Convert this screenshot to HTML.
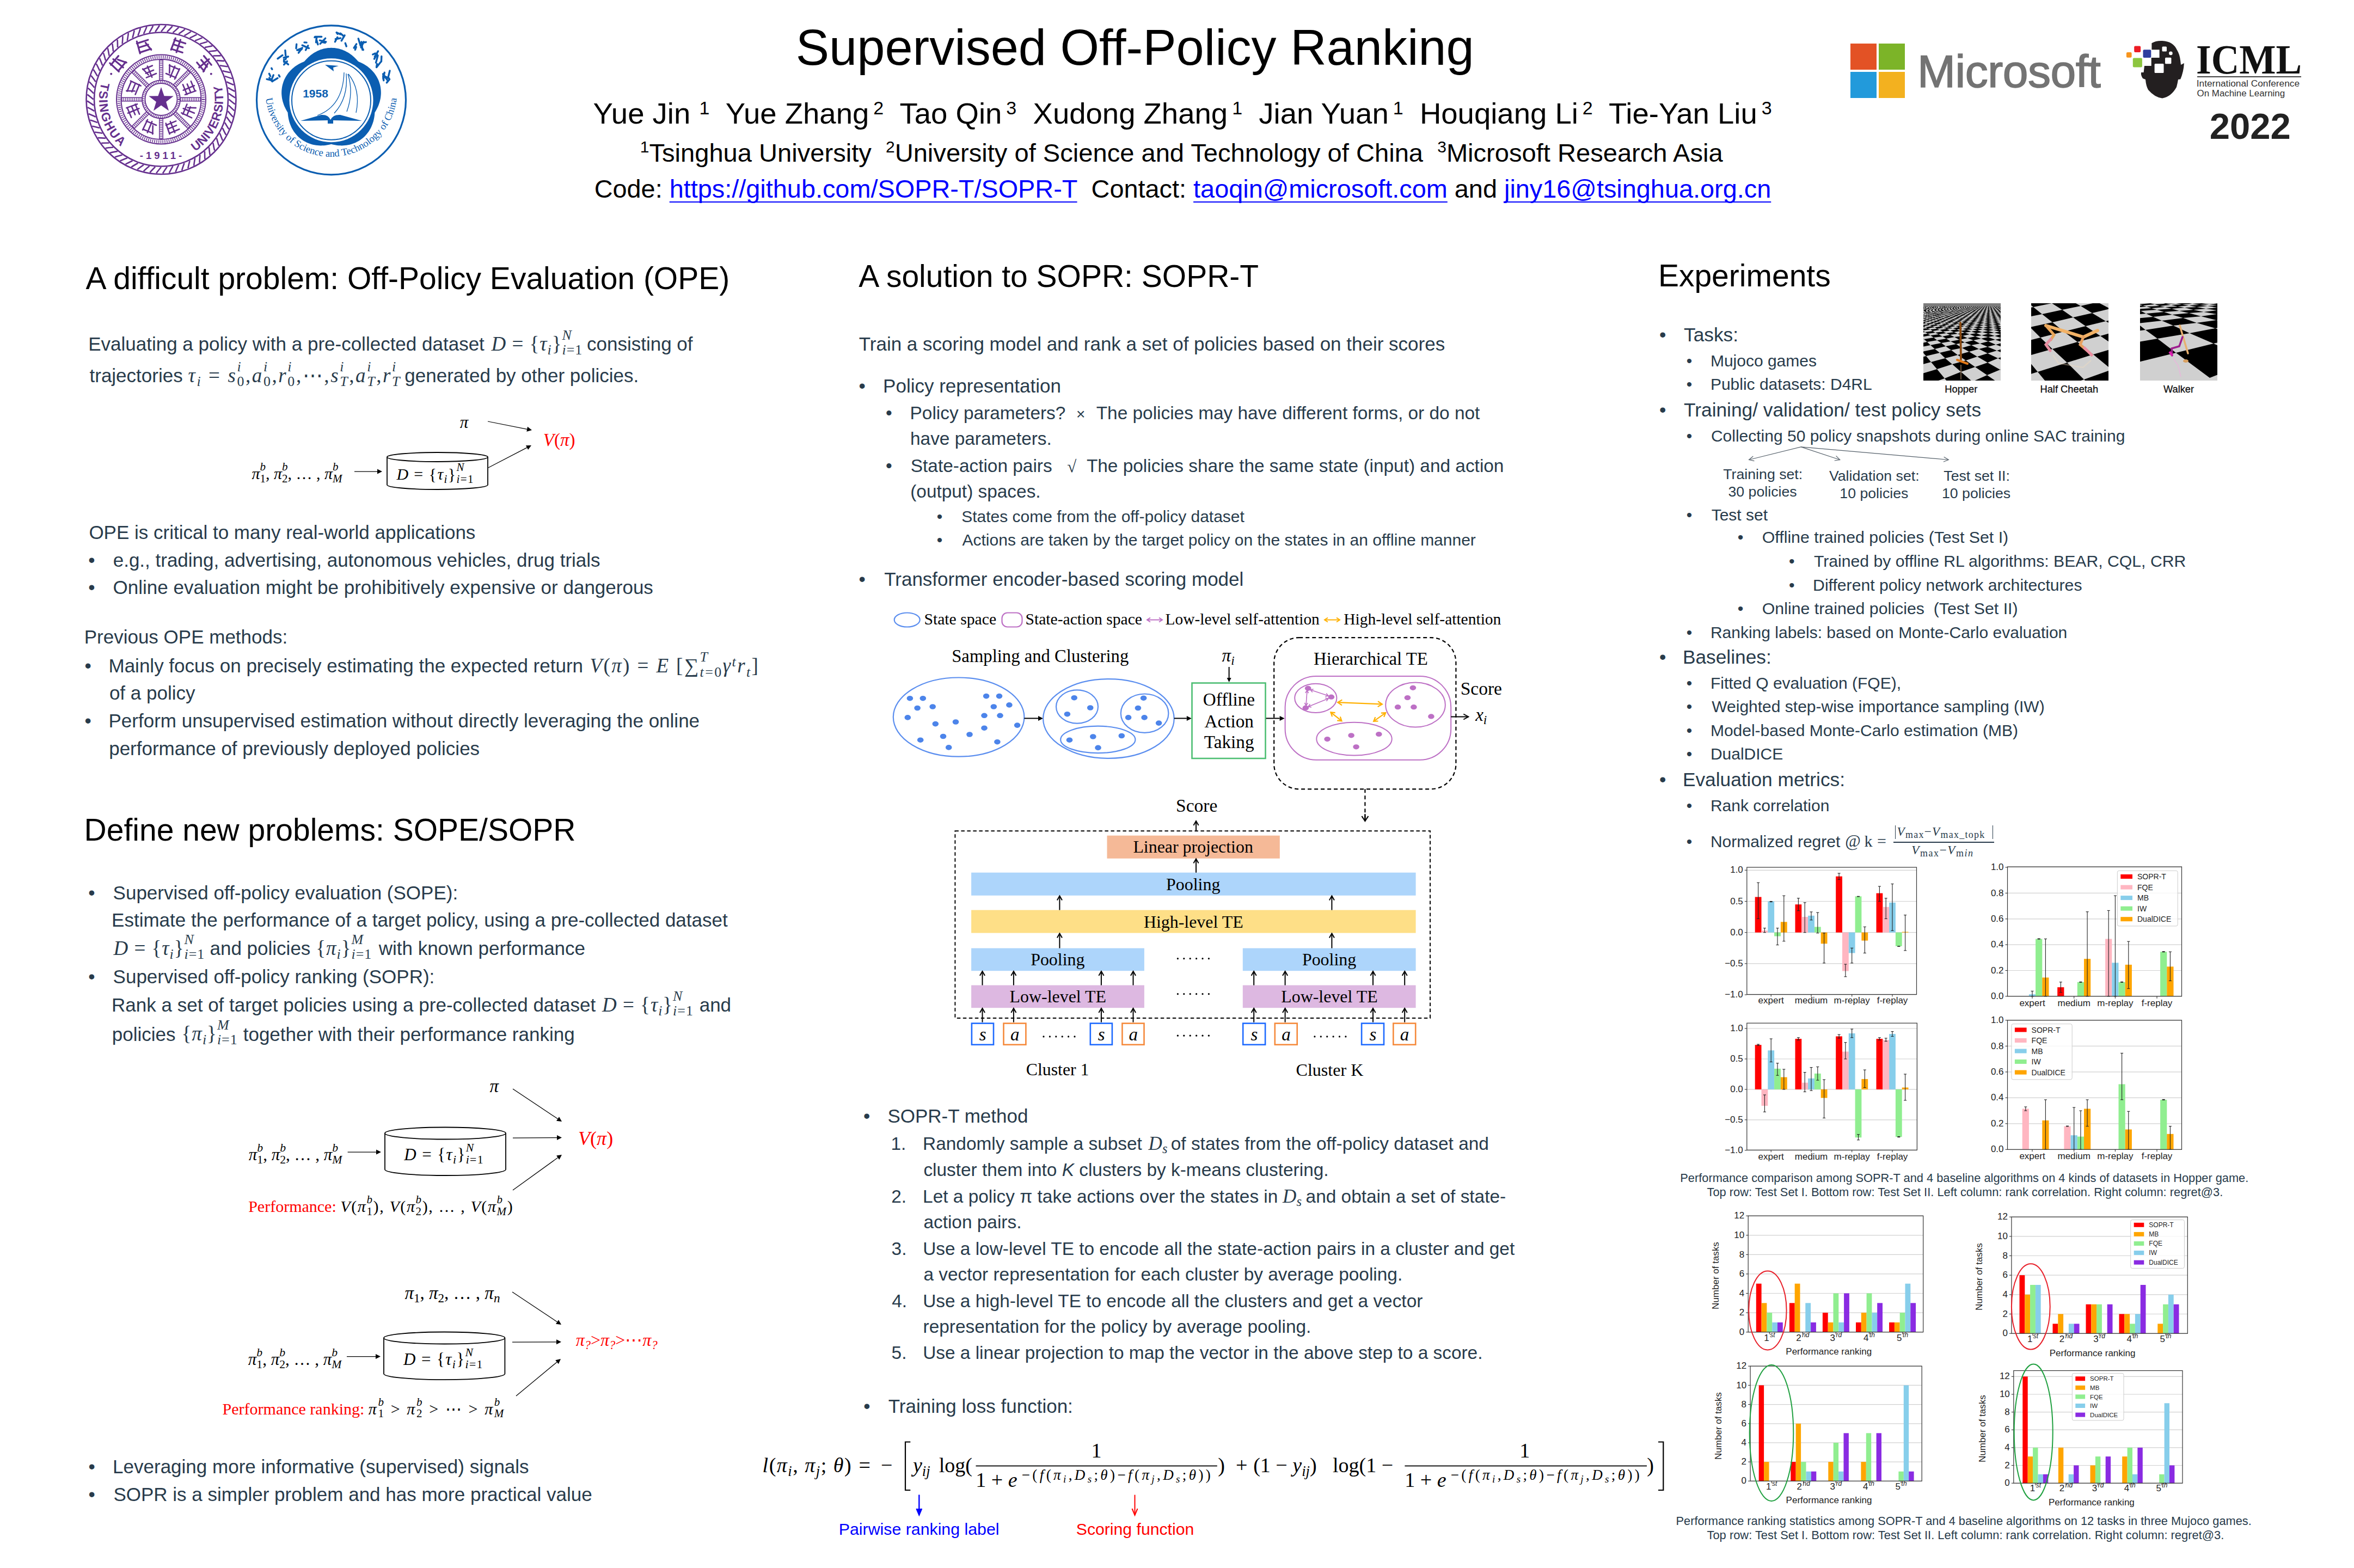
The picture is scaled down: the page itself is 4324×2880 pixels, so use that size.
<!DOCTYPE html>
<html><head><meta charset="utf-8"><title>Supervised Off-Policy Ranking</title><style>
html,body{margin:0;padding:0;background:#fff}
body{width:4324px;height:2880px;position:relative;overflow:hidden}
.t{position:absolute;white-space:pre;line-height:0}
.m{font-family:'Liberation Serif',serif;font-style:italic}
.mr{font-family:'Liberation Serif',serif;font-style:normal}
.sb{font-size:0.7em;position:relative;top:0.28em;line-height:0}
.sp{font-size:0.7em;position:relative;top:-0.42em;line-height:0}
.ssw{position:relative;line-height:0}
.ssu{position:absolute;left:0;font-size:0.7em;transform:translateY(-0.62em);line-height:0}
svg{position:absolute;overflow:visible}
</style></head><body>
<svg style="left:0;top:0" width="620" height="380" viewBox="0 0 620 380">
<circle cx="296" cy="182.5" r="137.5" fill="none" stroke="#652F8E" stroke-width="2.6"/>
<circle cx="296" cy="182.5" r="123" fill="none" stroke="#652F8E" stroke-width="2.6"/>
<path d="M420.5,182.5 Q427.8,188.7 431.7,191.4" stroke="#652F8E" stroke-width="2.6" fill="none"/>
<path d="M420.0,193.4 Q426.8,200.2 430.4,203.2" stroke="#652F8E" stroke-width="2.6" fill="none"/>
<path d="M418.6,204.1 Q424.8,211.5 428.1,214.8" stroke="#652F8E" stroke-width="2.6" fill="none"/>
<path d="M416.3,214.7 Q421.7,222.7 424.8,226.2" stroke="#652F8E" stroke-width="2.6" fill="none"/>
<path d="M413.0,225.1 Q417.8,233.5 420.5,237.3" stroke="#652F8E" stroke-width="2.6" fill="none"/>
<path d="M408.8,235.1 Q412.9,243.9 415.2,247.9" stroke="#652F8E" stroke-width="2.6" fill="none"/>
<path d="M403.8,244.8 Q407.1,253.8 409.1,258.1" stroke="#652F8E" stroke-width="2.6" fill="none"/>
<path d="M398.0,253.9 Q400.4,263.2 402.1,267.6" stroke="#652F8E" stroke-width="2.6" fill="none"/>
<path d="M391.4,262.5 Q393.0,272.0 394.2,276.5" stroke="#652F8E" stroke-width="2.6" fill="none"/>
<path d="M384.0,270.5 Q384.8,280.1 385.7,284.8" stroke="#652F8E" stroke-width="2.6" fill="none"/>
<path d="M376.0,277.9 Q376.0,287.5 376.4,292.2" stroke="#652F8E" stroke-width="2.6" fill="none"/>
<path d="M367.4,284.5 Q366.5,294.1 366.6,298.8" stroke="#652F8E" stroke-width="2.6" fill="none"/>
<path d="M358.2,290.3 Q356.5,299.8 356.2,304.5" stroke="#652F8E" stroke-width="2.6" fill="none"/>
<path d="M348.6,295.3 Q346.1,304.6 345.3,309.3" stroke="#652F8E" stroke-width="2.6" fill="none"/>
<path d="M338.6,299.5 Q335.2,308.5 334.1,313.1" stroke="#652F8E" stroke-width="2.6" fill="none"/>
<path d="M328.2,302.8 Q324.1,311.5 322.5,315.9" stroke="#652F8E" stroke-width="2.6" fill="none"/>
<path d="M317.6,305.1 Q312.7,313.4 310.8,317.7" stroke="#652F8E" stroke-width="2.6" fill="none"/>
<path d="M306.9,306.5 Q301.3,314.4 299.0,318.5" stroke="#652F8E" stroke-width="2.6" fill="none"/>
<path d="M296.0,307.0 Q289.8,314.3 287.1,318.2" stroke="#652F8E" stroke-width="2.6" fill="none"/>
<path d="M285.1,306.5 Q278.3,313.3 275.3,316.9" stroke="#652F8E" stroke-width="2.6" fill="none"/>
<path d="M274.4,305.1 Q267.0,311.3 263.7,314.6" stroke="#652F8E" stroke-width="2.6" fill="none"/>
<path d="M263.8,302.8 Q255.8,308.2 252.3,311.3" stroke="#652F8E" stroke-width="2.6" fill="none"/>
<path d="M253.4,299.5 Q245.0,304.3 241.2,307.0" stroke="#652F8E" stroke-width="2.6" fill="none"/>
<path d="M243.4,295.3 Q234.6,299.4 230.6,301.7" stroke="#652F8E" stroke-width="2.6" fill="none"/>
<path d="M233.8,290.3 Q224.7,293.6 220.4,295.6" stroke="#652F8E" stroke-width="2.6" fill="none"/>
<path d="M224.6,284.5 Q215.3,286.9 210.9,288.6" stroke="#652F8E" stroke-width="2.6" fill="none"/>
<path d="M216.0,277.9 Q206.5,279.5 202.0,280.7" stroke="#652F8E" stroke-width="2.6" fill="none"/>
<path d="M208.0,270.5 Q198.4,271.3 193.7,272.2" stroke="#652F8E" stroke-width="2.6" fill="none"/>
<path d="M200.6,262.5 Q191.0,262.5 186.3,262.9" stroke="#652F8E" stroke-width="2.6" fill="none"/>
<path d="M194.0,253.9 Q184.4,253.0 179.7,253.1" stroke="#652F8E" stroke-width="2.6" fill="none"/>
<path d="M188.2,244.8 Q178.7,243.0 174.0,242.7" stroke="#652F8E" stroke-width="2.6" fill="none"/>
<path d="M183.2,235.1 Q173.9,232.6 169.2,231.8" stroke="#652F8E" stroke-width="2.6" fill="none"/>
<path d="M179.0,225.1 Q170.0,221.7 165.4,220.6" stroke="#652F8E" stroke-width="2.6" fill="none"/>
<path d="M175.7,214.7 Q167.0,210.6 162.6,209.0" stroke="#652F8E" stroke-width="2.6" fill="none"/>
<path d="M173.4,204.1 Q165.1,199.2 160.8,197.3" stroke="#652F8E" stroke-width="2.6" fill="none"/>
<path d="M172.0,193.4 Q164.1,187.8 160.0,185.5" stroke="#652F8E" stroke-width="2.6" fill="none"/>
<path d="M171.5,182.5 Q164.2,176.3 160.3,173.6" stroke="#652F8E" stroke-width="2.6" fill="none"/>
<path d="M172.0,171.6 Q165.2,164.8 161.6,161.8" stroke="#652F8E" stroke-width="2.6" fill="none"/>
<path d="M173.4,160.9 Q167.2,153.5 163.9,150.2" stroke="#652F8E" stroke-width="2.6" fill="none"/>
<path d="M175.7,150.3 Q170.3,142.3 167.2,138.8" stroke="#652F8E" stroke-width="2.6" fill="none"/>
<path d="M179.0,139.9 Q174.2,131.5 171.5,127.7" stroke="#652F8E" stroke-width="2.6" fill="none"/>
<path d="M183.2,129.9 Q179.1,121.1 176.8,117.1" stroke="#652F8E" stroke-width="2.6" fill="none"/>
<path d="M188.2,120.2 Q184.9,111.2 182.9,106.9" stroke="#652F8E" stroke-width="2.6" fill="none"/>
<path d="M194.0,111.1 Q191.6,101.8 189.9,97.4" stroke="#652F8E" stroke-width="2.6" fill="none"/>
<path d="M200.6,102.5 Q199.0,93.0 197.8,88.5" stroke="#652F8E" stroke-width="2.6" fill="none"/>
<path d="M208.0,94.5 Q207.2,84.9 206.3,80.2" stroke="#652F8E" stroke-width="2.6" fill="none"/>
<path d="M216.0,87.1 Q216.0,77.5 215.6,72.8" stroke="#652F8E" stroke-width="2.6" fill="none"/>
<path d="M224.6,80.5 Q225.5,70.9 225.4,66.2" stroke="#652F8E" stroke-width="2.6" fill="none"/>
<path d="M233.7,74.7 Q235.5,65.2 235.8,60.5" stroke="#652F8E" stroke-width="2.6" fill="none"/>
<path d="M243.4,69.7 Q245.9,60.4 246.7,55.7" stroke="#652F8E" stroke-width="2.6" fill="none"/>
<path d="M253.4,65.5 Q256.8,56.5 257.9,51.9" stroke="#652F8E" stroke-width="2.6" fill="none"/>
<path d="M263.8,62.2 Q267.9,53.5 269.5,49.1" stroke="#652F8E" stroke-width="2.6" fill="none"/>
<path d="M274.4,59.9 Q279.3,51.6 281.2,47.3" stroke="#652F8E" stroke-width="2.6" fill="none"/>
<path d="M285.1,58.5 Q290.7,50.6 293.0,46.5" stroke="#652F8E" stroke-width="2.6" fill="none"/>
<path d="M296.0,58.0 Q302.2,50.7 304.9,46.8" stroke="#652F8E" stroke-width="2.6" fill="none"/>
<path d="M306.9,58.5 Q313.7,51.7 316.7,48.1" stroke="#652F8E" stroke-width="2.6" fill="none"/>
<path d="M317.6,59.9 Q325.0,53.7 328.3,50.4" stroke="#652F8E" stroke-width="2.6" fill="none"/>
<path d="M328.2,62.2 Q336.2,56.8 339.7,53.7" stroke="#652F8E" stroke-width="2.6" fill="none"/>
<path d="M338.6,65.5 Q347.0,60.7 350.8,58.0" stroke="#652F8E" stroke-width="2.6" fill="none"/>
<path d="M348.6,69.7 Q357.4,65.6 361.4,63.3" stroke="#652F8E" stroke-width="2.6" fill="none"/>
<path d="M358.2,74.7 Q367.3,71.4 371.6,69.4" stroke="#652F8E" stroke-width="2.6" fill="none"/>
<path d="M367.4,80.5 Q376.7,78.1 381.1,76.4" stroke="#652F8E" stroke-width="2.6" fill="none"/>
<path d="M376.0,87.1 Q385.5,85.5 390.0,84.3" stroke="#652F8E" stroke-width="2.6" fill="none"/>
<path d="M384.0,94.5 Q393.6,93.7 398.3,92.8" stroke="#652F8E" stroke-width="2.6" fill="none"/>
<path d="M391.4,102.5 Q401.0,102.5 405.7,102.1" stroke="#652F8E" stroke-width="2.6" fill="none"/>
<path d="M398.0,111.1 Q407.6,112.0 412.3,111.9" stroke="#652F8E" stroke-width="2.6" fill="none"/>
<path d="M403.8,120.3 Q413.3,122.0 418.0,122.3" stroke="#652F8E" stroke-width="2.6" fill="none"/>
<path d="M408.8,129.9 Q418.1,132.4 422.8,133.2" stroke="#652F8E" stroke-width="2.6" fill="none"/>
<path d="M413.0,139.9 Q422.0,143.3 426.6,144.4" stroke="#652F8E" stroke-width="2.6" fill="none"/>
<path d="M416.3,150.3 Q425.0,154.4 429.4,156.0" stroke="#652F8E" stroke-width="2.6" fill="none"/>
<path d="M418.6,160.9 Q426.9,165.8 431.2,167.7" stroke="#652F8E" stroke-width="2.6" fill="none"/>
<path d="M420.0,171.6 Q427.9,177.2 432.0,179.5" stroke="#652F8E" stroke-width="2.6" fill="none"/>
<circle cx="296" cy="182.5" r="82" fill="none" stroke="#652F8E" stroke-width="2"/>
<circle cx="296" cy="182.5" r="73.5" fill="none" stroke="#652F8E" stroke-width="2"/>
<circle cx="296" cy="182.5" r="77.7" fill="none" stroke="#652F8E" stroke-width="5.5" stroke-dasharray="1.6 2.2" opacity="0.9"/>
<circle cx="296" cy="182.5" r="35" fill="none" stroke="#652F8E" stroke-width="1.8"/>
<circle cx="296" cy="182.5" r="29.5" fill="none" stroke="#652F8E" stroke-width="1.8"/>
<circle cx="296" cy="182.5" r="32.2" fill="none" stroke="#652F8E" stroke-width="3.5" stroke-dasharray="1.4 2" opacity="0.9"/>
<line x1="299.2" y1="217.5" x2="299.2" y2="256.0" stroke="#652F8E" stroke-width="1.5"/>
<line x1="292.8" y1="217.5" x2="292.8" y2="256.0" stroke="#652F8E" stroke-width="1.5"/>
<line x1="296.0" y1="217.5" x2="296.0" y2="256.0" stroke="#652F8E" stroke-width="5" stroke-dasharray="1.3 2"/>
<line x1="273.5" y1="209.5" x2="246.3" y2="236.7" stroke="#652F8E" stroke-width="1.5"/>
<line x1="269.0" y1="205.0" x2="241.8" y2="232.2" stroke="#652F8E" stroke-width="1.5"/>
<line x1="271.3" y1="207.2" x2="244.0" y2="234.5" stroke="#652F8E" stroke-width="5" stroke-dasharray="1.3 2"/>
<line x1="261.0" y1="185.7" x2="222.5" y2="185.7" stroke="#652F8E" stroke-width="1.5"/>
<line x1="261.0" y1="179.3" x2="222.5" y2="179.3" stroke="#652F8E" stroke-width="1.5"/>
<line x1="261.0" y1="182.5" x2="222.5" y2="182.5" stroke="#652F8E" stroke-width="5" stroke-dasharray="1.3 2"/>
<line x1="269.0" y1="160.0" x2="241.8" y2="132.8" stroke="#652F8E" stroke-width="1.5"/>
<line x1="273.5" y1="155.5" x2="246.3" y2="128.3" stroke="#652F8E" stroke-width="1.5"/>
<line x1="271.3" y1="157.8" x2="244.0" y2="130.5" stroke="#652F8E" stroke-width="5" stroke-dasharray="1.3 2"/>
<line x1="292.8" y1="147.5" x2="292.8" y2="109.0" stroke="#652F8E" stroke-width="1.5"/>
<line x1="299.2" y1="147.5" x2="299.2" y2="109.0" stroke="#652F8E" stroke-width="1.5"/>
<line x1="296.0" y1="147.5" x2="296.0" y2="109.0" stroke="#652F8E" stroke-width="5" stroke-dasharray="1.3 2"/>
<line x1="318.5" y1="155.5" x2="345.7" y2="128.3" stroke="#652F8E" stroke-width="1.5"/>
<line x1="323.0" y1="160.0" x2="350.2" y2="132.8" stroke="#652F8E" stroke-width="1.5"/>
<line x1="320.7" y1="157.8" x2="348.0" y2="130.5" stroke="#652F8E" stroke-width="5" stroke-dasharray="1.3 2"/>
<line x1="331.0" y1="179.3" x2="369.5" y2="179.3" stroke="#652F8E" stroke-width="1.5"/>
<line x1="331.0" y1="185.7" x2="369.5" y2="185.7" stroke="#652F8E" stroke-width="1.5"/>
<line x1="331.0" y1="182.5" x2="369.5" y2="182.5" stroke="#652F8E" stroke-width="5" stroke-dasharray="1.3 2"/>
<line x1="323.0" y1="205.0" x2="350.2" y2="232.2" stroke="#652F8E" stroke-width="1.5"/>
<line x1="318.5" y1="209.5" x2="345.7" y2="236.7" stroke="#652F8E" stroke-width="1.5"/>
<line x1="320.7" y1="207.2" x2="348.0" y2="234.5" stroke="#652F8E" stroke-width="5" stroke-dasharray="1.3 2"/>
<polygon points="296.0,160.0 301.6,176.2 318.8,176.6 305.1,187.0 310.1,203.4 296.0,193.6 281.9,203.4 286.9,187.0 273.2,176.6 290.4,176.2" fill="#652F8E"/>
<g transform="translate(275.0,233.3) rotate(22.5)"><line x1="-9.9" y1="-7.7" x2="9.9" y2="-7.7" stroke="#652F8E" stroke-width="2.6" stroke-linecap="round"/><line x1="-8.8" y1="8.4" x2="9.9" y2="8.4" stroke="#652F8E" stroke-width="2.6" stroke-linecap="round"/><line x1="0.0" y1="-11.0" x2="0.0" y2="11.0" stroke="#652F8E" stroke-width="2.6" stroke-linecap="round"/><line x1="4.4" y1="-4.4" x2="9.9" y2="9.9" stroke="#652F8E" stroke-width="2.6" stroke-linecap="round"/><line x1="-8.8" y1="-11.0" x2="-9.9" y2="9.9" stroke="#652F8E" stroke-width="2.6" stroke-linecap="round"/></g>
<g transform="translate(245.2,203.5) rotate(67.5)"><line x1="-7.7" y1="0.0" x2="7.7" y2="0.0" stroke="#652F8E" stroke-width="2.6" stroke-linecap="round"/><line x1="0.0" y1="-11.0" x2="0.0" y2="11.0" stroke="#652F8E" stroke-width="2.6" stroke-linecap="round"/><line x1="-8.8" y1="8.4" x2="9.9" y2="8.4" stroke="#652F8E" stroke-width="2.6" stroke-linecap="round"/><line x1="-9.9" y1="-7.7" x2="9.9" y2="-7.7" stroke="#652F8E" stroke-width="2.6" stroke-linecap="round"/><line x1="-8.8" y1="-11.0" x2="-9.9" y2="9.9" stroke="#652F8E" stroke-width="2.6" stroke-linecap="round"/></g>
<g transform="translate(245.2,161.5) rotate(112.5)"><line x1="-8.8" y1="-11.0" x2="-9.9" y2="9.9" stroke="#652F8E" stroke-width="2.6" stroke-linecap="round"/><line x1="4.4" y1="-4.4" x2="9.9" y2="9.9" stroke="#652F8E" stroke-width="2.6" stroke-linecap="round"/><line x1="-9.9" y1="-7.7" x2="9.9" y2="-7.7" stroke="#652F8E" stroke-width="2.6" stroke-linecap="round"/><line x1="-7.7" y1="0.0" x2="7.7" y2="0.0" stroke="#652F8E" stroke-width="2.6" stroke-linecap="round"/><line x1="-8.8" y1="8.4" x2="9.9" y2="8.4" stroke="#652F8E" stroke-width="2.6" stroke-linecap="round"/></g>
<g transform="translate(275.0,131.7) rotate(157.5)"><line x1="-8.8" y1="8.4" x2="9.9" y2="8.4" stroke="#652F8E" stroke-width="2.6" stroke-linecap="round"/><line x1="-9.9" y1="-7.7" x2="9.9" y2="-7.7" stroke="#652F8E" stroke-width="2.6" stroke-linecap="round"/><line x1="-7.7" y1="0.0" x2="7.7" y2="0.0" stroke="#652F8E" stroke-width="2.6" stroke-linecap="round"/><line x1="0.0" y1="-11.0" x2="0.0" y2="11.0" stroke="#652F8E" stroke-width="2.6" stroke-linecap="round"/><line x1="4.4" y1="-4.4" x2="9.9" y2="9.9" stroke="#652F8E" stroke-width="2.6" stroke-linecap="round"/></g>
<g transform="translate(317.0,131.7) rotate(202.5)"><line x1="-8.8" y1="-11.0" x2="-9.9" y2="9.9" stroke="#652F8E" stroke-width="2.6" stroke-linecap="round"/><line x1="-9.9" y1="-7.7" x2="9.9" y2="-7.7" stroke="#652F8E" stroke-width="2.6" stroke-linecap="round"/><line x1="-8.8" y1="8.4" x2="9.9" y2="8.4" stroke="#652F8E" stroke-width="2.6" stroke-linecap="round"/><line x1="0.0" y1="-11.0" x2="0.0" y2="11.0" stroke="#652F8E" stroke-width="2.6" stroke-linecap="round"/><line x1="4.4" y1="-4.4" x2="9.9" y2="9.9" stroke="#652F8E" stroke-width="2.6" stroke-linecap="round"/></g>
<g transform="translate(346.8,161.5) rotate(247.5)"><line x1="0.0" y1="-11.0" x2="0.0" y2="11.0" stroke="#652F8E" stroke-width="2.6" stroke-linecap="round"/><line x1="-8.8" y1="-11.0" x2="-9.9" y2="9.9" stroke="#652F8E" stroke-width="2.6" stroke-linecap="round"/><line x1="-8.8" y1="8.4" x2="9.9" y2="8.4" stroke="#652F8E" stroke-width="2.6" stroke-linecap="round"/><line x1="-7.7" y1="0.0" x2="7.7" y2="0.0" stroke="#652F8E" stroke-width="2.6" stroke-linecap="round"/><line x1="-9.9" y1="-7.7" x2="9.9" y2="-7.7" stroke="#652F8E" stroke-width="2.6" stroke-linecap="round"/></g>
<g transform="translate(346.8,203.5) rotate(292.5)"><line x1="-8.8" y1="-11.0" x2="-9.9" y2="9.9" stroke="#652F8E" stroke-width="2.6" stroke-linecap="round"/><line x1="0.0" y1="-11.0" x2="0.0" y2="11.0" stroke="#652F8E" stroke-width="2.6" stroke-linecap="round"/><line x1="-7.7" y1="0.0" x2="7.7" y2="0.0" stroke="#652F8E" stroke-width="2.6" stroke-linecap="round"/><line x1="4.4" y1="-4.4" x2="9.9" y2="9.9" stroke="#652F8E" stroke-width="2.6" stroke-linecap="round"/><line x1="-9.9" y1="-7.7" x2="9.9" y2="-7.7" stroke="#652F8E" stroke-width="2.6" stroke-linecap="round"/></g>
<g transform="translate(317.0,233.3) rotate(337.5)"><line x1="-9.9" y1="-7.7" x2="9.9" y2="-7.7" stroke="#652F8E" stroke-width="2.6" stroke-linecap="round"/><line x1="-7.7" y1="0.0" x2="7.7" y2="0.0" stroke="#652F8E" stroke-width="2.6" stroke-linecap="round"/><line x1="-8.8" y1="8.4" x2="9.9" y2="8.4" stroke="#652F8E" stroke-width="2.6" stroke-linecap="round"/><line x1="-8.8" y1="-11.0" x2="-9.9" y2="9.9" stroke="#652F8E" stroke-width="2.6" stroke-linecap="round"/><line x1="0.0" y1="-11.0" x2="0.0" y2="11.0" stroke="#652F8E" stroke-width="2.6" stroke-linecap="round"/></g>
<g transform="translate(217.1,116.3) rotate(-50.0)"><line x1="4.8" y1="-4.8" x2="10.8" y2="10.8" stroke="#652F8E" stroke-width="3.2" stroke-linecap="round"/><line x1="-9.6" y1="-12.0" x2="-10.8" y2="10.8" stroke="#652F8E" stroke-width="3.2" stroke-linecap="round"/><line x1="0.0" y1="-12.0" x2="0.0" y2="12.0" stroke="#652F8E" stroke-width="3.2" stroke-linecap="round"/><line x1="-10.8" y1="-8.4" x2="10.8" y2="-8.4" stroke="#652F8E" stroke-width="3.2" stroke-linecap="round"/><line x1="-9.6" y1="9.1" x2="10.8" y2="9.1" stroke="#652F8E" stroke-width="3.2" stroke-linecap="round"/></g>
<g transform="translate(264.2,84.5) rotate(-18.0)"><line x1="-10.8" y1="-8.4" x2="10.8" y2="-8.4" stroke="#652F8E" stroke-width="3.2" stroke-linecap="round"/><line x1="-9.6" y1="-12.0" x2="-10.8" y2="10.8" stroke="#652F8E" stroke-width="3.2" stroke-linecap="round"/><line x1="4.8" y1="-4.8" x2="10.8" y2="10.8" stroke="#652F8E" stroke-width="3.2" stroke-linecap="round"/><line x1="-9.6" y1="9.1" x2="10.8" y2="9.1" stroke="#652F8E" stroke-width="3.2" stroke-linecap="round"/><line x1="-8.4" y1="0.0" x2="8.4" y2="0.0" stroke="#652F8E" stroke-width="3.2" stroke-linecap="round"/></g>
<g transform="translate(327.8,84.5) rotate(18.0)"><line x1="-10.8" y1="-8.4" x2="10.8" y2="-8.4" stroke="#652F8E" stroke-width="3.2" stroke-linecap="round"/><line x1="-8.4" y1="0.0" x2="8.4" y2="0.0" stroke="#652F8E" stroke-width="3.2" stroke-linecap="round"/><line x1="-9.6" y1="-12.0" x2="-10.8" y2="10.8" stroke="#652F8E" stroke-width="3.2" stroke-linecap="round"/><line x1="0.0" y1="-12.0" x2="0.0" y2="12.0" stroke="#652F8E" stroke-width="3.2" stroke-linecap="round"/><line x1="-9.6" y1="9.1" x2="10.8" y2="9.1" stroke="#652F8E" stroke-width="3.2" stroke-linecap="round"/></g>
<g transform="translate(374.9,116.3) rotate(50.0)"><line x1="-8.4" y1="0.0" x2="8.4" y2="0.0" stroke="#652F8E" stroke-width="3.2" stroke-linecap="round"/><line x1="-10.8" y1="-8.4" x2="10.8" y2="-8.4" stroke="#652F8E" stroke-width="3.2" stroke-linecap="round"/><line x1="4.8" y1="-4.8" x2="10.8" y2="10.8" stroke="#652F8E" stroke-width="3.2" stroke-linecap="round"/><line x1="0.0" y1="-12.0" x2="0.0" y2="12.0" stroke="#652F8E" stroke-width="3.2" stroke-linecap="round"/><line x1="-9.6" y1="9.1" x2="10.8" y2="9.1" stroke="#652F8E" stroke-width="3.2" stroke-linecap="round"/></g>
<circle cx="204.2" cy="135.7" r="2" fill="#652F8E"/>
<circle cx="387.8" cy="135.7" r="2" fill="#652F8E"/>
<defs><path id="tsl" d="M194.6,164.6 A103,103 0 0,0 241.4,269.8"/></defs>
<path id="arcL" d="M186.4,151.1 A114,114 0 0,0 253.3,288.2" fill="none"/>
<text font-family="Liberation Sans" font-weight="bold" font-size="22.5" fill="#652F8E" letter-spacing="1.8"><textPath href="#arcL">TSINGHUA</textPath></text>
<path id="arcR" d="M358.1,278.1 A114,114 0 0,0 394.7,125.5" fill="none"/>
<text font-family="Liberation Sans" font-weight="bold" font-size="22.5" fill="#652F8E" letter-spacing="0.5"><textPath href="#arcR">UNIVERSITY</textPath></text>
<text x="298" y="291.5" text-anchor="middle" font-family="Liberation Sans" font-weight="bold" font-size="18.5" fill="#652F8E" letter-spacing="5">-1911-</text>
</svg>
<svg style="left:0;top:0" width="800" height="380" viewBox="0 0 800 380">
<circle cx="608.5" cy="183.8" r="137" fill="none" stroke="#0B5EB1" stroke-width="3.2"/>
<polygon points="608.5,87.8 611.4,87.9 614.3,88.1 617.2,88.5 620.1,89.0 622.9,89.6 625.7,90.4 628.5,91.3 631.2,92.4 633.8,93.6 636.4,94.9 638.9,96.3 641.4,97.8 643.7,99.4 646.0,101.1 648.2,102.9 650.3,104.8 652.3,106.7 654.3,108.7 656.1,110.7 657.9,112.8 660.4,113.9 662.9,115.0 665.4,116.2 667.9,117.5 670.3,119.0 672.7,120.5 675.0,122.1 677.3,123.9 679.5,125.7 681.6,127.7 683.6,129.7 685.6,131.9 687.4,134.1 689.1,136.5 690.8,138.9 692.3,141.4 693.6,144.0 694.9,146.6 696.0,149.3 696.9,152.1 697.8,154.9 698.5,157.7 699.0,160.6 699.4,163.5 699.7,166.4 699.8,169.3 699.8,172.2 699.6,175.1 699.3,177.9 698.9,180.8 698.3,183.6 697.6,186.4 696.8,189.1 695.9,191.8 694.9,194.5 693.7,197.1 692.5,199.6 691.2,202.0 689.8,204.4 688.4,206.8 688.2,209.5 687.9,212.2 687.5,215.0 687.0,217.7 686.4,220.5 685.7,223.2 684.8,226.0 683.9,228.6 682.8,231.3 681.6,233.9 680.3,236.5 678.8,239.0 677.3,241.4 675.6,243.8 673.8,246.1 671.9,248.3 669.8,250.4 667.7,252.4 665.5,254.3 663.2,256.0 660.8,257.7 658.3,259.2 655.7,260.6 653.1,261.9 650.4,263.1 647.7,264.1 644.9,264.9 642.1,265.7 639.3,266.3 636.4,266.7 633.6,267.1 630.7,267.3 627.8,267.4 625.0,267.3 622.2,267.2 619.4,266.9 616.6,266.5 613.9,266.0 611.2,265.5 608.5,264.8 605.8,265.5 603.1,266.0 600.4,266.5 597.6,266.9 594.8,267.2 592.0,267.3 589.2,267.4 586.3,267.3 583.4,267.1 580.6,266.7 577.7,266.3 574.9,265.7 572.1,264.9 569.3,264.1 566.6,263.1 563.9,261.9 561.3,260.6 558.7,259.2 556.2,257.7 553.8,256.0 551.5,254.3 549.3,252.4 547.2,250.4 545.1,248.3 543.2,246.1 541.4,243.8 539.7,241.4 538.2,239.0 536.7,236.5 535.4,233.9 534.2,231.3 533.1,228.6 532.2,226.0 531.3,223.2 530.6,220.5 530.0,217.7 529.5,215.0 529.1,212.2 528.8,209.5 528.6,206.8 527.2,204.4 525.8,202.0 524.5,199.6 523.3,197.1 522.1,194.5 521.1,191.8 520.2,189.1 519.4,186.4 518.7,183.6 518.1,180.8 517.7,177.9 517.4,175.1 517.2,172.2 517.2,169.3 517.3,166.4 517.6,163.5 518.0,160.6 518.5,157.7 519.2,154.9 520.1,152.1 521.0,149.3 522.1,146.6 523.4,144.0 524.7,141.4 526.2,138.9 527.9,136.5 529.6,134.1 531.4,131.9 533.4,129.7 535.4,127.7 537.5,125.7 539.7,123.9 542.0,122.1 544.3,120.5 546.7,119.0 549.1,117.5 551.6,116.2 554.1,115.0 556.6,113.9 559.1,112.8 560.9,110.7 562.7,108.7 564.7,106.7 566.7,104.8 568.8,102.9 571.0,101.1 573.3,99.4 575.6,97.8 578.1,96.3 580.6,94.9 583.2,93.6 585.8,92.4 588.5,91.3 591.3,90.4 594.1,89.6 596.9,89.0 599.8,88.5 602.7,88.1 605.6,87.9" fill="#0B5EB1"/>
<circle cx="608.5" cy="184.3" r="77" fill="#fff"/>
<circle cx="608.5" cy="184.3" r="72.5" fill="none" stroke="#0B5EB1" stroke-width="2"/>
<text x="579.5" y="178.5" text-anchor="middle" font-family="Liberation Sans" font-weight="bold" font-size="21" fill="#0B5EB1">1958</text>
<path d="M552,222 L590,211 Q603,210 607,220 Q612,210 625,211 L665,222 L612,221 L612,227 L602,227 L602,221 Z" fill="#0B5EB1"/>
<path d="M583,212 Q630,195 632,133" fill="none" stroke="#0B5EB1" stroke-width="1.3"/>
<path d="M614,208 Q640,180 636,135" fill="none" stroke="#0B5EB1" stroke-width="1.3"/>
<path d="M637,205 Q650,170 639,136" fill="none" stroke="#0B5EB1" stroke-width="1.3"/>
<path d="M654,207 Q663,165 640,136" fill="none" stroke="#0B5EB1" stroke-width="1.3"/>
<path d="M597,119 L622,121 L612,124 L613,131 Z" fill="#0B5EB1"/>
<path id="uarc" d="M487.8,175.4 A121,121 0 0,0 729.2,175.4" fill="none"/>
<text font-family="Liberation Serif" font-size="18.5" fill="#0B5EB1" letter-spacing="0"><textPath href="#uarc" startOffset="50%" text-anchor="middle">University of Science and Technology of China</textPath></text>
<g transform="translate(504.5,139.6) rotate(-67.0)"><line x1="-3.5" y1="-7.0" x2="0.1" y2="-11.0" stroke="#0B5EB1" stroke-width="3.4" stroke-linecap="round"/><line x1="0.7" y1="-2.7" x2="-9.9" y2="-2.5" stroke="#0B5EB1" stroke-width="3.4" stroke-linecap="round"/><line x1="-9.3" y1="-1.3" x2="-11.0" y2="-11.0" stroke="#0B5EB1" stroke-width="3.4" stroke-linecap="round"/><line x1="-1.5" y1="6.5" x2="-10.5" y2="-0.1" stroke="#0B5EB1" stroke-width="3.4" stroke-linecap="round"/><line x1="2.5" y1="9.0" x2="4.4" y2="6.5" stroke="#0B5EB1" stroke-width="3.4" stroke-linecap="round"/><line x1="9.5" y1="-9.1" x2="11.0" y2="-11.0" stroke="#0B5EB1" stroke-width="3.4" stroke-linecap="round"/><line x1="-7.1" y1="-7.6" x2="-11.0" y2="-0.1" stroke="#0B5EB1" stroke-width="3.4" stroke-linecap="round"/></g>
<g transform="translate(524.7,108.0) rotate(-47.9)"><line x1="-6.4" y1="1.6" x2="-3.1" y2="-1.4" stroke="#0B5EB1" stroke-width="3.4" stroke-linecap="round"/><line x1="1.0" y1="-8.7" x2="-9.6" y2="-11.0" stroke="#0B5EB1" stroke-width="3.4" stroke-linecap="round"/><line x1="3.6" y1="-1.4" x2="-0.9" y2="0.6" stroke="#0B5EB1" stroke-width="3.4" stroke-linecap="round"/><line x1="-0.9" y1="-4.0" x2="6.1" y2="0.8" stroke="#0B5EB1" stroke-width="3.4" stroke-linecap="round"/><line x1="-5.1" y1="1.5" x2="-4.5" y2="10.5" stroke="#0B5EB1" stroke-width="3.4" stroke-linecap="round"/><line x1="4.6" y1="-4.2" x2="11.0" y2="-11.0" stroke="#0B5EB1" stroke-width="3.4" stroke-linecap="round"/><line x1="-1.6" y1="5.1" x2="-10.0" y2="4.9" stroke="#0B5EB1" stroke-width="3.4" stroke-linecap="round"/></g>
<g transform="translate(554.2,84.7) rotate(-28.7)"><line x1="-9.2" y1="3.4" x2="-2.9" y2="5.1" stroke="#0B5EB1" stroke-width="3.4" stroke-linecap="round"/><line x1="7.5" y1="-3.7" x2="11.0" y2="-1.5" stroke="#0B5EB1" stroke-width="3.4" stroke-linecap="round"/><line x1="1.6" y1="-0.9" x2="9.8" y2="9.8" stroke="#0B5EB1" stroke-width="3.4" stroke-linecap="round"/><line x1="-0.5" y1="3.3" x2="-11.0" y2="8.1" stroke="#0B5EB1" stroke-width="3.4" stroke-linecap="round"/><line x1="2.9" y1="9.9" x2="10.7" y2="4.7" stroke="#0B5EB1" stroke-width="3.4" stroke-linecap="round"/><line x1="-2.3" y1="3.4" x2="-11.0" y2="2.5" stroke="#0B5EB1" stroke-width="3.4" stroke-linecap="round"/><line x1="-6.6" y1="-7.7" x2="-11.0" y2="-1.2" stroke="#0B5EB1" stroke-width="3.4" stroke-linecap="round"/></g>
<g transform="translate(589.7,72.4) rotate(-9.6)"><line x1="-7.4" y1="-5.0" x2="-10.0" y2="3.9" stroke="#0B5EB1" stroke-width="3.4" stroke-linecap="round"/><line x1="-8.4" y1="-1.0" x2="-7.2" y2="8.2" stroke="#0B5EB1" stroke-width="3.4" stroke-linecap="round"/><line x1="6.4" y1="7.3" x2="1.1" y2="5.2" stroke="#0B5EB1" stroke-width="3.4" stroke-linecap="round"/><line x1="-2.8" y1="7.7" x2="8.2" y2="-0.7" stroke="#0B5EB1" stroke-width="3.4" stroke-linecap="round"/><line x1="-6.5" y1="-5.4" x2="-11.0" y2="-5.7" stroke="#0B5EB1" stroke-width="3.4" stroke-linecap="round"/><line x1="1.8" y1="-4.7" x2="-10.1" y2="-6.7" stroke="#0B5EB1" stroke-width="3.4" stroke-linecap="round"/><line x1="-2.6" y1="1.3" x2="8.3" y2="5.9" stroke="#0B5EB1" stroke-width="3.4" stroke-linecap="round"/></g>
<g transform="translate(627.3,72.4) rotate(9.6)"><line x1="0.3" y1="2.4" x2="4.5" y2="-8.4" stroke="#0B5EB1" stroke-width="3.4" stroke-linecap="round"/><line x1="8.0" y1="5.6" x2="11.0" y2="11.0" stroke="#0B5EB1" stroke-width="3.4" stroke-linecap="round"/><line x1="-2.2" y1="-2.0" x2="-11.0" y2="1.2" stroke="#0B5EB1" stroke-width="3.4" stroke-linecap="round"/><line x1="-8.8" y1="-8.7" x2="-11.0" y2="-11.0" stroke="#0B5EB1" stroke-width="3.4" stroke-linecap="round"/><line x1="-3.2" y1="-8.9" x2="-11.0" y2="-11.0" stroke="#0B5EB1" stroke-width="3.4" stroke-linecap="round"/><line x1="-8.0" y1="-2.7" x2="-11.0" y2="6.3" stroke="#0B5EB1" stroke-width="3.4" stroke-linecap="round"/><line x1="2.3" y1="-7.0" x2="-3.7" y2="-10.7" stroke="#0B5EB1" stroke-width="3.4" stroke-linecap="round"/></g>
<g transform="translate(662.8,84.7) rotate(28.7)"><line x1="-2.7" y1="-7.5" x2="5.7" y2="4.3" stroke="#0B5EB1" stroke-width="3.4" stroke-linecap="round"/><line x1="-0.7" y1="-0.3" x2="-10.6" y2="-9.9" stroke="#0B5EB1" stroke-width="3.4" stroke-linecap="round"/><line x1="-3.1" y1="-4.7" x2="4.7" y2="-11.0" stroke="#0B5EB1" stroke-width="3.4" stroke-linecap="round"/><line x1="-9.5" y1="9.0" x2="-8.9" y2="0.5" stroke="#0B5EB1" stroke-width="3.4" stroke-linecap="round"/><line x1="0.9" y1="-9.5" x2="1.5" y2="2.0" stroke="#0B5EB1" stroke-width="3.4" stroke-linecap="round"/><line x1="7.3" y1="3.9" x2="1.5" y2="0.7" stroke="#0B5EB1" stroke-width="3.4" stroke-linecap="round"/><line x1="-6.7" y1="5.4" x2="-5.9" y2="11.0" stroke="#0B5EB1" stroke-width="3.4" stroke-linecap="round"/></g>
<g transform="translate(692.3,108.0) rotate(47.8)"><line x1="-3.4" y1="-5.5" x2="4.1" y2="6.1" stroke="#0B5EB1" stroke-width="3.4" stroke-linecap="round"/><line x1="7.1" y1="6.1" x2="11.0" y2="11.0" stroke="#0B5EB1" stroke-width="3.4" stroke-linecap="round"/><line x1="-5.5" y1="0.4" x2="-8.9" y2="-11.0" stroke="#0B5EB1" stroke-width="3.4" stroke-linecap="round"/><line x1="-9.4" y1="-4.4" x2="-11.0" y2="0.2" stroke="#0B5EB1" stroke-width="3.4" stroke-linecap="round"/><line x1="9.1" y1="-1.1" x2="11.0" y2="10.7" stroke="#0B5EB1" stroke-width="3.4" stroke-linecap="round"/><line x1="9.1" y1="-2.7" x2="2.4" y2="-9.3" stroke="#0B5EB1" stroke-width="3.4" stroke-linecap="round"/><line x1="-6.1" y1="-5.9" x2="-3.1" y2="3.7" stroke="#0B5EB1" stroke-width="3.4" stroke-linecap="round"/></g>
<g transform="translate(712.5,139.6) rotate(67.0)"><line x1="6.8" y1="-0.4" x2="10.5" y2="6.8" stroke="#0B5EB1" stroke-width="3.4" stroke-linecap="round"/><line x1="-8.3" y1="3.2" x2="1.5" y2="10.0" stroke="#0B5EB1" stroke-width="3.4" stroke-linecap="round"/><line x1="5.0" y1="-0.4" x2="-2.7" y2="6.5" stroke="#0B5EB1" stroke-width="3.4" stroke-linecap="round"/><line x1="-3.3" y1="6.0" x2="8.0" y2="3.5" stroke="#0B5EB1" stroke-width="3.4" stroke-linecap="round"/><line x1="-2.0" y1="8.9" x2="3.4" y2="1.0" stroke="#0B5EB1" stroke-width="3.4" stroke-linecap="round"/><line x1="-7.5" y1="-7.0" x2="2.3" y2="0.4" stroke="#0B5EB1" stroke-width="3.4" stroke-linecap="round"/><line x1="-7.1" y1="6.5" x2="4.5" y2="10.3" stroke="#0B5EB1" stroke-width="3.4" stroke-linecap="round"/></g>
</svg>
<div class="t" style="left:1461.7px;top:87.0px;font-size:92px;font-family:'Liberation Sans',sans-serif;color:#000;">Supervised Off-Policy Ranking</div>
<div class="t" style="left:1089.5px;top:208.6px;font-size:54.5px;font-family:'Liberation Sans',sans-serif;color:#000;">Yue Jin <span style="font-size:34px;position:relative;top:-17px;margin-left:1px">1</span>  Yue Zhang<span style="font-size:34px;position:relative;top:-17px;margin-left:8px">2</span>  Tao Qin<span style="font-size:34px;position:relative;top:-17px;margin-left:8px">3</span>  Xudong Zhang<span style="font-size:34px;position:relative;top:-17px;margin-left:8px">1</span>  Jian Yuan<span style="font-size:34px;position:relative;top:-17px;margin-left:8px">1</span>  Houqiang Li<span style="font-size:34px;position:relative;top:-17px;margin-left:8px">2</span>  Tie-Yan Liu<span style="font-size:34px;position:relative;top:-17px;margin-left:8px">3</span></div>
<div class="t" style="left:1175.8px;top:280.9px;font-size:47.1px;font-family:'Liberation Sans',sans-serif;color:#000;"><span style="font-size:30px;position:relative;top:-17px">1</span>Tsinghua University  <span style="font-size:30px;position:relative;top:-17px">2</span>University of Science and Technology of China  <span style="font-size:30px;position:relative;top:-17px">3</span>Microsoft Research Asia</div>
<div class="t" style="left:1091.7px;top:347.2px;font-size:46.85px;font-family:'Liberation Sans',sans-serif;color:#000;">Code: <span style="color:#0000ff;text-decoration:underline;text-decoration-thickness:2px;text-underline-offset:7px;text-decoration-skip-ink:none">https://github.com/SOPR-T/SOPR-T</span>  Contact: <span style="color:#0000ff;text-decoration:underline;text-decoration-thickness:2px;text-underline-offset:7px;text-decoration-skip-ink:none">taoqin@microsoft.com</span> and <span style="color:#0000ff;text-decoration:underline;text-decoration-thickness:2px;text-underline-offset:7px;text-decoration-skip-ink:none">jiny16@tsinghua.org.cn</span></div>
<div style="position:absolute;left:3399.0px;top:80.0px;width:48.0px;height:48.0px;background:#E35225"></div>
<div style="position:absolute;left:3451.0px;top:80.0px;width:48.0px;height:48.0px;background:#7CB428"></div>
<div style="position:absolute;left:3399.0px;top:132.0px;width:48.0px;height:48.0px;background:#229ADB"></div>
<div style="position:absolute;left:3451.0px;top:132.0px;width:48.0px;height:48.0px;background:#F3B11F"></div>
<div class="t" style="left:3522.1px;top:130.9px;font-size:84px;font-family:'Liberation Sans',sans-serif;color:#737373;-webkit-text-stroke:1.6px #737373;letter-spacing:-0.5px">Microsoft</div>
<svg style="left:0;top:0" width="4324" height="300">
<path d="M3952.4,91.2 L3952.4,79.3 Q3960,74.5 3971.8,75 Q3992,76 3999,92 Q4004,100 4005.2,112 L4006,119 L4011.9,116 Q4011,132 4005.2,145.5 L4001,146 Q4000,152 3998,160 Q3988,178 3971.8,180.4 Q3958,179 3946,165 Q3942,158 3941,146 L3936,144 Q3932,138 3933.1,133 L3937.6,132.9 L3939,121 L3951.7,121 L3951.7,106 L3966.6,106 L3966.6,91.2 Z" fill="#231F20"/>
<rect x="3971.5" y="85.6" width="8.5" height="8.9" rx="1.5" fill="#fff"/><circle cx="3987.4" cy="97.9" r="3.3" fill="#fff"/>
<rect x="3977" y="105.8" width="11.4" height="11.4" rx="1.5" fill="#fff"/><rect x="3957.6" y="117" width="16.9" height="17" rx="1.5" fill="#fff"/>
<rect x="3920.2" y="84.5" width="11.9" height="11.6" rx="2" fill="#ED1C24"/><rect x="3936.5" y="91.2" width="14.8" height="14.9" rx="2" fill="#2E3E9E"/>
<rect x="3905.9" y="96.1" width="9.7" height="9.7" rx="2" fill="#F7941D"/><rect x="3917.8" y="106.5" width="17.1" height="17.1" rx="2" fill="#8DC63F"/>
</svg>
<div class="t" style="left:4033.9px;top:109.0px;font-size:77px;font-family:'Liberation Serif',serif;font-weight:bold;color:#111;transform:scaleX(0.925);transform-origin:0 0">ICML</div>
<div style="position:absolute;left:4035.7px;top:140.3px;width:191.0px;height:2.2px;background:#444"></div>
<div class="t" style="left:4034.8px;top:152.9px;font-size:17.3px;font-family:'Liberation Sans',sans-serif;color:#333;">International Conference</div>
<div class="t" style="left:4035.6px;top:171.6px;font-size:16.9px;font-family:'Liberation Sans',sans-serif;color:#333;">On Machine Learning</div>
<div class="t" style="left:4058.7px;top:231.8px;font-size:67px;font-family:'Liberation Sans',sans-serif;font-weight:bold;color:#222;">2022</div>
<div class="t" style="left:157.5px;top:510.6px;font-size:57px;font-family:'Liberation Sans',sans-serif;color:#000;">A difficult problem: Off-Policy Evaluation (OPE)</div>
<div class="t" style="left:162.2px;top:632.3px;font-size:35px;font-family:'Liberation Sans',sans-serif;color:#283B4B;">Evaluating a policy with a pre-collected dataset</div>
<div class="t" style="left:902.4px;top:631.9px;font-size:37px;font-family:'Liberation Serif',serif;font-style:italic;color:#283B4B;letter-spacing:1px">D <span class="mr">=</span> <span class="mr">{</span>τ<span class="ssw"><span class="sb">i</span></span><span class="mr">}</span><span class="ssw"><span class="sb">i<span class="mr">=</span><span class="mr">1</span></span><span class="ssu">N</span></span></div>
<div class="t" style="left:1078.0px;top:632.3px;font-size:35px;font-family:'Liberation Sans',sans-serif;color:#283B4B;">consisting of</div>
<div class="t" style="left:164.5px;top:690.3px;font-size:35px;font-family:'Liberation Sans',sans-serif;color:#283B4B;">trajectories</div>
<div class="t" style="left:345.6px;top:689.9px;font-size:37px;font-family:'Liberation Serif',serif;font-style:italic;color:#283B4B;letter-spacing:2.6px">τ<span class="sb">i</span> <span class="mr">=</span> s<span class="ssw"><span class="sb"><span class="mr">0</span></span><span class="ssu">i</span></span><span class="mr">,</span>a<span class="ssw"><span class="sb"><span class="mr">0</span></span><span class="ssu">i</span></span><span class="mr">,</span>r<span class="ssw"><span class="sb"><span class="mr">0</span></span><span class="ssu">i</span></span><span class="mr">,</span><span class="mr">⋯</span><span class="mr">,</span>s<span class="ssw"><span class="sb">T</span><span class="ssu">i</span></span><span class="mr">,</span>a<span class="ssw"><span class="sb">T</span><span class="ssu">i</span></span><span class="mr">,</span>r<span class="ssw"><span class="sb">T</span><span class="ssu">i</span></span></div>
<div class="t" style="left:743.3px;top:690.3px;font-size:35px;font-family:'Liberation Sans',sans-serif;color:#283B4B;">generated by other policies.</div>
<svg style="left:0;top:0" width="1400" height="2880"><line x1="896.0" y1="774.0" x2="968.2" y2="788.3" stroke="#000" stroke-width="1.25"/><polygon points="977.0,790.0 967.3,792.7 969.0,783.8" fill="#000"/><line x1="651.0" y1="866.0" x2="693.0" y2="866.0" stroke="#000" stroke-width="1.25"/><polygon points="702.0,866.0 693.0,870.5 693.0,861.5" fill="#000"/><line x1="897.0" y1="859.0" x2="968.0" y2="822.1" stroke="#000" stroke-width="1.25"/><polygon points="976.0,818.0 970.1,826.1 965.9,818.2" fill="#000"/><ellipse cx="803.5" cy="839.5" rx="92.5" ry="8.5" fill="#fff" stroke="#000" stroke-width="1.8"/><path d="M711.0,839.5 L711.0,890.5 A92.5,8.5 0 0,0 896.0,890.5 L896.0,839.5" fill="none" stroke="#000" stroke-width="1.8"/></svg>
<div class="t" style="left:844.8px;top:775.5px;font-size:31px;font-family:'Liberation Serif',serif;font-style:italic;color:#000;">π</div>
<div class="t" style="left:997.8px;top:807.9px;font-size:33px;font-family:'Liberation Serif',serif;font-style:italic;color:#ff0000;">V<span class="mr">(</span>π<span class="mr">)</span></div>
<div class="t" style="left:462.4px;top:869.9px;font-size:30px;font-family:'Liberation Serif',serif;font-style:italic;color:#000;">π<span class="ssw"><span class="sb"><span class="mr">1</span></span><span class="ssu">b</span></span><span class="mr">,</span> π<span class="ssw"><span class="sb"><span class="mr">2</span></span><span class="ssu">b</span></span><span class="mr">,</span> <span class="mr">…</span> <span class="mr">,</span> π<span class="ssw"><span class="sb">M</span><span class="ssu">b</span></span></div>
<div class="t" style="left:728.4px;top:870.9px;font-size:30px;font-family:'Liberation Serif',serif;font-style:italic;color:#000;letter-spacing:1.4px">D <span class="mr">=</span> <span class="mr">{</span>τ<span class="ssw"><span class="sb">i</span></span><span class="mr">}</span><span class="ssw"><span class="sb">i<span class="mr">=</span><span class="mr">1</span></span><span class="ssu">N</span></span></div>
<div class="t" style="left:163.4px;top:978.0px;font-size:35px;font-family:'Liberation Sans',sans-serif;color:#283B4B;">OPE is critical to many real-world applications</div>
<div class="t" style="left:162.3px;top:1028.5px;font-size:35px;font-family:'Liberation Sans',sans-serif;color:#283B4B;">•</div>
<div class="t" style="left:207.7px;top:1028.5px;font-size:35px;font-family:'Liberation Sans',sans-serif;color:#283B4B;">e.g., trading, advertising, autonomous vehicles, drug trials</div>
<div class="t" style="left:162.3px;top:1079.1px;font-size:35px;font-family:'Liberation Sans',sans-serif;color:#283B4B;">•</div>
<div class="t" style="left:207.6px;top:1079.1px;font-size:35px;font-family:'Liberation Sans',sans-serif;color:#283B4B;">Online evaluation might be prohibitively expensive or dangerous</div>
<div class="t" style="left:154.7px;top:1170.2px;font-size:35px;font-family:'Liberation Sans',sans-serif;color:#283B4B;">Previous OPE methods:</div>
<div class="t" style="left:155.6px;top:1223.4px;font-size:35px;font-family:'Liberation Sans',sans-serif;color:#283B4B;">•</div>
<div class="t" style="left:199.5px;top:1223.4px;font-size:35px;font-family:'Liberation Sans',sans-serif;color:#283B4B;">Mainly focus on precisely estimating the expected return</div>
<div class="t" style="left:1083.4px;top:1223.3px;font-size:37px;font-family:'Liberation Serif',serif;font-style:italic;color:#283B4B;letter-spacing:2.4px">V<span class="mr">(</span>π<span class="mr">)</span> <span class="mr">=</span> E <span class="mr">[</span><span class="mr">∑</span><span class="ssw"><span class="sb">t<span class="mr">=</span><span class="mr">0</span></span><span class="ssu">T</span></span>γ<span class="sp">t</span>r<span class="sb">t</span><span class="mr">]</span></div>
<div class="t" style="left:200.9px;top:1273.4px;font-size:35px;font-family:'Liberation Sans',sans-serif;color:#283B4B;">of a policy</div>
<div class="t" style="left:155.6px;top:1323.9px;font-size:35px;font-family:'Liberation Sans',sans-serif;color:#283B4B;">•</div>
<div class="t" style="left:199.5px;top:1323.9px;font-size:35px;font-family:'Liberation Sans',sans-serif;color:#283B4B;">Perform unsupervised estimation without directly leveraging the online</div>
<div class="t" style="left:200.2px;top:1374.9px;font-size:35px;font-family:'Liberation Sans',sans-serif;color:#283B4B;">performance of previously deployed policies</div>
<div class="t" style="left:154.6px;top:1523.7px;font-size:57px;font-family:'Liberation Sans',sans-serif;color:#000;">Define new problems: SOPE/SOPR</div>
<div class="t" style="left:162.3px;top:1639.8px;font-size:35px;font-family:'Liberation Sans',sans-serif;color:#283B4B;">•</div>
<div class="t" style="left:207.6px;top:1639.8px;font-size:35px;font-family:'Liberation Sans',sans-serif;color:#283B4B;">Supervised off-policy evaluation (SOPE):</div>
<div class="t" style="left:205.1px;top:1690.2px;font-size:35px;font-family:'Liberation Sans',sans-serif;color:#283B4B;">Estimate the performance of a target policy, using a pre-collected dataset</div>
<div class="t" style="left:208.4px;top:1741.5px;font-size:37px;font-family:'Liberation Serif',serif;font-style:italic;color:#283B4B;letter-spacing:1px">D <span class="mr">=</span> <span class="mr">{</span>τ<span class="ssw"><span class="sb">i</span></span><span class="mr">}</span><span class="ssw"><span class="sb">i<span class="mr">=</span><span class="mr">1</span></span><span class="ssu">N</span></span></div>
<div class="t" style="left:385.5px;top:1741.9px;font-size:35px;font-family:'Liberation Sans',sans-serif;color:#283B4B;">and policies</div>
<div class="t" style="left:580.2px;top:1741.5px;font-size:37px;font-family:'Liberation Serif',serif;font-style:italic;color:#283B4B;letter-spacing:1px"><span class="mr">{</span>π<span class="ssw"><span class="sb">i</span></span><span class="mr">}</span><span class="ssw"><span class="sb">i<span class="mr">=</span><span class="mr">1</span></span><span class="ssu">M</span></span></div>
<div class="t" style="left:695.7px;top:1741.9px;font-size:35px;font-family:'Liberation Sans',sans-serif;color:#283B4B;">with known performance</div>
<div class="t" style="left:162.3px;top:1793.5px;font-size:35px;font-family:'Liberation Sans',sans-serif;color:#283B4B;">•</div>
<div class="t" style="left:207.6px;top:1793.5px;font-size:35px;font-family:'Liberation Sans',sans-serif;color:#283B4B;">Supervised off-policy ranking (SOPR):</div>
<div class="t" style="left:205.1px;top:1846.2px;font-size:35px;font-family:'Liberation Sans',sans-serif;color:#283B4B;">Rank a set of target policies using a pre-collected dataset</div>
<div class="t" style="left:1106.0px;top:1845.8px;font-size:37px;font-family:'Liberation Serif',serif;font-style:italic;color:#283B4B;letter-spacing:1px">D <span class="mr">=</span> <span class="mr">{</span>τ<span class="ssw"><span class="sb">i</span></span><span class="mr">}</span><span class="ssw"><span class="sb">i<span class="mr">=</span><span class="mr">1</span></span><span class="ssu">N</span></span></div>
<div class="t" style="left:1284.7px;top:1846.2px;font-size:35px;font-family:'Liberation Sans',sans-serif;color:#283B4B;">and</div>
<div class="t" style="left:205.8px;top:1899.6px;font-size:35px;font-family:'Liberation Sans',sans-serif;color:#283B4B;">policies</div>
<div class="t" style="left:333.6px;top:1899.2px;font-size:37px;font-family:'Liberation Serif',serif;font-style:italic;color:#283B4B;letter-spacing:1px"><span class="mr">{</span>π<span class="ssw"><span class="sb">i</span></span><span class="mr">}</span><span class="ssw"><span class="sb">i<span class="mr">=</span><span class="mr">1</span></span><span class="ssu">M</span></span></div>
<div class="t" style="left:446.7px;top:1899.6px;font-size:35px;font-family:'Liberation Sans',sans-serif;color:#283B4B;">together with their performance ranking</div>
<svg style="left:0;top:0" width="1400" height="2880"><line x1="942.0" y1="2000.0" x2="1024.5" y2="2055.0" stroke="#000" stroke-width="1.25"/><polygon points="1032.0,2060.0 1022.0,2058.8 1027.0,2051.3" fill="#000"/><line x1="942.0" y1="2090.0" x2="1023.0" y2="2089.5" stroke="#000" stroke-width="1.25"/><polygon points="1032.0,2089.5 1023.0,2094.0 1023.0,2085.1" fill="#000"/><line x1="638.6" y1="2116.0" x2="691.0" y2="2116.0" stroke="#000" stroke-width="1.25"/><polygon points="700.0,2116.0 691.0,2120.5 691.0,2111.5" fill="#000"/><line x1="942.0" y1="2186.0" x2="1024.7" y2="2126.3" stroke="#000" stroke-width="1.25"/><polygon points="1032.0,2121.0 1027.3,2129.9 1022.1,2122.6" fill="#000"/><ellipse cx="818.0" cy="2081.5" rx="111.0" ry="11" fill="#fff" stroke="#000" stroke-width="1.8"/><path d="M707.0,2081.5 L707.0,2148.0 A111.0,11 0 0,0 929.0,2148.0 L929.0,2081.5" fill="none" stroke="#000" stroke-width="1.8"/><line x1="941.0" y1="2373.0" x2="1023.5" y2="2428.0" stroke="#000" stroke-width="1.25"/><polygon points="1031.0,2433.0 1021.0,2431.8 1026.0,2424.3" fill="#000"/><line x1="941.0" y1="2465.0" x2="1022.0" y2="2464.8" stroke="#000" stroke-width="1.25"/><polygon points="1031.0,2464.8 1022.0,2469.3 1022.0,2460.3" fill="#000"/><line x1="637.0" y1="2491.5" x2="690.0" y2="2491.5" stroke="#000" stroke-width="1.25"/><polygon points="699.0,2491.5 690.0,2496.0 690.0,2487.0" fill="#000"/><line x1="948.0" y1="2564.0" x2="1023.1" y2="2501.7" stroke="#000" stroke-width="1.25"/><polygon points="1030.0,2496.0 1025.9,2505.2 1020.2,2498.3" fill="#000"/><ellipse cx="816.2" cy="2457.5" rx="111.2" ry="11" fill="#fff" stroke="#000" stroke-width="1.8"/><path d="M705.0,2457.5 L705.0,2523.2 A111.2,11 0 0,0 927.4,2523.2 L927.4,2457.5" fill="none" stroke="#000" stroke-width="1.8"/></svg>
<div class="t" style="left:899.4px;top:1995.3px;font-size:33px;font-family:'Liberation Serif',serif;font-style:italic;color:#000;">π</div>
<div class="t" style="left:1062.1px;top:2090.9px;font-size:36px;font-family:'Liberation Serif',serif;font-style:italic;color:#ff0000;">V<span class="mr">(</span>π<span class="mr">)</span></div>
<div class="t" style="left:456.8px;top:2120.5px;font-size:31px;font-family:'Liberation Serif',serif;font-style:italic;color:#000;">π<span class="ssw"><span class="sb"><span class="mr">1</span></span><span class="ssu">b</span></span><span class="mr">,</span> π<span class="ssw"><span class="sb"><span class="mr">2</span></span><span class="ssu">b</span></span><span class="mr">,</span> <span class="mr">…</span> <span class="mr">,</span> π<span class="ssw"><span class="sb">M</span><span class="ssu">b</span></span></div>
<div class="t" style="left:742.2px;top:2120.5px;font-size:31px;font-family:'Liberation Serif',serif;font-style:italic;color:#000;letter-spacing:1.4px">D <span class="mr">=</span> <span class="mr">{</span>τ<span class="ssw"><span class="sb">i</span></span><span class="mr">}</span><span class="ssw"><span class="sb">i<span class="mr">=</span><span class="mr">1</span></span><span class="ssu">N</span></span></div>
<div class="t" style="left:456.2px;top:2215.7px;font-size:30px;font-family:'Liberation Serif',serif;font-style:italic;color:#000;letter-spacing:1.6px"><span style="font-style:normal;color:#ff0000;letter-spacing:0">Performance<span class="mr">:</span> </span>V<span class="mr">(</span>π<span class="ssw"><span class="sb"><span class="mr">1</span></span><span class="ssu">b</span></span><span class="mr">)</span><span class="mr">,</span> V<span class="mr">(</span>π<span class="ssw"><span class="sb"><span class="mr">2</span></span><span class="ssu">b</span></span><span class="mr">)</span><span class="mr">,</span> <span class="mr">…</span> <span class="mr">,</span> V<span class="mr">(</span>π<span class="ssw"><span class="sb">M</span><span class="ssu">b</span></span><span class="mr">)</span></div>
<div class="t" style="left:743.4px;top:2374.9px;font-size:33px;font-family:'Liberation Serif',serif;font-style:italic;color:#000;">π<span class="ssw"><span class="sb"><span class="mr">1</span></span><span class="ssu"></span></span><span class="mr">,</span> π<span class="ssw"><span class="sb"><span class="mr">2</span></span><span class="ssu"></span></span><span class="mr">,</span> <span class="mr">…</span> <span class="mr">,</span> π<span class="ssw"><span class="sb">n</span><span class="ssu"></span></span></div>
<div class="t" style="left:1057.8px;top:2461.2px;font-size:32px;font-family:'Liberation Serif',serif;font-style:italic;color:#ff0000;">π<span class="sb">?</span><span class="mr">&gt;</span>π<span class="sb">?</span><span class="mr">&gt;</span><span class="mr">⋯</span>π<span class="sb">?</span></div>
<div class="t" style="left:455.8px;top:2497.1px;font-size:31px;font-family:'Liberation Serif',serif;font-style:italic;color:#000;">π<span class="ssw"><span class="sb"><span class="mr">1</span></span><span class="ssu">b</span></span><span class="mr">,</span> π<span class="ssw"><span class="sb"><span class="mr">2</span></span><span class="ssu">b</span></span><span class="mr">,</span> <span class="mr">…</span> <span class="mr">,</span> π<span class="ssw"><span class="sb">M</span><span class="ssu">b</span></span></div>
<div class="t" style="left:741.0px;top:2497.1px;font-size:31px;font-family:'Liberation Serif',serif;font-style:italic;color:#000;letter-spacing:1.4px">D <span class="mr">=</span> <span class="mr">{</span>τ<span class="ssw"><span class="sb">i</span></span><span class="mr">}</span><span class="ssw"><span class="sb">i<span class="mr">=</span><span class="mr">1</span></span><span class="ssu">N</span></span></div>
<div class="t" style="left:408.6px;top:2587.6px;font-size:30px;font-family:'Liberation Serif',serif;font-style:italic;color:#000;letter-spacing:2.6px"><span style="font-style:normal;color:#ff0000;letter-spacing:0">Performance ranking<span class="mr">:</span> </span>π<span class="ssw"><span class="sb"><span class="mr">1</span></span><span class="ssu">b</span></span> <span class="mr">&gt;</span> π<span class="ssw"><span class="sb"><span class="mr">2</span></span><span class="ssu">b</span></span> <span class="mr">&gt;</span> <span class="mr">⋯</span> <span class="mr">&gt;</span> π<span class="ssw"><span class="sb">M</span><span class="ssu">b</span></span></div>
<div class="t" style="left:162.6px;top:2694.2px;font-size:35px;font-family:'Liberation Sans',sans-serif;color:#283B4B;">•</div>
<div class="t" style="left:207.1px;top:2694.2px;font-size:35px;font-family:'Liberation Sans',sans-serif;color:#283B4B;">Leveraging more informative (supervised) signals</div>
<div class="t" style="left:162.6px;top:2744.6px;font-size:35px;font-family:'Liberation Sans',sans-serif;color:#283B4B;">•</div>
<div class="t" style="left:208.4px;top:2744.6px;font-size:35px;font-family:'Liberation Sans',sans-serif;color:#283B4B;">SOPR is a simpler problem and has more practical value</div>
<div class="t" style="left:1577.2px;top:506.5px;font-size:57px;font-family:'Liberation Sans',sans-serif;color:#000;">A solution to SOPR: SOPR-T</div>
<div class="t" style="left:1577.7px;top:632.0px;font-size:35px;font-family:'Liberation Sans',sans-serif;color:#283B4B;">Train a scoring model and rank a set of policies based on their scores</div>
<div class="t" style="left:1577.6px;top:709.3px;font-size:35px;font-family:'Liberation Sans',sans-serif;color:#283B4B;">•</div>
<div class="t" style="left:1622.1px;top:709.3px;font-size:35px;font-family:'Liberation Sans',sans-serif;color:#283B4B;">Policy representation</div>
<div class="t" style="left:1626.9px;top:758.6px;font-size:33.4px;font-family:'Liberation Sans',sans-serif;color:#283B4B;">•</div>
<div class="t" style="left:1671.6px;top:758.6px;font-size:33.4px;font-family:'Liberation Sans',sans-serif;color:#283B4B;">Policy parameters?</div>
<div class="t" style="left:1976.9px;top:760.5px;font-size:28px;font-family:'Liberation Sans',sans-serif;color:#283B4B;">×</div>
<div class="t" style="left:2013.7px;top:758.6px;font-size:33.4px;font-family:'Liberation Sans',sans-serif;color:#283B4B;">The policies may have different forms, or do not</div>
<div class="t" style="left:1672.0px;top:806.2px;font-size:33.4px;font-family:'Liberation Sans',sans-serif;color:#283B4B;">have parameters.</div>
<div class="t" style="left:1626.9px;top:855.5px;font-size:33.4px;font-family:'Liberation Sans',sans-serif;color:#283B4B;">•</div>
<div class="t" style="left:1672.8px;top:855.5px;font-size:33.4px;font-family:'Liberation Sans',sans-serif;color:#283B4B;">State-action pairs</div>
<div class="t" style="left:1960.3px;top:856.6px;font-size:31px;font-family:'Liberation Serif',serif;color:#283B4B;">√</div>
<div class="t" style="left:1995.9px;top:855.5px;font-size:33.4px;font-family:'Liberation Sans',sans-serif;color:#283B4B;">The policies share the same state (input) and action</div>
<div class="t" style="left:1672.2px;top:903.1px;font-size:33.4px;font-family:'Liberation Sans',sans-serif;color:#283B4B;">(output) spaces.</div>
<div class="t" style="left:1720.8px;top:948.9px;font-size:30px;font-family:'Liberation Sans',sans-serif;color:#283B4B;">•</div>
<div class="t" style="left:1766.2px;top:948.9px;font-size:30px;font-family:'Liberation Sans',sans-serif;color:#283B4B;">States come from the off-policy dataset</div>
<div class="t" style="left:1720.8px;top:991.7px;font-size:30px;font-family:'Liberation Sans',sans-serif;color:#283B4B;">•</div>
<div class="t" style="left:1767.5px;top:991.7px;font-size:30px;font-family:'Liberation Sans',sans-serif;color:#283B4B;">Actions are taken by the target policy on the states in an offline manner</div>
<div class="t" style="left:1577.6px;top:1064.4px;font-size:35px;font-family:'Liberation Sans',sans-serif;color:#283B4B;">•</div>
<div class="t" style="left:1624.2px;top:1064.4px;font-size:35px;font-family:'Liberation Sans',sans-serif;color:#283B4B;">Transformer encoder-based scoring model</div>
<svg style="left:0;top:0" width="4324" height="2880"><ellipse cx="1666.2" cy="1138.5" rx="23.5" ry="13" fill="none" stroke="#5B8EEF" stroke-width="2.2"/><rect x="1840.5" y="1125.5" width="37" height="26" rx="10" fill="none" stroke="#BD70C5" stroke-width="2.2"/><line x1="2107.0" y1="1138.5" x2="2135.0" y2="1138.5" stroke="#BD70C5" stroke-width="2"/><polyline points="2129.0,1142.5 2135.0,1138.5 2129.0,1134.5" fill="none" stroke="#BD70C5" stroke-width="2"/><polyline points="2113.0,1142.5 2107.0,1138.5 2113.0,1134.5" fill="none" stroke="#BD70C5" stroke-width="2"/><line x1="2433.0" y1="1138.5" x2="2461.0" y2="1138.5" stroke="#FFB000" stroke-width="2"/><polyline points="2455.0,1142.5 2461.0,1138.5 2455.0,1134.5" fill="none" stroke="#FFB000" stroke-width="2"/><polyline points="2439.0,1142.5 2433.0,1138.5 2439.0,1134.5" fill="none" stroke="#FFB000" stroke-width="2"/><ellipse cx="1761.1" cy="1317.1" rx="120.3" ry="72.6" fill="none" stroke="#5B8EEF" stroke-width="2.2"/><ellipse cx="1671.4" cy="1282.7" rx="5.8" ry="4.8" fill="#4C84EA"/><ellipse cx="1695.3" cy="1282.7" rx="5.8" ry="4.8" fill="#4C84EA"/><ellipse cx="1685.1" cy="1300.5" rx="5.8" ry="4.8" fill="#4C84EA"/><ellipse cx="1713.2" cy="1298.0" rx="5.8" ry="4.8" fill="#4C84EA"/><ellipse cx="1667.3" cy="1317.9" rx="5.8" ry="4.8" fill="#4C84EA"/><ellipse cx="1718.3" cy="1329.6" rx="5.8" ry="4.8" fill="#4C84EA"/><ellipse cx="1755.5" cy="1326.0" rx="5.8" ry="4.8" fill="#4C84EA"/><ellipse cx="1690.7" cy="1359.2" rx="5.8" ry="4.8" fill="#4C84EA"/><ellipse cx="1732.5" cy="1352.5" rx="5.8" ry="4.8" fill="#4C84EA"/><ellipse cx="1742.7" cy="1372.9" rx="5.8" ry="4.8" fill="#4C84EA"/><ellipse cx="1781.0" cy="1349.0" rx="5.8" ry="4.8" fill="#4C84EA"/><ellipse cx="1811.6" cy="1278.6" rx="5.8" ry="4.8" fill="#4C84EA"/><ellipse cx="1835.5" cy="1278.6" rx="5.8" ry="4.8" fill="#4C84EA"/><ellipse cx="1825.3" cy="1298.0" rx="5.8" ry="4.8" fill="#4C84EA"/><ellipse cx="1853.9" cy="1294.9" rx="5.8" ry="4.8" fill="#4C84EA"/><ellipse cx="1808.0" cy="1314.3" rx="5.8" ry="4.8" fill="#4C84EA"/><ellipse cx="1837.0" cy="1314.3" rx="5.8" ry="4.8" fill="#4C84EA"/><ellipse cx="1808.0" cy="1337.2" rx="5.8" ry="4.8" fill="#4C84EA"/><ellipse cx="1831.9" cy="1362.7" rx="5.8" ry="4.8" fill="#4C84EA"/><ellipse cx="1868.6" cy="1332.1" rx="5.8" ry="4.8" fill="#4C84EA"/><line x1="1881.4" y1="1319.4" x2="1907.0" y2="1319.4" stroke="#000" stroke-width="2"/><polygon points="1916.0,1319.4 1907.0,1323.9 1907.0,1314.9" fill="#000"/><ellipse cx="2036.4" cy="1320" rx="120.3" ry="72.9" fill="none" stroke="#5B8EEF" stroke-width="2.2"/><ellipse cx="1978.5" cy="1298" rx="38.5" ry="30.6" fill="none" stroke="#5B8EEF" stroke-width="2.2"/><ellipse cx="2102.6" cy="1310.2" rx="43.8" ry="35.7" fill="none" stroke="#5B8EEF" stroke-width="2.2"/><ellipse cx="2016.8" cy="1358.4" rx="68.6" ry="24.7" fill="none" stroke="#5B8EEF" stroke-width="2.2"/><ellipse cx="1973.2" cy="1281.7" rx="5.8" ry="4.8" fill="#4C84EA"/><ellipse cx="2002.7" cy="1300.0" rx="5.8" ry="4.8" fill="#4C84EA"/><ellipse cx="1960.4" cy="1311.7" rx="5.8" ry="4.8" fill="#4C84EA"/><ellipse cx="2100.6" cy="1282.2" rx="5.8" ry="4.8" fill="#4C84EA"/><ellipse cx="2090.4" cy="1300.5" rx="5.8" ry="4.8" fill="#4C84EA"/><ellipse cx="2072.6" cy="1317.9" rx="5.8" ry="4.8" fill="#4C84EA"/><ellipse cx="2102.1" cy="1317.9" rx="5.8" ry="4.8" fill="#4C84EA"/><ellipse cx="2128.6" cy="1328.1" rx="5.8" ry="4.8" fill="#4C84EA"/><ellipse cx="1964.5" cy="1359.2" rx="5.8" ry="4.8" fill="#4C84EA"/><ellipse cx="2007.8" cy="1353.0" rx="5.8" ry="4.8" fill="#4C84EA"/><ellipse cx="2060.3" cy="1351.5" rx="5.8" ry="4.8" fill="#4C84EA"/><ellipse cx="2017.0" cy="1373.4" rx="5.8" ry="4.8" fill="#4C84EA"/><line x1="2156.7" y1="1319.4" x2="2179.8" y2="1319.4" stroke="#000" stroke-width="2"/><polygon points="2188.8,1319.4 2179.8,1323.9 2179.8,1314.9" fill="#000"/><rect x="2189.5" y="1254.5" width="135" height="138.5" fill="#fff" stroke="#4DBE73" stroke-width="2.6"/><line x1="2257.6" y1="1225.0" x2="2257.6" y2="1245.0" stroke="#000" stroke-width="2"/><polygon points="2257.6,1253.0 2253.6,1245.0 2261.6,1245.0" fill="#000"/><line x1="2325.5" y1="1319.4" x2="2350.6" y2="1319.4" stroke="#000" stroke-width="2"/><polygon points="2359.6,1319.4 2350.6,1323.9 2350.6,1314.9" fill="#000"/><rect x="2340.2" y="1171.1" width="334.2" height="278.2" rx="46" fill="none" stroke="#000" stroke-width="2.2" stroke-dasharray="7 5"/><rect x="2360.6" y="1241.9" width="304.6" height="153.8" rx="57" fill="none" stroke="#BD70C5" stroke-width="2"/><ellipse cx="2416.8" cy="1282.3" rx="38.6" ry="26.6" fill="none" stroke="#BD70C5" stroke-width="2"/><ellipse cx="2600" cy="1294.5" rx="54.8" ry="41.1" fill="none" stroke="#BD70C5" stroke-width="2"/><ellipse cx="2487.5" cy="1357.2" rx="69.2" ry="30.4" fill="none" stroke="#BD70C5" stroke-width="2"/><ellipse cx="2402.7" cy="1264.3" rx="5.8" ry="4.6" fill="#BD70C5"/><ellipse cx="2445.4" cy="1280.2" rx="5.8" ry="4.6" fill="#BD70C5"/><ellipse cx="2398.3" cy="1300.2" rx="5.8" ry="4.6" fill="#BD70C5"/><ellipse cx="2595.4" cy="1263.3" rx="5.8" ry="4.6" fill="#BD70C5"/><ellipse cx="2585.4" cy="1281.5" rx="5.8" ry="4.6" fill="#BD70C5"/><ellipse cx="2567.6" cy="1298.7" rx="5.8" ry="4.6" fill="#BD70C5"/><ellipse cx="2596.9" cy="1298.7" rx="5.8" ry="4.6" fill="#BD70C5"/><ellipse cx="2628.9" cy="1315.9" rx="5.8" ry="4.6" fill="#BD70C5"/><ellipse cx="2438.1" cy="1357.6" rx="5.8" ry="4.6" fill="#BD70C5"/><ellipse cx="2482.1" cy="1350.8" rx="5.8" ry="4.6" fill="#BD70C5"/><ellipse cx="2532.8" cy="1348.5" rx="5.8" ry="4.6" fill="#BD70C5"/><ellipse cx="2491.1" cy="1371.8" rx="5.8" ry="4.6" fill="#BD70C5"/><line x1="2407.0" y1="1267.0" x2="2440.0" y2="1278.0" stroke="#BD70C5" stroke-width="1.6"/><polyline points="2434.3,1279.3 2440.0,1278.0 2436.2,1273.6" fill="none" stroke="#BD70C5" stroke-width="1.6"/><polyline points="2410.8,1271.4 2407.0,1267.0 2412.7,1265.7" fill="none" stroke="#BD70C5" stroke-width="1.6"/><line x1="2401.0" y1="1268.0" x2="2399.0" y2="1296.0" stroke="#BD70C5" stroke-width="1.6"/><polyline points="2396.4,1290.8 2399.0,1296.0 2402.3,1291.2" fill="none" stroke="#BD70C5" stroke-width="1.6"/><polyline points="2397.7,1272.8 2401.0,1268.0 2403.6,1273.2" fill="none" stroke="#BD70C5" stroke-width="1.6"/><line x1="2403.0" y1="1298.0" x2="2440.0" y2="1283.0" stroke="#BD70C5" stroke-width="1.6"/><polyline points="2436.5,1287.7 2440.0,1283.0 2434.2,1282.1" fill="none" stroke="#BD70C5" stroke-width="1.6"/><polyline points="2408.8,1298.9 2403.0,1298.0 2406.5,1293.3" fill="none" stroke="#BD70C5" stroke-width="1.6"/><line x1="2457.2" y1="1290.1" x2="2538.9" y2="1293.4" stroke="#FFB000" stroke-width="2.2"/><polyline points="2530.7,1298.1 2538.9,1293.4 2531.1,1288.1" fill="none" stroke="#FFB000" stroke-width="2.2"/><polyline points="2465.0,1295.4 2457.2,1290.1 2465.4,1285.4" fill="none" stroke="#FFB000" stroke-width="2.2"/><line x1="2444.4" y1="1308.3" x2="2464.5" y2="1324.2" stroke="#FFB000" stroke-width="2.2"/><polyline points="2456.2,1323.4 2464.5,1324.2 2461.8,1316.3" fill="none" stroke="#FFB000" stroke-width="2.2"/><polyline points="2447.1,1316.2 2444.4,1308.3 2452.7,1309.1" fill="none" stroke="#FFB000" stroke-width="2.2"/><line x1="2523.2" y1="1324.9" x2="2545.2" y2="1309.2" stroke="#FFB000" stroke-width="2.2"/><polyline points="2542.1,1316.9 2545.2,1309.2 2536.9,1309.6" fill="none" stroke="#FFB000" stroke-width="2.2"/><polyline points="2531.5,1324.5 2523.2,1324.9 2526.3,1317.2" fill="none" stroke="#FFB000" stroke-width="2.2"/><line x1="2665.2" y1="1316.5" x2="2697.3" y2="1316.5" stroke="#000" stroke-width="2"/><polyline points="2688.3,1321.5 2697.3,1316.5 2688.3,1311.5" fill="none" stroke="#000" stroke-width="2"/><path d="M2507.4,1449.3 L2507.4,1506" fill="none" stroke="#000" stroke-width="2.2" stroke-dasharray="7 5"/><line x1="2507.4" y1="1495.0" x2="2507.4" y2="1508.0" stroke="#000" stroke-width="2.2"/><polyline points="2501.4,1499.0 2507.4,1508.0 2513.4,1499.0" fill="none" stroke="#000" stroke-width="2.2"/></svg>
<div class="t" style="left:1697.4px;top:1137.1px;font-size:29.7px;font-family:'Liberation Serif',serif;color:#000;">State space</div>
<div class="t" style="left:1883.5px;top:1137.1px;font-size:29.6px;font-family:'Liberation Serif',serif;color:#000;">State-action space</div>
<div class="t" style="left:2140.6px;top:1137.2px;font-size:29.4px;font-family:'Liberation Serif',serif;color:#000;">Low-level self-attention</div>
<div class="t" style="left:2468.2px;top:1137.1px;font-size:29.5px;font-family:'Liberation Serif',serif;color:#000;">High-level self-attention</div>
<div class="t" style="left:1748.2px;top:1205.4px;font-size:32.7px;font-family:'Liberation Serif',serif;color:#000;">Sampling and Clustering</div>
<div class="t" style="left:2244.6px;top:1203.8px;font-size:33px;font-family:'Liberation Serif',serif;font-style:italic;color:#000;">π<span class="sb">i</span></div>
<div class="t" style="left:2209.8px;top:1285.3px;font-size:33.2px;font-family:'Liberation Serif',serif;color:#000;">Offline</div>
<div class="t" style="left:2212.5px;top:1325.0px;font-size:33.2px;font-family:'Liberation Serif',serif;color:#000;">Action</div>
<div class="t" style="left:2211.8px;top:1362.8px;font-size:33.2px;font-family:'Liberation Serif',serif;color:#000;">Taking</div>
<div class="t" style="left:2413.1px;top:1210.4px;font-size:32.8px;font-family:'Liberation Serif',serif;color:#000;">Hierarchical TE</div>
<div class="t" style="left:2682.7px;top:1265.0px;font-size:33.5px;font-family:'Liberation Serif',serif;color:#000;">Score</div>
<div class="t" style="left:2710.2px;top:1312.5px;font-size:33px;font-family:'Liberation Serif',serif;font-style:italic;color:#000;">x<span class="sb">i</span></div>
<svg style="left:0;top:0" width="4324" height="2880"><rect x="1754.4" y="1526.2" width="872.6" height="343.7" fill="none" stroke="#000" stroke-width="2" stroke-dasharray="6.5 4.5"/><rect x="2033.5" y="1534.7" width="317.3" height="42.1" fill="#F5B997"/><rect x="1784.1" y="1602.7" width="816.5" height="42.1" fill="#ADD5FB"/><rect x="1784.1" y="1671.5" width="816.5" height="42.1" fill="#FEDF87"/><rect x="1784.1" y="1741.6" width="317.8" height="41.6" fill="#ADD5FB"/><rect x="2282.8" y="1741.6" width="317.8" height="41.6" fill="#ADD5FB"/><rect x="1784.1" y="1809.6" width="317.8" height="41.6" fill="#DDB8E1"/><rect x="2282.8" y="1809.6" width="317.8" height="41.6" fill="#DDB8E1"/><line x1="2197.0" y1="1526.2" x2="2197.0" y2="1507.9" stroke="#000" stroke-width="2"/><polyline points="2201.6,1515.9 2197.0,1507.9 2192.4,1515.9" fill="none" stroke="#000" stroke-width="2"/><line x1="2197.0" y1="1602.7" x2="2197.0" y2="1577.6" stroke="#000" stroke-width="2"/><polyline points="2201.6,1585.6 2197.0,1577.6 2192.4,1585.6" fill="none" stroke="#000" stroke-width="2"/><line x1="1946.4" y1="1671.5" x2="1946.4" y2="1645.6" stroke="#000" stroke-width="2"/><polyline points="1951.0,1653.6 1946.4,1645.6 1941.8,1653.6" fill="none" stroke="#000" stroke-width="2"/><line x1="1946.4" y1="1741.6" x2="1946.4" y2="1714.4" stroke="#000" stroke-width="2"/><polyline points="1951.0,1722.4 1946.4,1714.4 1941.8,1722.4" fill="none" stroke="#000" stroke-width="2"/><line x1="2446.4" y1="1671.5" x2="2446.4" y2="1645.6" stroke="#000" stroke-width="2"/><polyline points="2451.0,1653.6 2446.4,1645.6 2441.8,1653.6" fill="none" stroke="#000" stroke-width="2"/><line x1="2446.4" y1="1741.6" x2="2446.4" y2="1714.4" stroke="#000" stroke-width="2"/><polyline points="2451.0,1722.4 2446.4,1714.4 2441.8,1722.4" fill="none" stroke="#000" stroke-width="2"/><line x1="1804.5" y1="1809.6" x2="1804.5" y2="1784.0" stroke="#000" stroke-width="2"/><polyline points="1809.1,1792.0 1804.5,1784.0 1799.9,1792.0" fill="none" stroke="#000" stroke-width="2"/><line x1="1804.5" y1="1877.6" x2="1804.5" y2="1852.0" stroke="#000" stroke-width="2"/><polyline points="1809.1,1860.0 1804.5,1852.0 1799.9,1860.0" fill="none" stroke="#000" stroke-width="2"/><line x1="1861.9" y1="1809.6" x2="1861.9" y2="1784.0" stroke="#000" stroke-width="2"/><polyline points="1866.5,1792.0 1861.9,1784.0 1857.3,1792.0" fill="none" stroke="#000" stroke-width="2"/><line x1="1861.9" y1="1877.6" x2="1861.9" y2="1852.0" stroke="#000" stroke-width="2"/><polyline points="1866.5,1860.0 1861.9,1852.0 1857.3,1860.0" fill="none" stroke="#000" stroke-width="2"/><line x1="2022.9" y1="1809.6" x2="2022.9" y2="1784.0" stroke="#000" stroke-width="2"/><polyline points="2027.5,1792.0 2022.9,1784.0 2018.3,1792.0" fill="none" stroke="#000" stroke-width="2"/><line x1="2022.9" y1="1877.6" x2="2022.9" y2="1852.0" stroke="#000" stroke-width="2"/><polyline points="2027.5,1860.0 2022.9,1852.0 2018.3,1860.0" fill="none" stroke="#000" stroke-width="2"/><line x1="2081.5" y1="1809.6" x2="2081.5" y2="1784.0" stroke="#000" stroke-width="2"/><polyline points="2086.1,1792.0 2081.5,1784.0 2076.9,1792.0" fill="none" stroke="#000" stroke-width="2"/><line x1="2081.5" y1="1877.6" x2="2081.5" y2="1852.0" stroke="#000" stroke-width="2"/><polyline points="2086.1,1860.0 2081.5,1852.0 2076.9,1860.0" fill="none" stroke="#000" stroke-width="2"/><line x1="2303.2" y1="1809.6" x2="2303.2" y2="1784.0" stroke="#000" stroke-width="2"/><polyline points="2307.8,1792.0 2303.2,1784.0 2298.6,1792.0" fill="none" stroke="#000" stroke-width="2"/><line x1="2303.2" y1="1877.6" x2="2303.2" y2="1852.0" stroke="#000" stroke-width="2"/><polyline points="2307.8,1860.0 2303.2,1852.0 2298.6,1860.0" fill="none" stroke="#000" stroke-width="2"/><line x1="2360.6" y1="1809.6" x2="2360.6" y2="1784.0" stroke="#000" stroke-width="2"/><polyline points="2365.2,1792.0 2360.6,1784.0 2356.0,1792.0" fill="none" stroke="#000" stroke-width="2"/><line x1="2360.6" y1="1877.6" x2="2360.6" y2="1852.0" stroke="#000" stroke-width="2"/><polyline points="2365.2,1860.0 2360.6,1852.0 2356.0,1860.0" fill="none" stroke="#000" stroke-width="2"/><line x1="2522.0" y1="1809.6" x2="2522.0" y2="1784.0" stroke="#000" stroke-width="2"/><polyline points="2526.6,1792.0 2522.0,1784.0 2517.4,1792.0" fill="none" stroke="#000" stroke-width="2"/><line x1="2522.0" y1="1877.6" x2="2522.0" y2="1852.0" stroke="#000" stroke-width="2"/><polyline points="2526.6,1860.0 2522.0,1852.0 2517.4,1860.0" fill="none" stroke="#000" stroke-width="2"/><line x1="2580.2" y1="1809.6" x2="2580.2" y2="1784.0" stroke="#000" stroke-width="2"/><polyline points="2584.8,1792.0 2580.2,1784.0 2575.6,1792.0" fill="none" stroke="#000" stroke-width="2"/><line x1="2580.2" y1="1877.6" x2="2580.2" y2="1852.0" stroke="#000" stroke-width="2"/><polyline points="2584.8,1860.0 2580.2,1852.0 2575.6,1860.0" fill="none" stroke="#000" stroke-width="2"/><rect x="1784.9" y="1879.6" width="40.1" height="39.2" fill="#fff" stroke="#1F6BFF" stroke-width="2.6"/><rect x="1843.5" y="1879.6" width="40.9" height="39.2" fill="#fff" stroke="#F58A3C" stroke-width="2.6"/><rect x="2002.8" y="1879.6" width="40.1" height="39.2" fill="#fff" stroke="#1F6BFF" stroke-width="2.6"/><rect x="2061.4" y="1879.6" width="40.1" height="39.2" fill="#fff" stroke="#F58A3C" stroke-width="2.6"/><rect x="2283.2" y="1879.6" width="40.9" height="39.2" fill="#fff" stroke="#1F6BFF" stroke-width="2.6"/><rect x="2341.8" y="1879.6" width="40.9" height="39.2" fill="#fff" stroke="#F58A3C" stroke-width="2.6"/><rect x="2501.1" y="1879.6" width="40.9" height="39.2" fill="#fff" stroke="#1F6BFF" stroke-width="2.6"/><rect x="2559.3" y="1879.6" width="40.9" height="39.2" fill="#fff" stroke="#F58A3C" stroke-width="2.6"/><circle cx="2163.4" cy="1760.7" r="1.6" fill="#000"/><circle cx="2174.8" cy="1760.7" r="1.6" fill="#000"/><circle cx="2186.2" cy="1760.7" r="1.6" fill="#000"/><circle cx="2197.6" cy="1760.7" r="1.6" fill="#000"/><circle cx="2209.0" cy="1760.7" r="1.6" fill="#000"/><circle cx="2220.4" cy="1760.7" r="1.6" fill="#000"/><circle cx="2163.4" cy="1825.7" r="1.6" fill="#000"/><circle cx="2174.8" cy="1825.7" r="1.6" fill="#000"/><circle cx="2186.2" cy="1825.7" r="1.6" fill="#000"/><circle cx="2197.6" cy="1825.7" r="1.6" fill="#000"/><circle cx="2209.0" cy="1825.7" r="1.6" fill="#000"/><circle cx="2220.4" cy="1825.7" r="1.6" fill="#000"/><circle cx="2163.4" cy="1902.2" r="1.6" fill="#000"/><circle cx="2174.8" cy="1902.2" r="1.6" fill="#000"/><circle cx="2186.2" cy="1902.2" r="1.6" fill="#000"/><circle cx="2197.6" cy="1902.2" r="1.6" fill="#000"/><circle cx="2209.0" cy="1902.2" r="1.6" fill="#000"/><circle cx="2220.4" cy="1902.2" r="1.6" fill="#000"/><circle cx="1917.0" cy="1903.9" r="1.6" fill="#000"/><circle cx="1928.4" cy="1903.9" r="1.6" fill="#000"/><circle cx="1939.8" cy="1903.9" r="1.6" fill="#000"/><circle cx="1951.2" cy="1903.9" r="1.6" fill="#000"/><circle cx="1962.6" cy="1903.9" r="1.6" fill="#000"/><circle cx="1974.0" cy="1903.9" r="1.6" fill="#000"/><circle cx="2414.9" cy="1903.9" r="1.6" fill="#000"/><circle cx="2426.3" cy="1903.9" r="1.6" fill="#000"/><circle cx="2437.7" cy="1903.9" r="1.6" fill="#000"/><circle cx="2449.1" cy="1903.9" r="1.6" fill="#000"/><circle cx="2460.5" cy="1903.9" r="1.6" fill="#000"/><circle cx="2471.9" cy="1903.9" r="1.6" fill="#000"/></svg>
<div class="t" style="left:2160.0px;top:1479.7px;font-size:33.5px;font-family:'Liberation Serif',serif;color:#000;">Score</div>
<div class="t" style="left:2081.4px;top:1555.8px;font-size:31.9px;font-family:'Liberation Serif',serif;color:#000;">Linear projection</div>
<div class="t" style="left:2142.1px;top:1624.6px;font-size:31.9px;font-family:'Liberation Serif',serif;color:#000;">Pooling</div>
<div class="t" style="left:2100.9px;top:1693.5px;font-size:31.9px;font-family:'Liberation Serif',serif;color:#000;">High-level TE</div>
<div class="t" style="left:1893.2px;top:1762.7px;font-size:31.9px;font-family:'Liberation Serif',serif;color:#000;">Pooling</div>
<div class="t" style="left:2391.9px;top:1762.7px;font-size:31.9px;font-family:'Liberation Serif',serif;color:#000;">Pooling</div>
<div class="t" style="left:1854.6px;top:1830.7px;font-size:31.9px;font-family:'Liberation Serif',serif;color:#000;">Low-level TE</div>
<div class="t" style="left:2353.3px;top:1830.7px;font-size:31.9px;font-family:'Liberation Serif',serif;color:#000;">Low-level TE</div>
<div class="t" style="left:1798.8px;top:1900.4px;font-size:33px;font-family:'Liberation Serif',serif;font-style:italic;color:#000;">s</div>
<div class="t" style="left:1855.9px;top:1900.4px;font-size:33px;font-family:'Liberation Serif',serif;font-style:italic;color:#000;">a</div>
<div class="t" style="left:2016.7px;top:1900.4px;font-size:33px;font-family:'Liberation Serif',serif;font-style:italic;color:#000;">s</div>
<div class="t" style="left:2073.4px;top:1900.4px;font-size:33px;font-family:'Liberation Serif',serif;font-style:italic;color:#000;">a</div>
<div class="t" style="left:2297.5px;top:1900.4px;font-size:33px;font-family:'Liberation Serif',serif;font-style:italic;color:#000;">s</div>
<div class="t" style="left:2354.2px;top:1900.4px;font-size:33px;font-family:'Liberation Serif',serif;font-style:italic;color:#000;">a</div>
<div class="t" style="left:2515.5px;top:1900.4px;font-size:33px;font-family:'Liberation Serif',serif;font-style:italic;color:#000;">s</div>
<div class="t" style="left:2571.7px;top:1900.4px;font-size:33px;font-family:'Liberation Serif',serif;font-style:italic;color:#000;">a</div>
<div class="t" style="left:1884.8px;top:1965.4px;font-size:31.8px;font-family:'Liberation Serif',serif;color:#000;">Cluster 1</div>
<div class="t" style="left:2380.5px;top:1965.3px;font-size:32.1px;font-family:'Liberation Serif',serif;color:#000;">Cluster K</div>
<div class="t" style="left:1585.9px;top:2049.9px;font-size:35px;font-family:'Liberation Sans',sans-serif;color:#283B4B;">•</div>
<div class="t" style="left:1630.4px;top:2049.9px;font-size:35px;font-family:'Liberation Sans',sans-serif;color:#283B4B;">SOPR-T method</div>
<div class="t" style="left:1636.4px;top:2100.8px;font-size:33.4px;font-family:'Liberation Sans',sans-serif;color:#283B4B;">1.</div>
<div class="t" style="left:1695.1px;top:2100.8px;font-size:33.4px;font-family:'Liberation Sans',sans-serif;color:#283B4B;">Randomly sample a subset</div>
<div class="t" style="left:2109.6px;top:2100.6px;font-size:35px;font-family:'Liberation Serif',serif;font-style:italic;color:#283B4B;">D<span class="sb">s</span></div>
<div class="t" style="left:2150.8px;top:2100.8px;font-size:33.4px;font-family:'Liberation Sans',sans-serif;color:#283B4B;">of states from the off-policy dataset and</div>
<div class="t" style="left:1696.4px;top:2149.0px;font-size:33.4px;font-family:'Liberation Sans',sans-serif;color:#283B4B;">cluster them into <i>K</i> clusters by k-means clustering.</div>
<div class="t" style="left:1637.2px;top:2197.7px;font-size:33.4px;font-family:'Liberation Sans',sans-serif;color:#283B4B;">2.</div>
<div class="t" style="left:1695.1px;top:2197.7px;font-size:33.4px;font-family:'Liberation Sans',sans-serif;color:#283B4B;">Let a policy π take actions over the states in</div>
<div class="t" style="left:2356.1px;top:2197.5px;font-size:35px;font-family:'Liberation Serif',serif;font-style:italic;color:#283B4B;">D<span class="sb">s</span></div>
<div class="t" style="left:2398.6px;top:2197.7px;font-size:33.4px;font-family:'Liberation Sans',sans-serif;color:#283B4B;">and obtain a set of state-</div>
<div class="t" style="left:1696.4px;top:2244.7px;font-size:33.4px;font-family:'Liberation Sans',sans-serif;color:#283B4B;">action pairs.</div>
<div class="t" style="left:1637.6px;top:2293.5px;font-size:33.4px;font-family:'Liberation Sans',sans-serif;color:#283B4B;">3.</div>
<div class="t" style="left:1695.2px;top:2293.5px;font-size:33.4px;font-family:'Liberation Sans',sans-serif;color:#283B4B;">Use a low-level TE to encode all the state-action pairs in a cluster and get</div>
<div class="t" style="left:1696.4px;top:2341.1px;font-size:33.4px;font-family:'Liberation Sans',sans-serif;color:#283B4B;">a vector representation for each cluster by average pooling.</div>
<div class="t" style="left:1638.2px;top:2389.8px;font-size:33.4px;font-family:'Liberation Sans',sans-serif;color:#283B4B;">4.</div>
<div class="t" style="left:1695.2px;top:2389.8px;font-size:33.4px;font-family:'Liberation Sans',sans-serif;color:#283B4B;">Use a high-level TE to encode all the clusters and get a vector</div>
<div class="t" style="left:1695.6px;top:2437.4px;font-size:33.4px;font-family:'Liberation Sans',sans-serif;color:#283B4B;">representation for the policy by average pooling.</div>
<div class="t" style="left:1637.6px;top:2485.0px;font-size:33.4px;font-family:'Liberation Sans',sans-serif;color:#283B4B;">5.</div>
<div class="t" style="left:1695.2px;top:2485.0px;font-size:33.4px;font-family:'Liberation Sans',sans-serif;color:#283B4B;">Use a linear projection to map the vector in the above step to a score.</div>
<div class="t" style="left:1586.2px;top:2583.3px;font-size:35px;font-family:'Liberation Sans',sans-serif;color:#283B4B;">•</div>
<div class="t" style="left:1631.7px;top:2583.3px;font-size:35px;font-family:'Liberation Sans',sans-serif;color:#283B4B;">Training loss function:</div>
<div class="t" style="left:1400.6px;top:2690.9px;font-size:38px;font-family:'Liberation Serif',serif;font-style:italic;color:#000;letter-spacing:1.5px">l<span class="mr">(</span>π<span class="sb">i</span><span class="mr">, </span>π<span class="sb">j</span><span class="mr">; </span>θ<span class="mr">)</span></div>
<div class="t" style="left:1577.5px;top:2690.9px;font-size:38px;font-family:'Liberation Serif',serif;color:#000;">=</div>
<div class="t" style="left:1618.1px;top:2690.9px;font-size:38px;font-family:'Liberation Serif',serif;color:#000;">−</div>
<div class="t" style="left:1676.9px;top:2690.9px;font-size:38px;font-family:'Liberation Serif',serif;font-style:italic;color:#000;">y<span class="sb">ij</span></div>
<div class="t" style="left:1724.7px;top:2690.9px;font-size:38px;font-family:'Liberation Serif',serif;color:#000;">log(</div>
<div class="t" style="left:2004.5px;top:2664.1px;font-size:38px;font-family:'Liberation Serif',serif;color:#000;">1</div>
<div class="t" style="left:1792.2px;top:2717.6px;font-size:38px;font-family:'Liberation Serif',serif;color:#000;">1 + <i>e</i></div>
<div class="t" style="left:1876.7px;top:2708.6px;font-size:27px;font-family:'Liberation Serif',serif;color:#000;letter-spacing:4.4px">−(<i>f</i>(<i>π</i><span class="sb"><i>i</i></span>,<i>D</i><span class="sb"><i>s</i></span>;<i>θ</i>)−<i>f</i>(<i>π</i><span class="sb"><i>j</i></span>,<i>D</i><span class="sb"><i>s</i></span>;<i>θ</i>))</div>
<div class="t" style="left:2237.2px;top:2690.9px;font-size:38px;font-family:'Liberation Serif',serif;color:#000;">)</div>
<div class="t" style="left:2269.9px;top:2690.9px;font-size:38px;font-family:'Liberation Serif',serif;color:#000;">+</div>
<div class="t" style="left:2302.2px;top:2690.9px;font-size:38px;font-family:'Liberation Serif',serif;color:#000;">(1 − <i>y</i><span class="sb"><i>ij</i></span>)</div>
<div class="t" style="left:2448.0px;top:2690.9px;font-size:38px;font-family:'Liberation Serif',serif;color:#000;">log(1 −</div>
<div class="t" style="left:2791.2px;top:2664.1px;font-size:38px;font-family:'Liberation Serif',serif;color:#000;">1</div>
<div class="t" style="left:2580.2px;top:2717.6px;font-size:38px;font-family:'Liberation Serif',serif;color:#000;">1 + <i>e</i></div>
<div class="t" style="left:2664.7px;top:2708.6px;font-size:27px;font-family:'Liberation Serif',serif;color:#000;letter-spacing:4.4px">−(<i>f</i>(<i>π</i><span class="sb"><i>i</i></span>,<i>D</i><span class="sb"><i>s</i></span>;<i>θ</i>)−<i>f</i>(<i>π</i><span class="sb"><i>j</i></span>,<i>D</i><span class="sb"><i>s</i></span>;<i>θ</i>))</div>
<div class="t" style="left:3025.2px;top:2690.9px;font-size:38px;font-family:'Liberation Serif',serif;color:#000;">)</div>
<svg style="left:0;top:0" width="4324" height="2880"><rect x="1792.5" y="2691.6" width="443.3" height="1.8" fill="#000"/><rect x="2580.4" y="2691.6" width="444.6" height="1.8" fill="#000"/><path d="M1672.3,2648.5 L1663,2648.5 L1663,2737 L1672.3,2737" fill="none" stroke="#000" stroke-width="2.2"/><path d="M3046,2648.5 L3055.3,2648.5 L3055.3,2737 L3046,2737" fill="none" stroke="#000" stroke-width="2.2"/><line x1="1688.3" y1="2745.6" x2="1688.3" y2="2771.0" stroke="#0000FF" stroke-width="2"/><polygon points="1688.3,2783.0 1683.3,2771.0 1693.3,2771.0" fill="#0000FF"/><line x1="1688.3" y1="2745.6" x2="1688.3" y2="2783.0" stroke="#0000FF" stroke-width="2"/><polyline points="1683.3,2771.0 1688.3,2783.0 1693.3,2771.0" fill="none" stroke="#0000FF" stroke-width="2"/><line x1="2084.5" y1="2745.6" x2="2084.5" y2="2783.0" stroke="#FF0000" stroke-width="2"/><polyline points="2079.5,2771.0 2084.5,2783.0 2089.5,2771.0" fill="none" stroke="#FF0000" stroke-width="2"/></svg>
<div class="t" style="left:1540.8px;top:2809.4px;font-size:30.3px;font-family:'Liberation Sans',sans-serif;color:#0000FF;">Pairwise ranking label</div>
<div class="t" style="left:1976.8px;top:2809.4px;font-size:30.2px;font-family:'Liberation Sans',sans-serif;color:#FF0000;">Scoring function</div>
<div class="t" style="left:3045.9px;top:505.8px;font-size:57px;font-family:'Liberation Sans',sans-serif;color:#000;">Experiments</div>
<div class="t" style="left:3048.0px;top:614.7px;font-size:35.3px;font-family:'Liberation Sans',sans-serif;color:#283B4B;">•</div>
<div class="t" style="left:3093.0px;top:614.7px;font-size:35.3px;font-family:'Liberation Sans',sans-serif;color:#283B4B;">Tasks:</div>
<div class="t" style="left:3097.7px;top:662.6px;font-size:30px;font-family:'Liberation Sans',sans-serif;color:#283B4B;">•</div>
<div class="t" style="left:3141.9px;top:662.6px;font-size:30px;font-family:'Liberation Sans',sans-serif;color:#283B4B;">Mujoco games</div>
<div class="t" style="left:3097.7px;top:706.4px;font-size:30px;font-family:'Liberation Sans',sans-serif;color:#283B4B;">•</div>
<div class="t" style="left:3141.9px;top:706.4px;font-size:30px;font-family:'Liberation Sans',sans-serif;color:#283B4B;">Public datasets: D4RL</div>
<div class="t" style="left:3048.0px;top:752.5px;font-size:35.3px;font-family:'Liberation Sans',sans-serif;color:#283B4B;">•</div>
<div class="t" style="left:3093.0px;top:752.5px;font-size:35.3px;font-family:'Liberation Sans',sans-serif;color:#283B4B;">Training/ validation/ test policy sets</div>
<div class="t" style="left:3097.7px;top:800.9px;font-size:30px;font-family:'Liberation Sans',sans-serif;color:#283B4B;">•</div>
<div class="t" style="left:3142.9px;top:800.9px;font-size:30px;font-family:'Liberation Sans',sans-serif;color:#283B4B;">Collecting 50 policy snapshots during online SAC training</div>
<div class="t" style="left:3097.7px;top:945.5px;font-size:30px;font-family:'Liberation Sans',sans-serif;color:#283B4B;">•</div>
<div class="t" style="left:3143.7px;top:945.5px;font-size:30px;font-family:'Liberation Sans',sans-serif;color:#283B4B;">Test set</div>
<div class="t" style="left:3191.8px;top:987.3px;font-size:30.3px;font-family:'Liberation Sans',sans-serif;color:#283B4B;">•</div>
<div class="t" style="left:3236.8px;top:987.3px;font-size:30.3px;font-family:'Liberation Sans',sans-serif;color:#283B4B;">Offline trained policies (Test Set I)</div>
<div class="t" style="left:3286.1px;top:1030.6px;font-size:30.2px;font-family:'Liberation Sans',sans-serif;color:#283B4B;">•</div>
<div class="t" style="left:3331.9px;top:1030.6px;font-size:30.2px;font-family:'Liberation Sans',sans-serif;color:#283B4B;">Trained by offline RL algorithms: BEAR, CQL, CRR</div>
<div class="t" style="left:3286.1px;top:1074.5px;font-size:30.2px;font-family:'Liberation Sans',sans-serif;color:#283B4B;">•</div>
<div class="t" style="left:3330.1px;top:1074.5px;font-size:30.2px;font-family:'Liberation Sans',sans-serif;color:#283B4B;">Different policy network architectures</div>
<div class="t" style="left:3191.8px;top:1118.4px;font-size:30.3px;font-family:'Liberation Sans',sans-serif;color:#283B4B;">•</div>
<div class="t" style="left:3236.8px;top:1118.4px;font-size:30.3px;font-family:'Liberation Sans',sans-serif;color:#283B4B;">Online trained policies  (Test Set II)</div>
<div class="t" style="left:3097.7px;top:1161.8px;font-size:30px;font-family:'Liberation Sans',sans-serif;color:#283B4B;">•</div>
<div class="t" style="left:3141.9px;top:1161.8px;font-size:30px;font-family:'Liberation Sans',sans-serif;color:#283B4B;">Ranking labels: based on Monte-Carlo evaluation</div>
<div class="t" style="left:3048.0px;top:1206.7px;font-size:35.3px;font-family:'Liberation Sans',sans-serif;color:#283B4B;">•</div>
<div class="t" style="left:3090.9px;top:1206.7px;font-size:35.3px;font-family:'Liberation Sans',sans-serif;color:#283B4B;">Baselines:</div>
<div class="t" style="left:3097.7px;top:1254.6px;font-size:30px;font-family:'Liberation Sans',sans-serif;color:#283B4B;">•</div>
<div class="t" style="left:3141.9px;top:1254.6px;font-size:30px;font-family:'Liberation Sans',sans-serif;color:#283B4B;">Fitted Q evaluation (FQE),</div>
<div class="t" style="left:3097.7px;top:1297.9px;font-size:30px;font-family:'Liberation Sans',sans-serif;color:#283B4B;">•</div>
<div class="t" style="left:3144.3px;top:1297.9px;font-size:30px;font-family:'Liberation Sans',sans-serif;color:#283B4B;">Weighted step-wise importance sampling (IW)</div>
<div class="t" style="left:3097.7px;top:1341.8px;font-size:30px;font-family:'Liberation Sans',sans-serif;color:#283B4B;">•</div>
<div class="t" style="left:3141.9px;top:1341.8px;font-size:30px;font-family:'Liberation Sans',sans-serif;color:#283B4B;">Model-based Monte-Carlo estimation (MB)</div>
<div class="t" style="left:3097.7px;top:1385.1px;font-size:30px;font-family:'Liberation Sans',sans-serif;color:#283B4B;">•</div>
<div class="t" style="left:3141.9px;top:1385.1px;font-size:30px;font-family:'Liberation Sans',sans-serif;color:#283B4B;">DualDICE</div>
<div class="t" style="left:3048.0px;top:1431.6px;font-size:35.3px;font-family:'Liberation Sans',sans-serif;color:#283B4B;">•</div>
<div class="t" style="left:3090.9px;top:1431.6px;font-size:35.3px;font-family:'Liberation Sans',sans-serif;color:#283B4B;">Evaluation metrics:</div>
<div class="t" style="left:3097.7px;top:1479.6px;font-size:30px;font-family:'Liberation Sans',sans-serif;color:#283B4B;">•</div>
<div class="t" style="left:3141.9px;top:1479.6px;font-size:30px;font-family:'Liberation Sans',sans-serif;color:#283B4B;">Rank correlation</div>
<div class="t" style="left:3097.7px;top:1545.9px;font-size:30px;font-family:'Liberation Sans',sans-serif;color:#283B4B;">•</div>
<div class="t" style="left:3141.9px;top:1545.9px;font-size:30px;font-family:'Liberation Sans',sans-serif;color:#283B4B;">Normalized regret</div>
<div class="t" style="left:3389.2px;top:1544.9px;font-size:31px;font-family:'Liberation Serif',serif;color:#283B4B;">@</div>
<div class="t" style="left:3424.6px;top:1545.3px;font-size:30px;font-family:'Liberation Serif',serif;color:#283B4B;">k</div>
<div class="t" style="left:3448.0px;top:1545.3px;font-size:30px;font-family:'Liberation Serif',serif;color:#283B4B;">=</div>
<div style="position:absolute;left:3478.1px;top:1546.2px;width:185.1px;height:1.6px;background:#283B4B"></div>
<div style="position:absolute;left:3480.5px;top:1515.9px;width:1.6px;height:25.5px;background:#283B4B"></div>
<div style="position:absolute;left:3659.8px;top:1515.9px;width:1.6px;height:25.5px;background:#283B4B"></div>
<div class="t" style="left:3484.6px;top:1527.9px;font-size:23px;font-family:'Liberation Serif',serif;font-style:italic;color:#283B4B;letter-spacing:1.3px">V<span class="mr" style="font-size:0.78em;position:relative;top:4px">max</span><span class="mr">−</span>V<span class="mr" style="font-size:0.78em;position:relative;top:4px">max_topk</span></div>
<div class="t" style="left:3511.3px;top:1562.3px;font-size:23px;font-family:'Liberation Serif',serif;font-style:italic;color:#283B4B;letter-spacing:1.6px">V<span class="mr" style="font-size:0.78em;position:relative;top:4px">max</span><span class="mr">−</span>V<span style="font-size:0.78em;position:relative;top:4px"><span class="mr">m</span>in</span></div>
<svg style="left:0;top:0" width="4324" height="2880"><line x1="3308.2" y1="820.9" x2="3212.6" y2="844.5" stroke="#55606a" stroke-width="1.2"/><polyline points="3220.3,838.0 3212.6,844.5 3222.4,846.7" fill="none" stroke="#55606a" stroke-width="1.2"/><line x1="3308.2" y1="820.9" x2="3379.7" y2="844.5" stroke="#55606a" stroke-width="1.2"/><polyline points="3369.7,846.0 3379.7,844.5 3372.6,837.4" fill="none" stroke="#55606a" stroke-width="1.2"/><line x1="3308.2" y1="820.9" x2="3579.3" y2="844.5" stroke="#55606a" stroke-width="1.2"/><polyline points="3569.9,848.2 3579.3,844.5 3570.7,839.2" fill="none" stroke="#55606a" stroke-width="1.2"/></svg>
<div class="t" style="left:3165.3px;top:870.7px;font-size:26.7px;font-family:'Liberation Sans',sans-serif;color:#283B4B;">Training set:</div>
<div class="t" style="left:3174.5px;top:903.3px;font-size:26.7px;font-family:'Liberation Sans',sans-serif;color:#283B4B;">30 policies</div>
<div class="t" style="left:3359.9px;top:873.5px;font-size:26.7px;font-family:'Liberation Sans',sans-serif;color:#283B4B;">Validation set:</div>
<div class="t" style="left:3379.3px;top:905.5px;font-size:26.7px;font-family:'Liberation Sans',sans-serif;color:#283B4B;">10 policies</div>
<div class="t" style="left:3570.3px;top:873.5px;font-size:26.7px;font-family:'Liberation Sans',sans-serif;color:#283B4B;">Test set II:</div>
<div class="t" style="left:3567.0px;top:905.5px;font-size:26.7px;font-family:'Liberation Sans',sans-serif;color:#283B4B;">10 policies</div>
<svg style="left:3532.6px;top:557.1px" width="142" height="142" viewBox="0 0 142 142"><defs><clipPath id="cp3532"><rect width="142" height="142"/></clipPath></defs><g clip-path="url(#cp3532)"><rect width="142" height="142" fill="#d0d0d0"/><path d="M2,151 L39,138 L25,121 L-8,131ZM-16,116 L14,108 L5,97 L-22,104ZM-27,94 L-2,89 L-8,81 L-32,86ZM56,159 L90,144 L69,126 L39,138ZM25,121 L53,112 L40,101 L14,108ZM5,97 L30,91 L21,84 L-2,89ZM-8,81 L13,77 L7,71 L-13,75ZM-18,69 L1,66 L-4,62 L-22,65ZM117,168 L146,152 L117,132 L90,144ZM69,126 L95,117 L78,105 L53,112ZM40,101 L63,95 L51,86 L30,91ZM21,84 L41,79 L33,73 L13,77ZM7,71 L25,68 L19,63 L1,66ZM-4,62 L13,59 L8,56 L-8,58ZM-12,55 L3,53 L-1,50 L-15,52ZM117,132 L141,122 L118,109 L95,117ZM78,105 L99,98 L84,89 L63,95ZM51,86 L71,82 L60,75 L41,79ZM33,73 L50,70 L42,65 L25,68ZM19,63 L35,61 L28,57 L13,59ZM8,56 L22,54 L17,51 L3,53ZM-1,50 L13,48 L8,46 L-5,47ZM-8,45 L4,44 L1,42 L-11,43ZM170,139 L190,127 L161,113 L141,122ZM118,109 L137,101 L118,92 L99,98ZM84,89 L102,84 L88,77 L71,82ZM60,75 L76,72 L66,67 L50,70ZM42,65 L57,62 L49,58 L35,61ZM28,57 L42,55 L36,52 L22,54ZM17,51 L30,49 L25,47 L13,48ZM8,46 L21,44 L16,42 L4,44ZM1,42 L12,40 L9,39 L-2,40ZM-5,38 L5,37 L2,35 L-8,36ZM-11,35 L-1,34 L-3,33 L-13,34ZM161,113 L179,105 L155,95 L137,101ZM118,92 L135,87 L118,80 L102,84ZM88,77 L104,74 L92,68 L76,72ZM66,67 L81,64 L72,60 L57,62ZM49,58 L63,56 L56,53 L42,55ZM36,52 L49,50 L43,47 L30,49ZM25,47 L37,45 L32,43 L21,44ZM16,42 L27,41 L23,39 L12,40ZM9,39 L19,37 L16,36 L5,37ZM2,35 L12,34 L9,33 L-1,34ZM-3,33 L6,32 L3,31 L-6,31ZM-8,30 L1,30 L-2,29 L-10,29ZM155,95 L170,89 L150,82 L135,87ZM118,80 L133,76 L119,70 L104,74ZM92,68 L106,65 L95,61 L81,64ZM72,60 L85,57 L76,54 L63,56ZM56,53 L68,51 L61,48 L49,50ZM43,47 L54,46 L48,44 L37,45ZM32,43 L43,42 L38,40 L27,41ZM23,39 L33,38 L29,36 L19,37ZM16,36 L25,35 L22,34 L12,34ZM9,33 L18,32 L15,31 L6,32ZM3,31 L12,30 L9,29 L1,30ZM-2,29 L7,28 L4,27 L-4,28ZM-6,27 L2,26 L-0,25 L-8,26ZM150,82 L164,78 L147,72 L133,76ZM119,70 L132,67 L119,62 L106,65ZM95,61 L107,59 L97,55 L85,57ZM76,54 L88,52 L79,49 L68,51ZM61,48 L72,47 L65,44 L54,46ZM48,44 L59,42 L53,40 L43,42ZM38,40 L48,39 L43,37 L33,38ZM29,36 L39,35 L35,34 L25,35ZM22,34 L31,33 L27,32 L18,32ZM15,31 L24,30 L20,29 L12,30ZM9,29 L17,28 L15,27 L7,28ZM4,27 L12,26 L10,26 L2,26ZM-0,25 L7,25 L5,24 L-2,25ZM-4,24 L3,23 L1,23 L-6,23ZM-8,22 L-1,22 L-3,21 L-10,22ZM147,72 L159,69 L144,64 L132,67ZM119,62 L131,60 L119,56 L107,59ZM97,55 L108,53 L99,50 L88,52ZM79,49 L90,48 L83,45 L72,47ZM65,44 L75,43 L69,41 L59,42ZM53,40 L63,39 L58,38 L48,39ZM43,37 L52,36 L48,35 L39,35ZM35,34 L43,33 L39,32 L31,33ZM27,32 L35,31 L32,30 L24,30ZM20,29 L28,29 L25,28 L17,28ZM15,27 L22,27 L20,26 L12,26ZM10,26 L17,25 L14,24 L7,25ZM5,24 L12,24 L10,23 L3,23ZM1,23 L8,22 L5,22 L-1,22ZM-3,21 L3,21 L2,20 L-5,21ZM-6,20 L-0,20 L-2,19 L-8,20ZM144,64 L155,61 L142,57 L131,60ZM119,56 L130,54 L119,51 L108,53ZM99,50 L109,48 L100,46 L90,48ZM83,45 L92,44 L85,42 L75,43ZM69,41 L78,40 L72,38 L63,39ZM58,38 L67,37 L61,35 L52,36ZM48,35 L56,34 L52,32 L43,33ZM39,32 L47,31 L43,30 L35,31ZM32,30 L40,29 L36,28 L28,29ZM25,28 L33,27 L30,26 L22,27ZM20,26 L27,25 L24,25 L17,25ZM14,24 L21,24 L19,23 L12,24ZM10,23 L16,22 L14,22 L8,22ZM5,22 L12,21 L10,21 L3,21ZM2,20 L8,20 L6,20 L-0,20ZM-2,19 L4,19 L2,19 L-4,19ZM-5,18 L1,18 L-1,18 L-7,18ZM142,57 L152,55 L140,52 L130,54ZM119,51 L129,49 L119,47 L109,48ZM100,46 L110,45 L102,42 L92,44ZM85,42 L94,40 L87,39 L78,40ZM72,38 L81,37 L75,36 L67,37ZM61,35 L70,34 L65,33 L56,34ZM52,32 L60,32 L55,30 L47,31ZM43,30 L51,29 L47,28 L40,29ZM36,28 L44,27 L40,27 L33,27ZM30,26 L37,26 L34,25 L27,25ZM24,25 L31,24 L28,23 L21,24ZM19,23 L25,23 L23,22 L16,22ZM14,22 L20,21 L18,21 L12,21ZM10,21 L16,20 L14,20 L8,20ZM6,20 L12,19 L10,19 L4,19ZM2,19 L8,18 L6,18 L1,18ZM-1,18 L5,17 L3,17 L-2,17ZM-4,17 L1,17 L-0,16 L-5,16ZM-7,16 L-2,16 L-3,15 L-8,16ZM140,52 L149,50 L138,48 L129,49ZM119,47 L128,45 L119,43 L110,45ZM102,42 L111,41 L103,39 L94,40ZM87,39 L96,38 L89,36 L81,37ZM75,36 L83,35 L78,33 L70,34ZM65,33 L72,32 L68,31 L60,32ZM55,30 L63,30 L59,29 L51,29ZM47,28 L55,28 L51,27 L44,27ZM40,27 L47,26 L44,25 L37,26ZM34,25 L40,24 L37,24 L31,24ZM28,23 L34,23 L32,22 L25,23ZM23,22 L29,22 L27,21 L20,21ZM18,21 L24,20 L22,20 L16,20ZM14,20 L20,19 L18,19 L12,19ZM10,19 L16,18 L14,18 L8,18ZM6,18 L12,18 L10,17 L5,17ZM3,17 L8,17 L7,16 L1,17ZM-0,16 L5,16 L4,16 L-2,16ZM-3,15 L2,15 L1,15 L-4,15ZM-6,15 L-1,15 L-2,14 L-7,14ZM138,48 L147,46 L137,44 L128,45ZM119,43 L128,42 L119,40 L111,41ZM103,39 L111,38 L104,37 L96,38ZM89,36 L97,35 L91,34 L83,35ZM78,33 L85,32 L80,31 L72,32ZM68,31 L75,30 L70,29 L63,30ZM59,29 L66,28 L62,27 L55,28ZM51,27 L58,26 L54,25 L47,26ZM44,25 L50,25 L47,24 L40,24ZM37,24 L44,23 L41,23 L34,23ZM32,22 L38,22 L35,21 L29,22ZM27,21 L33,21 L30,20 L24,20ZM22,20 L28,20 L25,19 L20,19ZM18,19 L23,19 L21,18 L16,18ZM14,18 L19,18 L17,17 L12,18ZM10,17 L15,17 L13,16 L8,17ZM7,16 L12,16 L10,16 L5,16ZM4,16 L8,15 L7,15 L2,15ZM1,15 L5,15 L4,14 L-1,15ZM-2,14 L3,14 L1,14 L-3,14ZM-5,14 L-0,13 L-1,13 L-6,13ZM137,44 L145,43 L136,41 L128,42ZM119,40 L127,39 L119,37 L111,38ZM104,37 L112,36 L105,34 L97,35ZM91,34 L99,33 L93,32 L85,32ZM80,31 L87,31 L82,29 L75,30ZM70,29 L77,28 L73,27 L66,28ZM62,27 L68,27 L64,26 L58,26ZM54,25 L60,25 L57,24 L50,25ZM47,24 L53,23 L50,23 L44,23ZM41,23 L47,22 L44,21 L38,22ZM35,21 L41,21 L38,20 L33,21ZM30,20 L36,20 L33,19 L28,20ZM25,19 L31,19 L29,18 L23,19ZM21,18 L26,18 L24,17 L19,18ZM17,17 L22,17 L20,17 L15,17ZM13,16 L19,16 L17,16 L12,16ZM10,16 L15,15 L13,15 L8,15ZM7,15 L12,15 L10,14 L5,15ZM4,14 L9,14 L7,14 L3,14ZM1,14 L6,14 L4,13 L-0,13ZM-1,13 L3,13 L2,13 L-2,13ZM-4,13 L1,12 L-1,12 L-5,12ZM-6,12 L-2,12 L-3,12 L-7,12ZM136,41 L143,39 L135,38 L127,39ZM119,37 L127,36 L119,35 L112,36ZM105,34 L112,33 L106,32 L99,33ZM93,32 L100,31 L94,30 L87,31ZM82,29 L89,29 L84,28 L77,28ZM73,27 L79,27 L75,26 L68,27ZM64,26 L71,25 L67,24 L60,25ZM57,24 L63,24 L59,23 L53,23ZM50,23 L56,22 L53,22 L47,22ZM44,21 L50,21 L47,21 L41,21ZM38,20 L44,20 L41,19 L36,20ZM33,19 L39,19 L36,18 L31,19ZM29,18 L34,18 L32,18 L26,18ZM24,17 L29,17 L27,17 L22,17ZM20,17 L25,16 L23,16 L19,16ZM17,16 L22,16 L20,15 L15,15ZM13,15 L18,15 L16,15 L12,15ZM10,14 L15,14 L13,14 L9,14ZM7,14 L12,14 L10,13 L6,14ZM4,13 L9,13 L7,13 L3,13ZM2,13 L6,13 L5,12 L1,12ZM-1,12 L4,12 L2,12 L-2,12ZM-3,12 L1,12 L0,11 L-4,12ZM-5,11 L-1,11 L-2,11 L-6,11ZM153,41 L160,40 L150,38 L143,39ZM135,38 L142,37 L134,35 L127,36ZM119,35 L126,34 L119,33 L112,33ZM106,32 L113,31 L107,30 L100,31ZM94,30 L101,29 L95,28 L89,29ZM84,28 L90,27 L86,26 L79,27ZM75,26 L81,25 L77,25 L71,25ZM67,24 L73,24 L69,23 L63,24ZM59,23 L65,23 L62,22 L56,22ZM53,22 L58,21 L55,21 L50,21ZM47,21 L52,20 L49,20 L44,20ZM41,19 L47,19 L44,19 L39,19ZM36,18 L41,18 L39,18 L34,18ZM32,18 L37,17 L34,17 L29,17ZM27,17 L32,16 L30,16 L25,16ZM23,16 L28,16 L26,15 L22,16ZM20,15 L24,15 L23,15 L18,15ZM16,15 L21,14 L19,14 L15,14ZM13,14 L18,14 L16,13 L12,14ZM10,13 L15,13 L13,13 L9,13ZM7,13 L12,13 L10,12 L6,13ZM5,12 L9,12 L8,12 L4,12ZM2,12 L6,12 L5,11 L1,12ZM0,11 L4,11 L3,11 L-1,11ZM-2,11 L2,11 L1,11 L-3,11ZM-4,11 L-0,10 L-1,10 L-5,10ZM150,38 L157,37 L149,36 L142,37ZM134,35 L140,34 L133,33 L126,34ZM119,33 L126,32 L119,31 L113,31ZM107,30 L113,29 L107,28 L101,29ZM95,28 L102,28 L97,27 L90,27ZM86,26 L92,26 L87,25 L81,25ZM77,25 L83,24 L79,23 L73,24ZM69,23 L75,23 L71,22 L65,23ZM62,22 L67,21 L64,21 L58,21ZM55,21 L61,20 L58,20 L52,20ZM49,20 L55,19 L52,19 L47,19ZM44,19 L49,18 L47,18 L41,18ZM39,18 L44,17 L42,17 L37,17ZM34,17 L39,17 L37,16 L32,16ZM30,16 L35,16 L33,15 L28,16ZM26,15 L31,15 L29,15 L24,15ZM23,15 L27,14 L25,14 L21,14ZM19,14 L24,14 L22,14 L18,14ZM16,13 L20,13 L19,13 L15,13ZM13,13 L17,13 L16,12 L12,13ZM10,12 L14,12 L13,12 L9,12ZM8,12 L12,12 L10,12 L6,12ZM5,11 L9,11 L8,11 L4,11ZM3,11 L7,11 L5,11 L2,11ZM1,11 L4,10 L3,10 L-0,10ZM-1,10 L2,10 L1,10 L-3,10ZM-3,10 L0,10 L-1,10 L-4,10ZM-5,9 L-2,9 L-3,9 L-6,9ZM149,36 L155,35 L147,33 L140,34ZM133,33 L139,32 L132,31 L126,32ZM119,31 L126,30 L119,29 L113,29ZM107,28 L113,28 L108,27 L102,28ZM97,27 L103,26 L98,25 L92,26ZM87,25 L93,24 L89,24 L83,24ZM79,23 L84,23 L80,22 L75,23ZM71,22 L77,22 L73,21 L67,21ZM64,21 L69,21 L66,20 L61,20ZM58,20 L63,19 L60,19 L55,19ZM52,19 L57,18 L54,18 L49,18ZM47,18 L52,18 L49,17 L44,17ZM42,17 L46,17 L44,16 L39,17ZM37,16 L42,16 L40,16 L35,16ZM33,15 L38,15 L35,15 L31,15ZM29,15 L33,15 L32,14 L27,14ZM25,14 L30,14 L28,14 L24,14ZM22,14 L26,13 L25,13 L20,13ZM19,13 L23,13 L21,13 L17,13ZM16,12 L20,12 L18,12 L14,12ZM13,12 L17,12 L16,12 L12,12ZM10,12 L14,11 L13,11 L9,11ZM8,11 L12,11 L10,11 L7,11ZM5,11 L9,11 L8,10 L4,10ZM3,10 L7,10 L6,10 L2,10ZM1,10 L5,10 L4,10 L0,10ZM-1,10 L3,9 L2,9 L-2,9ZM-3,9 L1,9 L-0,9 L-4,9ZM-5,9 L-1,9 L-2,9 L-6,9ZM147,33 L153,33 L145,31 L139,32ZM132,31 L138,30 L132,29 L126,30ZM119,29 L125,28 L119,27 L113,28ZM108,27 L114,26 L108,26 L103,26ZM98,25 L103,25 L99,24 L93,24ZM89,24 L94,23 L90,23 L84,23ZM80,22 L86,22 L82,21 L77,22ZM73,21 L78,21 L75,20 L69,21ZM66,20 L71,20 L68,19 L63,19ZM60,19 L65,19 L62,18 L57,18ZM54,18 L59,18 L56,17 L52,18ZM49,17 L54,17 L51,16 L46,17ZM44,16 L49,16 L46,16 L42,16ZM40,16 L44,15 L42,15 L38,15ZM35,15 L40,15 L38,14 L33,15ZM32,14 L36,14 L34,14 L30,14ZM28,14 L32,13 L30,13 L26,13ZM25,13 L29,13 L27,13 L23,13ZM21,13 L25,12 L24,12 L20,12ZM18,12 L22,12 L21,12 L17,12ZM16,12 L19,11 L18,11 L14,11ZM13,11 L17,11 L15,11 L12,11ZM10,11 L14,11 L13,10 L9,11ZM8,10 L12,10 L10,10 L7,10ZM6,10 L9,10 L8,10 L5,10ZM4,10 L7,9 L6,9 L3,9ZM2,9 L5,9 L4,9 L1,9ZM-0,9 L3,9 L2,9 L-1,9ZM-2,9 L1,9 L0,8 L-3,8ZM-4,8 L-1,8 L-2,8 L-5,8ZM145,31 L151,31 L144,30 L138,30ZM132,29 L137,29 L131,28 L125,28ZM119,27 L125,27 L119,26 L114,26ZM108,26 L114,25 L109,24 L103,25ZM99,24 L104,24 L100,23 L94,23ZM90,23 L95,22 L91,22 L86,22ZM82,21 L87,21 L83,20 L78,21ZM75,20 L80,20 L76,19 L71,20ZM68,19 L73,19 L70,18 L65,19ZM62,18 L67,18 L64,17 L59,18ZM56,17 L61,17 L58,17 L54,17ZM51,16 L56,16 L53,16 L49,16ZM46,16 L51,15 L49,15 L44,15ZM42,15 L46,15 L44,14 L40,15ZM38,14 L42,14 L40,14 L36,14ZM34,14 L38,14 L36,13 L32,13ZM30,13 L34,13 L33,13 L29,13ZM27,13 L31,12 L29,12 L25,12ZM24,12 L28,12 L26,12 L22,12ZM21,12 L25,12 L23,11 L19,11ZM18,11 L22,11 L20,11 L17,11ZM15,11 L19,11 L18,10 L14,11ZM13,10 L16,10 L15,10 L12,10ZM10,10 L14,10 L13,10 L9,10ZM8,10 L12,10 L10,9 L7,9ZM6,9 L9,9 L8,9 L5,9ZM4,9 L7,9 L6,9 L3,9ZM2,9 L5,9 L4,8 L1,9ZM0,8 L3,8 L2,8 L-1,8ZM-2,8 L1,8 L1,8 L-3,8ZM-3,8 L-0,8 L-1,8 L-4,8ZM-5,8 L-2,8 L-3,7 L-6,7ZM144,30 L150,29 L143,28 L137,29ZM131,28 L137,27 L130,26 L125,27ZM119,26 L125,25 L119,24 L114,25ZM109,24 L114,24 L109,23 L104,24ZM100,23 L105,22 L100,22 L95,22ZM91,22 L96,21 L92,21 L87,21ZM83,20 L88,20 L85,19 L80,20ZM76,19 L81,19 L78,18 L73,19ZM70,18 L75,18 L71,18 L67,18ZM64,17 L69,17 L66,17 L61,17ZM58,17 L63,16 L60,16 L56,16ZM53,16 L58,16 L55,15 L51,15ZM49,15 L53,15 L51,15 L46,15ZM44,14 L48,14 L46,14 L42,14ZM40,14 L44,14 L42,13 L38,14ZM36,13 L40,13 L38,13 L34,13ZM33,13 L37,13 L35,12 L31,12ZM29,12 L33,12 L32,12 L28,12ZM26,12 L30,12 L28,11 L25,12ZM23,11 L27,11 L25,11 L22,11ZM20,11 L24,11 L23,11 L19,11ZM18,10 L21,10 L20,10 L16,10ZM15,10 L19,10 L17,10 L14,10ZM13,10 L16,10 L15,9 L12,10ZM10,9 L14,9 L13,9 L9,9ZM8,9 L12,9 L10,9 L7,9ZM6,9 L9,9 L8,9 L5,9ZM4,8 L7,8 L6,8 L3,8ZM2,8 L5,8 L5,8 L1,8ZM1,8 L4,8 L3,8 L-0,8ZM-1,8 L2,8 L1,7 L-2,8ZM-3,7 L0,7 L-1,7 L-4,7ZM-4,7 L-1,7 L-2,7 L-5,7ZM143,28 L148,27 L142,26 L137,27ZM130,26 L136,26 L130,25 L125,25ZM119,24 L125,24 L119,23 L114,24ZM109,23 L114,23 L110,22 L105,22ZM100,22 L105,21 L101,21 L96,21ZM92,21 L97,20 L93,20 L88,20ZM85,19 L89,19 L86,19 L81,19ZM78,18 L82,18 L79,18 L75,18ZM71,18 L76,17 L73,17 L69,17ZM66,17 L70,16 L67,16 L63,16ZM60,16 L65,16 L62,15 L58,16ZM55,15 L60,15 L57,15 L53,15ZM51,15 L55,14 L53,14 L48,14ZM46,14 L50,14 L48,13 L44,14ZM42,13 L46,13 L44,13 L40,13ZM38,13 L42,13 L41,12 L37,13ZM35,12 L39,12 L37,12 L33,12ZM32,12 L35,12 L34,11 L30,12ZM28,11 L32,11 L30,11 L27,11ZM25,11 L29,11 L28,11 L24,11ZM23,11 L26,10 L25,10 L21,10ZM20,10 L23,10 L22,10 L19,10ZM17,10 L21,10 L19,10 L16,10ZM15,9 L18,9 L17,9 L14,9ZM13,9 L16,9 L15,9 L12,9ZM10,9 L14,9 L13,9 L9,9ZM8,9 L12,8 L11,8 L7,8ZM6,8 L10,8 L9,8 L5,8ZM5,8 L8,8 L7,8 L4,8ZM3,8 L6,8 L5,7 L2,8ZM1,7 L4,7 L3,7 L0,7ZM-1,7 L2,7 L1,7 L-1,7ZM-2,7 L1,7 L-0,7 L-3,7ZM-4,7 L-1,7 L-2,7 L-5,7ZM142,26 L147,26 L141,25 L136,26ZM130,25 L135,24 L130,24 L125,24ZM119,23 L124,23 L119,22 L114,23ZM110,22 L115,22 L110,21 L105,21ZM101,21 L106,20 L102,20 L97,20ZM93,20 L98,19 L94,19 L89,19ZM86,19 L90,18 L87,18 L82,18ZM79,18 L84,17 L81,17 L76,17ZM73,17 L77,17 L74,16 L70,16ZM67,16 L72,16 L69,16 L65,16ZM62,15 L66,15 L64,15 L60,15ZM57,15 L61,14 L59,14 L55,14ZM53,14 L57,14 L54,14 L50,14ZM48,13 L52,13 L50,13 L46,13ZM44,13 L48,13 L46,12 L42,13ZM41,12 L44,12 L42,12 L39,12ZM37,12 L41,12 L39,12 L35,12ZM34,11 L37,11 L36,11 L32,11ZM30,11 L34,11 L33,11 L29,11ZM28,11 L31,10 L30,10 L26,10ZM25,10 L28,10 L27,10 L23,10ZM22,10 L25,10 L24,10 L21,10ZM19,10 L23,9 L22,9 L18,9ZM17,9 L20,9 L19,9 L16,9ZM15,9 L18,9 L17,9 L14,9ZM13,9 L16,8 L15,8 L12,8ZM11,8 L14,8 L13,8 L10,8ZM9,8 L12,8 L11,8 L8,8ZM7,8 L10,8 L9,8 L6,8ZM5,7 L8,7 L7,7 L4,7ZM3,7 L6,7 L5,7 L2,7ZM1,7 L4,7 L3,7 L1,7ZM-0,7 L3,7 L2,7 L-1,7ZM-2,7 L1,7 L0,6 L-3,6ZM-3,6 L-1,6 L-1,6 L-4,6ZM141,25 L146,25 L140,24 L135,24ZM130,24 L134,23 L129,22 L124,23ZM119,22 L124,22 L119,21 L115,22ZM110,21 L115,21 L111,20 L106,20ZM102,20 L106,20 L102,19 L98,19ZM94,19 L99,19 L95,18 L90,18ZM87,18 L91,18 L88,17 L84,17ZM81,17 L85,17 L82,16 L77,17ZM74,16 L79,16 L76,16 L72,16ZM69,16 L73,15 L70,15 L66,15ZM64,15 L68,15 L65,14 L61,14ZM59,14 L63,14 L61,14 L57,14ZM54,14 L58,13 L56,13 L52,13ZM50,13 L54,13 L52,13 L48,13ZM46,12 L50,12 L48,12 L44,12ZM42,12 L46,12 L44,12 L41,12ZM39,12 L43,11 L41,11 L37,11ZM36,11 L39,11 L38,11 L34,11ZM33,11 L36,11 L34,10 L31,10ZM30,10 L33,10 L32,10 L28,10ZM27,10 L30,10 L29,10 L25,10ZM24,10 L27,9 L26,9 L23,9ZM22,9 L25,9 L24,9 L20,9ZM19,9 L22,9 L21,9 L18,9ZM17,9 L20,9 L19,8 L16,8ZM15,8 L18,8 L17,8 L14,8ZM13,8 L16,8 L15,8 L12,8ZM11,8 L13,8 L12,8 L10,8ZM9,8 L12,7 L11,7 L8,7ZM7,7 L10,7 L9,7 L6,7ZM5,7 L8,7 L7,7 L4,7ZM3,7 L6,7 L5,7 L3,7ZM2,7 L4,7 L4,6 L1,7ZM0,6 L3,6 L2,6 L-1,6ZM-1,6 L1,6 L1,6 L-2,6ZM-3,6 L-0,6 L-1,6 L-3,6ZM-4,6 L-2,6 L-2,6 L-5,6ZM140,24 L145,23 L139,23 L134,23ZM129,22 L134,22 L129,21 L124,22ZM119,21 L124,21 L119,20 L115,21ZM111,20 L115,20 L111,19 L106,20ZM102,19 L107,19 L103,18 L99,19ZM95,18 L99,18 L96,17 L91,18ZM88,17 L92,17 L89,17 L85,17ZM82,16 L86,16 L83,16 L79,16ZM76,16 L80,15 L77,15 L73,15ZM70,15 L74,15 L72,14 L68,15ZM65,14 L69,14 L67,14 L63,14ZM61,14 L64,13 L62,13 L58,13ZM56,13 L60,13 L58,13 L54,13ZM52,13 L56,12 L54,12 L50,12ZM48,12 L52,12 L50,12 L46,12ZM44,12 L48,11 L46,11 L43,11ZM41,11 L44,11 L43,11 L39,11ZM38,11 L41,11 L39,10 L36,11ZM34,10 L38,10 L36,10 L33,10ZM32,10 L35,10 L33,10 L30,10ZM29,10 L32,10 L31,9 L27,9ZM26,9 L29,9 L28,9 L25,9ZM24,9 L27,9 L25,9 L22,9ZM21,9 L24,9 L23,8 L20,9ZM19,8 L22,8 L21,8 L18,8ZM17,8 L20,8 L18,8 L16,8ZM15,8 L17,8 L16,8 L13,8ZM12,8 L15,7 L14,7 L12,7ZM11,7 L13,7 L12,7 L10,7ZM9,7 L12,7 L11,7 L8,7ZM7,7 L10,7 L9,7 L6,7ZM5,7 L8,7 L7,6 L4,7ZM4,6 L6,6 L5,6 L3,6ZM2,6 L5,6 L4,6 L1,6ZM1,6 L3,6 L2,6 L-0,6ZM-1,6 L2,6 L1,6 L-2,6ZM-2,6 L0,6 L-1,6 L-3,6ZM-4,6 L-1,5 L-2,5 L-4,5ZM139,23 L144,22 L138,22 L134,22ZM129,21 L133,21 L128,20 L124,21ZM119,20 L124,20 L119,19 L115,20ZM111,19 L115,19 L111,18 L107,19ZM103,18 L107,18 L104,17 L99,18ZM96,17 L100,17 L97,17 L92,17ZM89,17 L93,16 L90,16 L86,16ZM83,16 L87,16 L84,15 L80,15ZM77,15 L81,15 L78,15 L74,15ZM72,14 L76,14 L73,14 L69,14ZM67,14 L71,14 L68,13 L64,13ZM62,13 L66,13 L64,13 L60,13ZM58,13 L61,13 L59,12 L56,12ZM54,12 L57,12 L55,12 L52,12ZM50,12 L53,12 L51,11 L48,11ZM46,11 L50,11 L48,11 L44,11ZM43,11 L46,11 L44,10 L41,11ZM39,10 L43,10 L41,10 L38,10ZM36,10 L40,10 L38,10 L35,10ZM33,10 L37,10 L35,9 L32,10ZM31,9 L34,9 L32,9 L29,9ZM28,9 L31,9 L30,9 L27,9ZM25,9 L28,9 L27,8 L24,9ZM23,8 L26,8 L25,8 L22,8ZM21,8 L24,8 L23,8 L20,8ZM18,8 L21,8 L20,8 L17,8ZM16,8 L19,8 L18,7 L15,7ZM14,7 L17,7 L16,7 L13,7ZM12,7 L15,7 L14,7 L12,7ZM11,7 L13,7 L12,7 L10,7ZM9,7 L12,7 L11,7 L8,7ZM7,6 L10,6 L9,6 L6,6ZM5,6 L8,6 L7,6 L5,6ZM4,6 L6,6 L6,6 L3,6ZM2,6 L5,6 L4,6 L2,6ZM1,6 L3,6 L3,6 L0,6ZM-1,6 L2,5 L1,5 L-1,5ZM-2,5 L1,5 L-0,5 L-3,5ZM-3,5 L-1,5 L-1,5 L-4,5ZM149,23 L154,22 L148,22 L144,22ZM138,22 L143,21 L138,21 L133,21ZM128,20 L133,20 L128,20 L124,20ZM119,19 L124,19 L119,19 L115,19ZM111,18 L115,18 L111,18 L107,18ZM104,17 L108,17 L104,17 L100,17ZM97,17 L101,16 L97,16 L93,16ZM90,16 L94,16 L91,15 L87,16ZM84,15 L88,15 L85,15 L81,15ZM78,15 L82,14 L80,14 L76,14ZM73,14 L77,14 L74,13 L71,14ZM68,13 L72,13 L70,13 L66,13ZM64,13 L67,13 L65,12 L61,13ZM59,12 L63,12 L61,12 L57,12ZM55,12 L59,12 L57,11 L53,12ZM51,11 L55,11 L53,11 L50,11ZM48,11 L51,11 L49,11 L46,11ZM44,10 L48,10 L46,10 L43,10ZM41,10 L44,10 L43,10 L40,10ZM38,10 L41,10 L40,9 L37,10ZM35,9 L38,9 L37,9 L34,9ZM32,9 L35,9 L34,9 L31,9ZM30,9 L33,9 L31,9 L28,9ZM27,8 L30,8 L29,8 L26,8ZM25,8 L28,8 L27,8 L24,8ZM23,8 L25,8 L24,8 L21,8ZM20,8 L23,8 L22,7 L19,8ZM18,7 L21,7 L20,7 L17,7ZM16,7 L19,7 L18,7 L15,7ZM14,7 L17,7 L16,7 L13,7ZM12,7 L15,7 L14,7 L12,7ZM11,7 L13,6 L12,6 L10,6ZM9,6 L11,6 L11,6 L8,6ZM7,6 L10,6 L9,6 L6,6ZM6,6 L8,6 L7,6 L5,6ZM4,6 L7,6 L6,6 L3,6ZM3,6 L5,6 L4,5 L2,5ZM1,5 L4,5 L3,5 L1,5ZM-0,5 L2,5 L2,5 L-1,5ZM-1,5 L1,5 L0,5 L-2,5ZM-3,5 L-0,5 L-1,5 L-3,5ZM-4,5 L-2,5 L-2,5 L-5,5ZM148,22 L152,21 L147,21 L143,21ZM138,21 L142,20 L137,20 L133,20ZM128,20 L132,19 L128,19 L124,19ZM119,19 L124,18 L119,18 L115,18ZM111,18 L116,17 L112,17 L108,17ZM104,17 L108,17 L105,16 L101,16ZM97,16 L101,16 L98,15 L94,16ZM91,15 L95,15 L92,15 L88,15ZM85,15 L89,14 L86,14 L82,14ZM80,14 L83,14 L81,14 L77,14ZM74,13 L78,13 L76,13 L72,13ZM70,13 L73,13 L71,12 L67,13ZM65,12 L69,12 L66,12 L63,12ZM61,12 L64,12 L62,11 L59,12ZM57,11 L60,11 L58,11 L55,11ZM53,11 L56,11 L55,11 L51,11ZM49,11 L53,10 L51,10 L48,10ZM46,10 L49,10 L48,10 L44,10ZM43,10 L46,10 L44,10 L41,10ZM40,9 L43,9 L41,9 L38,9ZM37,9 L40,9 L39,9 L35,9ZM34,9 L37,9 L36,9 L33,9ZM31,9 L34,8 L33,8 L30,8ZM29,8 L32,8 L31,8 L28,8ZM27,8 L29,8 L28,8 L25,8ZM24,8 L27,8 L26,7 L23,8ZM22,7 L25,7 L24,7 L21,7ZM20,7 L23,7 L22,7 L19,7ZM18,7 L21,7 L20,7 L17,7ZM16,7 L19,7 L18,7 L15,7ZM14,7 L17,6 L16,6 L13,6ZM12,6 L15,6 L14,6 L11,6ZM11,6 L13,6 L12,6 L10,6ZM9,6 L11,6 L11,6 L8,6ZM7,6 L10,6 L9,6 L7,6ZM6,6 L8,6 L8,5 L5,6ZM4,5 L7,5 L6,5 L4,5ZM3,5 L5,5 L5,5 L2,5ZM2,5 L4,5 L3,5 L1,5ZM0,5 L3,5 L2,5 L-0,5ZM-1,5 L1,5 L1,5 L-2,5ZM-2,5 L-0,5 L-1,5 L-3,5ZM-4,5 L-1,4 L-2,4 L-4,4ZM147,21 L151,20 L146,20 L142,20ZM137,20 L141,19 L136,19 L132,19ZM128,19 L132,18 L128,18 L124,18ZM119,18 L123,18 L119,17 L116,17ZM112,17 L116,17 L112,16 L108,17ZM105,16 L108,16 L105,16 L101,16ZM98,15 L102,15 L99,15 L95,15ZM92,15 L96,15 L93,14 L89,14ZM86,14 L90,14 L87,14 L83,14ZM81,14 L84,13 L82,13 L78,13ZM76,13 L79,13 L77,13 L73,13ZM71,12 L74,12 L72,12 L69,12ZM66,12 L70,12 L68,12 L64,12ZM62,11 L66,11 L64,11 L60,11ZM58,11 L62,11 L60,11 L56,11ZM55,11 L58,11 L56,10 L53,10ZM51,10 L54,10 L52,10 L49,10ZM48,10 L51,10 L49,10 L46,10ZM44,10 L48,9 L46,9 L43,9ZM41,9 L44,9 L43,9 L40,9ZM39,9 L42,9 L40,9 L37,9ZM36,9 L39,8 L37,8 L34,8ZM33,8 L36,8 L35,8 L32,8ZM31,8 L34,8 L32,8 L29,8ZM28,8 L31,8 L30,8 L27,8ZM26,7 L29,7 L28,7 L25,7ZM24,7 L26,7 L25,7 L23,7ZM22,7 L24,7 L23,7 L21,7ZM20,7 L22,7 L21,7 L19,7ZM18,7 L20,7 L19,6 L17,6ZM16,6 L18,6 L17,6 L15,6ZM14,6 L17,6 L16,6 L13,6ZM12,6 L15,6 L14,6 L11,6ZM11,6 L13,6 L12,6 L10,6ZM9,6 L11,6 L11,5 L8,6ZM8,5 L10,5 L9,5 L7,5ZM6,5 L8,5 L8,5 L5,5ZM5,5 L7,5 L6,5 L4,5ZM3,5 L5,5 L5,5 L3,5ZM2,5 L4,5 L3,5 L1,5ZM1,5 L3,5 L2,5 L-0,5ZM-1,5 L1,5 L1,4 L-1,4ZM-2,4 L0,4 L-0,4 L-3,4ZM146,20 L150,20 L145,19 L141,19ZM136,19 L140,19 L136,18 L132,18ZM128,18 L132,18 L127,17 L123,18ZM119,17 L123,17 L120,16 L116,17ZM112,16 L116,16 L112,16 L108,16ZM105,16 L109,15 L105,15 L102,15ZM99,15 L102,15 L99,14 L96,15ZM93,14 L96,14 L93,14 L90,14ZM87,14 L90,13 L88,13 L84,13ZM82,13 L85,13 L83,13 L79,13ZM77,13 L80,12 L78,12 L74,12ZM72,12 L75,12 L73,12 L70,12ZM68,12 L71,11 L69,11 L66,11ZM64,11 L67,11 L65,11 L62,11ZM60,11 L63,11 L61,10 L58,11ZM56,10 L59,10 L57,10 L54,10ZM52,10 L56,10 L54,10 L51,10ZM49,10 L52,9 L51,9 L48,9ZM46,9 L49,9 L47,9 L44,9ZM43,9 L46,9 L44,9 L42,9ZM40,9 L43,9 L42,8 L39,8ZM37,8 L40,8 L39,8 L36,8ZM35,8 L38,8 L36,8 L34,8ZM32,8 L35,8 L34,8 L31,8ZM30,8 L33,7 L31,7 L29,7ZM28,7 L30,7 L29,7 L26,7ZM25,7 L28,7 L27,7 L24,7ZM23,7 L26,7 L25,7 L22,7ZM21,7 L24,7 L23,6 L20,7ZM19,6 L22,6 L21,6 L18,6ZM17,6 L20,6 L19,6 L17,6ZM16,6 L18,6 L17,6 L15,6ZM14,6 L16,6 L16,6 L13,6ZM12,6 L15,6 L14,6 L11,6ZM11,5 L13,5 L12,5 L10,5ZM9,5 L11,5 L11,5 L8,5ZM8,5 L10,5 L9,5 L7,5ZM6,5 L8,5 L8,5 L5,5ZM5,5 L7,5 L6,5 L4,5ZM3,5 L6,5 L5,5 L3,5ZM2,5 L4,5 L4,4 L1,5ZM1,4 L3,4 L2,4 L0,4ZM145,19 L149,19 L144,18 L140,19ZM136,18 L140,18 L135,17 L132,18ZM127,17 L131,17 L127,17 L123,17ZM120,16 L123,16 L120,16 L116,16ZM112,16 L116,15 L112,15 L109,15ZM105,15 L109,15 L106,14 L102,15ZM99,14 L103,14 L100,14 L96,14ZM93,14 L97,14 L94,13 L90,13ZM88,13 L91,13 L89,13 L85,13ZM83,13 L86,12 L84,12 L80,12ZM78,12 L81,12 L79,12 L75,12ZM73,12 L77,11 L74,11 L71,11ZM69,11 L72,11 L70,11 L67,11ZM65,11 L68,11 L66,10 L63,11ZM61,10 L64,10 L62,10 L59,10ZM57,10 L60,10 L59,10 L56,10ZM54,10 L57,10 L55,9 L52,9ZM51,9 L54,9 L52,9 L49,9ZM47,9 L50,9 L49,9 L46,9ZM44,9 L47,9 L46,8 L43,9ZM42,8 L44,8 L43,8 L40,8ZM39,8 L42,8 L40,8 L38,8ZM36,8 L39,8 L38,8 L35,8ZM34,8 L37,7 L35,7 L33,7ZM31,7 L34,7 L33,7 L30,7ZM29,7 L32,7 L31,7 L28,7ZM27,7 L30,7 L29,7 L26,7ZM25,7 L27,7 L26,6 L24,7ZM23,6 L25,6 L24,6 L22,6ZM21,6 L23,6 L22,6 L20,6ZM19,6 L22,6 L21,6 L18,6ZM17,6 L20,6 L19,6 L16,6ZM16,6 L18,6 L17,6 L15,6ZM14,6 L16,5 L15,5 L13,5ZM12,5 L15,5 L14,5 L11,5ZM11,5 L13,5 L12,5 L10,5ZM9,5 L11,5 L11,5 L8,5ZM8,5 L10,5 L9,5 L7,5ZM6,5 L9,5 L8,5 L6,5ZM5,5 L7,5 L6,4 L4,5ZM4,4 L6,4 L5,4 L3,4ZM2,4 L5,4 L4,4 L2,4ZM144,18 L148,18 L143,18 L140,18ZM135,17 L139,17 L135,17 L131,17ZM127,17 L131,16 L127,16 L123,16ZM120,16 L123,16 L120,15 L116,15ZM112,15 L116,15 L113,15 L109,15ZM106,14 L109,14 L106,14 L103,14ZM100,14 L103,14 L100,13 L97,14ZM94,13 L97,13 L95,13 L91,13ZM89,13 L92,13 L89,12 L86,12ZM84,12 L87,12 L84,12 L81,12ZM79,12 L82,12 L80,11 L77,11ZM74,11 L78,11 L75,11 L72,11ZM70,11 L73,11 L71,11 L68,11ZM66,10 L69,10 L67,10 L64,10ZM62,10 L65,10 L63,10 L60,10ZM59,10 L62,10 L60,9 L57,10ZM55,9 L58,9 L57,9 L54,9ZM52,9 L55,9 L53,9 L50,9ZM49,9 L52,9 L50,8 L47,9ZM46,8 L49,8 L47,8 L44,8ZM43,8 L46,8 L45,8 L42,8ZM40,8 L43,8 L42,8 L39,8ZM38,8 L41,8 L39,7 L37,7ZM35,7 L38,7 L37,7 L34,7ZM33,7 L36,7 L34,7 L32,7ZM31,7 L33,7 L32,7 L30,7ZM29,7 L31,7 L30,7 L27,7ZM26,6 L29,6 L28,6 L25,6ZM24,6 L27,6 L26,6 L23,6ZM22,6 L25,6 L24,6 L22,6ZM21,6 L23,6 L22,6 L20,6ZM19,6 L21,6 L20,6 L18,6ZM17,6 L19,5 L19,5 L16,5ZM15,5 L18,5 L17,5 L15,5ZM14,5 L16,5 L15,5 L13,5ZM12,5 L14,5 L14,5 L11,5ZM11,5 L13,5 L12,5 L10,5ZM9,5 L11,5 L11,5 L9,5ZM8,5 L10,5 L9,5 L7,5ZM6,4 L9,4 L8,4 L6,4ZM5,4 L7,4 L7,4 L5,4ZM143,18 L147,17 L143,17 L139,17ZM135,17 L138,16 L134,16 L131,16ZM127,16 L130,16 L127,15 L123,16ZM120,15 L123,15 L120,15 L116,15ZM113,15 L116,14 L113,14 L109,14ZM106,14 L110,14 L107,13 L103,14ZM100,13 L104,13 L101,13 L97,13ZM95,13 L98,13 L95,12 L92,13ZM89,12 L93,12 L90,12 L87,12ZM84,12 L88,12 L85,11 L82,12ZM80,11 L83,11 L81,11 L78,11ZM75,11 L79,11 L76,11 L73,11ZM71,11 L74,10 L72,10 L69,10ZM67,10 L70,10 L68,10 L65,10ZM63,10 L66,10 L65,9 L62,10ZM60,9 L63,9 L61,9 L58,9ZM57,9 L59,9 L58,9 L55,9ZM53,9 L56,9 L55,9 L52,9ZM50,8 L53,8 L52,8 L49,8ZM47,8 L50,8 L49,8 L46,8ZM45,8 L47,8 L46,8 L43,8ZM42,8 L45,8 L43,7 L41,8ZM39,7 L42,7 L41,7 L38,7ZM37,7 L39,7 L38,7 L36,7ZM34,7 L37,7 L36,7 L33,7ZM32,7 L35,7 L34,7 L31,7ZM30,7 L33,6 L31,6 L29,6ZM28,6 L30,6 L29,6 L27,6ZM26,6 L28,6 L27,6 L25,6ZM24,6 L26,6 L25,6 L23,6ZM22,6 L24,6 L24,6 L21,6ZM20,6 L23,6 L22,5 L19,5ZM19,5 L21,5 L20,5 L18,5ZM17,5 L19,5 L18,5 L16,5ZM15,5 L18,5 L17,5 L14,5ZM14,5 L16,5 L15,5 L13,5ZM12,5 L14,5 L14,5 L11,5ZM11,5 L13,5 L12,5 L10,5ZM9,5 L11,4 L11,4 L9,4ZM8,4 L10,4 L9,4 L7,4ZM7,4 L9,4 L8,4 L6,4ZM143,17 L146,17 L142,16 L138,16ZM134,16 L138,16 L134,15 L130,16ZM127,15 L130,15 L126,15 L123,15ZM120,15 L123,14 L120,14 L116,14ZM113,14 L116,14 L113,14 L110,14ZM107,13 L110,13 L107,13 L104,13ZM101,13 L104,13 L101,12 L98,13ZM95,12 L99,12 L96,12 L93,12ZM90,12 L93,12 L91,12 L88,12ZM85,11 L88,11 L86,11 L83,11ZM81,11 L84,11 L82,11 L79,11ZM76,11 L79,10 L77,10 L74,10ZM72,10 L75,10 L73,10 L70,10ZM68,10 L71,10 L69,10 L66,10ZM65,9 L68,9 L66,9 L63,9ZM61,9 L64,9 L62,9 L59,9ZM58,9 L61,9 L59,9 L56,9ZM55,9 L57,8 L56,8 L53,8ZM52,8 L54,8 L53,8 L50,8ZM49,8 L51,8 L50,8 L47,8ZM46,8 L49,8 L47,8 L45,8ZM43,7 L46,7 L45,7 L42,7ZM41,7 L43,7 L42,7 L39,7ZM38,7 L41,7 L40,7 L37,7ZM36,7 L38,7 L37,7 L35,7ZM34,7 L36,6 L35,6 L33,6ZM31,6 L34,6 L33,6 L30,6ZM29,6 L32,6 L31,6 L28,6ZM27,6 L30,6 L29,6 L26,6ZM25,6 L28,6 L27,6 L24,6ZM24,6 L26,6 L25,5 L23,6ZM22,5 L24,5 L23,5 L21,5ZM20,5 L22,5 L21,5 L19,5ZM18,5 L21,5 L20,5 L18,5ZM17,5 L19,5 L18,5 L16,5ZM15,5 L17,5 L17,5 L14,5ZM14,5 L16,5 L15,5 L13,5ZM12,5 L14,4 L14,4 L11,4ZM11,4 L13,4 L12,4 L10,4ZM9,4 L11,4 L11,4 L9,4ZM142,16 L145,16 L141,16 L138,16ZM134,15 L137,15 L134,15 L130,15ZM126,15 L130,15 L126,14 L123,14ZM120,14 L123,14 L120,14 L116,14ZM113,14 L116,13 L113,13 L110,13ZM107,13 L110,13 L107,13 L104,13ZM101,12 L104,12 L102,12 L99,12ZM96,12 L99,12 L96,12 L93,12ZM91,12 L94,11 L92,11 L88,11ZM86,11 L89,11 L87,11 L84,11ZM82,11 L85,11 L82,10 L79,10ZM77,10 L80,10 L78,10 L75,10ZM73,10 L76,10 L74,10 L71,10ZM69,10 L72,9 L70,9 L68,9ZM66,9 L69,9 L67,9 L64,9ZM62,9 L65,9 L63,9 L61,9ZM59,9 L62,8 L60,8 L57,8ZM56,8 L59,8 L57,8 L54,8ZM53,8 L56,8 L54,8 L51,8ZM50,8 L53,8 L51,8 L49,8ZM47,8 L50,7 L48,7 L46,7ZM45,7 L47,7 L46,7 L43,7ZM42,7 L45,7 L43,7 L41,7ZM40,7 L42,7 L41,7 L38,7ZM37,7 L40,7 L39,6 L36,6ZM35,6 L37,6 L36,6 L34,6ZM33,6 L35,6 L34,6 L32,6ZM31,6 L33,6 L32,6 L30,6ZM29,6 L31,6 L30,6 L28,6ZM27,6 L29,6 L28,5 L26,6ZM25,5 L27,5 L26,5 L24,5ZM23,5 L25,5 L25,5 L22,5ZM21,5 L24,5 L23,5 L21,5ZM20,5 L22,5 L21,5 L19,5ZM18,5 L20,5 L19,5 L17,5ZM17,5 L19,5 L18,5 L16,5ZM15,5 L17,5 L16,4 L14,4ZM14,4 L16,4 L15,4 L13,4ZM12,4 L14,4 L14,4 L11,4ZM11,4 L13,4 L12,4 L10,4ZM141,16 L145,15 L141,15 L137,15ZM134,15 L137,15 L133,14 L130,15ZM126,14 L130,14 L126,14 L123,14ZM120,14 L123,13 L120,13 L116,13ZM113,13 L116,13 L113,13 L110,13ZM107,13 L110,12 L108,12 L104,12ZM102,12 L105,12 L102,12 L99,12ZM96,12 L100,11 L97,11 L94,11ZM92,11 L95,11 L92,11 L89,11ZM87,11 L90,11 L88,10 L85,11ZM82,10 L85,10 L83,10 L80,10ZM78,10 L81,10 L79,10 L76,10ZM74,10 L77,9 L75,9 L72,9ZM70,9 L73,9 L71,9 L69,9ZM67,9 L70,9 L68,9 L65,9ZM63,9 L66,9 L65,8 L62,8ZM60,8 L63,8 L61,8 L59,8ZM57,8 L60,8 L58,8 L56,8ZM54,8 L57,8 L55,8 L53,8ZM51,8 L54,7 L52,7 L50,7ZM48,7 L51,7 L50,7 L47,7ZM46,7 L48,7 L47,7 L45,7ZM43,7 L46,7 L45,7 L42,7ZM41,7 L43,7 L42,6 L40,7ZM39,6 L41,6 L40,6 L37,6ZM36,6 L39,6 L38,6 L35,6ZM34,6 L37,6 L35,6 L33,6ZM32,6 L34,6 L33,6 L31,6ZM30,6 L32,6 L31,6 L29,6ZM28,5 L30,5 L30,5 L27,5ZM26,5 L29,5 L28,5 L25,5ZM25,5 L27,5 L26,5 L24,5ZM23,5 L25,5 L24,5 L22,5ZM21,5 L23,5 L22,5 L20,5ZM19,5 L22,5 L21,5 L19,5ZM18,5 L20,5 L19,4 L17,5ZM16,4 L18,4 L18,4 L16,4ZM15,4 L17,4 L16,4 L14,4ZM14,4 L16,4 L15,4 L13,4ZM141,15 L144,15 L140,14 L137,15ZM133,14 L136,14 L133,14 L130,14ZM126,14 L129,14 L126,13 L123,13ZM120,13 L123,13 L120,13 L116,13ZM113,13 L117,12 L114,12 L110,12ZM108,12 L111,12 L108,12 L105,12ZM102,12 L105,12 L103,11 L100,11ZM97,11 L100,11 L98,11 L95,11ZM92,11 L95,11 L93,10 L90,11ZM88,10 L91,10 L88,10 L85,10ZM83,10 L86,10 L84,10 L81,10ZM79,10 L82,10 L80,9 L77,9ZM75,9 L78,9 L76,9 L73,9ZM71,9 L74,9 L72,9 L70,9ZM68,9 L71,9 L69,8 L66,9ZM65,8 L67,8 L66,8 L63,8ZM61,8 L64,8 L62,8 L60,8ZM58,8 L61,8 L59,8 L57,8ZM55,8 L58,8 L56,7 L54,7ZM52,7 L55,7 L54,7 L51,7ZM50,7 L52,7 L51,7 L48,7ZM47,7 L50,7 L48,7 L46,7ZM45,7 L47,7 L46,6 L43,7ZM42,6 L45,6 L43,6 L41,6ZM40,6 L42,6 L41,6 L39,6ZM38,6 L40,6 L39,6 L37,6ZM35,6 L38,6 L37,6 L34,6ZM33,6 L36,6 L35,6 L32,6ZM31,6 L34,5 L33,5 L30,5ZM30,5 L32,5 L31,5 L29,5ZM28,5 L30,5 L29,5 L27,5ZM26,5 L28,5 L27,5 L25,5ZM24,5 L26,5 L25,5 L23,5ZM22,5 L25,5 L24,5 L22,5ZM21,5 L23,5 L22,4 L20,5ZM19,4 L21,4 L21,4 L18,4ZM18,4 L20,4 L19,4 L17,4ZM16,4 L18,4 L18,4 L16,4ZM15,4 L17,4 L16,4 L14,4ZM148,15 L151,15 L147,15 L144,15ZM140,14 L143,14 L140,14 L136,14ZM133,14 L136,14 L132,13 L129,14ZM126,13 L129,13 L126,13 L123,13ZM120,13 L123,13 L120,12 L117,12ZM114,12 L117,12 L114,12 L111,12ZM108,12 L111,12 L108,11 L105,12ZM103,11 L106,11 L103,11 L100,11ZM98,11 L100,11 L98,11 L95,11ZM93,10 L96,10 L93,10 L91,10ZM88,10 L91,10 L89,10 L86,10ZM84,10 L87,10 L85,9 L82,10ZM80,9 L83,9 L81,9 L78,9ZM76,9 L79,9 L77,9 L74,9ZM72,9 L75,9 L73,8 L71,9ZM69,8 L72,8 L70,8 L67,8ZM66,8 L68,8 L67,8 L64,8ZM62,8 L65,8 L63,8 L61,8ZM59,8 L62,8 L60,7 L58,8ZM56,7 L59,7 L57,7 L55,7ZM54,7 L56,7 L55,7 L52,7ZM51,7 L53,7 L52,7 L50,7ZM48,7 L51,7 L49,7 L47,7ZM46,6 L48,6 L47,6 L45,6ZM43,6 L46,6 L45,6 L42,6ZM41,6 L43,6 L42,6 L40,6ZM39,6 L41,6 L40,6 L38,6ZM37,6 L39,6 L38,6 L36,6ZM35,6 L37,6 L36,5 L34,5ZM33,5 L35,5 L34,5 L32,5ZM31,5 L33,5 L32,5 L30,5ZM29,5 L31,5 L30,5 L28,5ZM27,5 L29,5 L28,5 L26,5ZM25,5 L28,5 L27,5 L25,5ZM24,5 L26,5 L25,5 L23,5ZM22,4 L24,4 L23,4 L21,4ZM21,4 L23,4 L22,4 L20,4ZM19,4 L21,4 L20,4 L18,4ZM18,4 L20,4 L19,4 L17,4ZM147,15 L150,14 L146,14 L143,14ZM140,14 L143,14 L139,13 L136,14ZM132,13 L135,13 L132,13 L129,13ZM126,13 L129,13 L126,12 L123,13ZM120,12 L123,12 L120,12 L117,12ZM114,12 L117,12 L114,11 L111,12ZM108,11 L111,11 L108,11 L106,11ZM103,11 L106,11 L103,11 L100,11ZM98,11 L101,10 L99,10 L96,10ZM93,10 L96,10 L94,10 L91,10ZM89,10 L92,10 L90,9 L87,10ZM85,9 L88,9 L85,9 L83,9ZM81,9 L83,9 L82,9 L79,9ZM77,9 L80,9 L78,9 L75,9ZM73,8 L76,8 L74,8 L72,8ZM70,8 L72,8 L71,8 L68,8ZM67,8 L69,8 L68,8 L65,8ZM63,8 L66,8 L64,7 L62,8ZM60,7 L63,7 L61,7 L59,7ZM57,7 L60,7 L59,7 L56,7ZM55,7 L57,7 L56,7 L53,7ZM52,7 L54,7 L53,7 L51,7ZM49,7 L52,6 L51,6 L48,6ZM47,6 L49,6 L48,6 L46,6ZM45,6 L47,6 L46,6 L43,6ZM42,6 L45,6 L43,6 L41,6ZM40,6 L42,6 L41,6 L39,6ZM38,6 L40,6 L39,5 L37,6ZM36,5 L38,5 L37,5 L35,5ZM34,5 L36,5 L35,5 L33,5ZM32,5 L34,5 L33,5 L31,5ZM30,5 L32,5 L31,5 L29,5ZM28,5 L31,5 L30,5 L28,5ZM27,5 L29,5 L28,5 L26,5ZM25,5 L27,4 L26,4 L24,4ZM23,4 L25,4 L25,4 L23,4ZM22,4 L24,4 L23,4 L21,4ZM20,4 L22,4 L22,4 L20,4ZM19,4 L21,4 L20,4 L18,4ZM146,14 L149,14 L146,14 L143,14ZM139,13 L142,13 L138,13 L135,13ZM132,13 L135,13 L132,12 L129,13ZM126,12 L129,12 L126,12 L123,12ZM120,12 L123,12 L120,12 L117,12ZM114,11 L117,11 L114,11 L111,11ZM108,11 L111,11 L109,11 L106,11ZM103,11 L106,10 L104,10 L101,10ZM99,10 L101,10 L99,10 L96,10ZM94,10 L97,10 L95,10 L92,10ZM90,9 L92,9 L90,9 L88,9ZM85,9 L88,9 L86,9 L83,9ZM82,9 L84,9 L82,9 L80,9ZM78,9 L80,8 L79,8 L76,8ZM74,8 L77,8 L75,8 L72,8ZM71,8 L73,8 L72,8 L69,8ZM68,8 L70,8 L68,8 L66,8ZM64,7 L67,7 L65,7 L63,7ZM61,7 L64,7 L62,7 L60,7ZM59,7 L61,7 L60,7 L57,7ZM56,7 L58,7 L57,7 L54,7ZM53,7 L55,6 L54,6 L52,6ZM51,6 L53,6 L52,6 L49,6ZM48,6 L50,6 L49,6 L47,6ZM46,6 L48,6 L47,6 L45,6ZM43,6 L46,6 L45,6 L42,6ZM41,6 L44,6 L42,5 L40,6ZM39,5 L41,5 L40,5 L38,5ZM37,5 L39,5 L38,5 L36,5ZM35,5 L37,5 L36,5 L34,5ZM33,5 L35,5 L34,5 L32,5ZM31,5 L34,5 L33,5 L31,5ZM30,5 L32,5 L31,5 L29,5ZM28,5 L30,4 L29,4 L27,4ZM26,4 L28,4 L27,4 L25,4ZM25,4 L27,4 L26,4 L24,4ZM23,4 L25,4 L24,4 L22,4ZM22,4 L23,4 L23,4 L21,4ZM146,14 L149,13 L145,13 L142,13ZM138,13 L141,13 L138,13 L135,13ZM132,12 L135,12 L132,12 L129,12ZM126,12 L128,12 L125,12 L123,12ZM120,12 L122,11 L120,11 L117,11ZM114,11 L117,11 L114,11 L111,11ZM109,11 L112,11 L109,10 L106,10ZM104,10 L107,10 L104,10 L101,10ZM99,10 L102,10 L99,10 L97,10ZM95,10 L97,9 L95,9 L92,9ZM90,9 L93,9 L91,9 L88,9ZM86,9 L89,9 L87,9 L84,9ZM82,9 L85,9 L83,8 L80,8ZM79,8 L81,8 L79,8 L77,8ZM75,8 L78,8 L76,8 L73,8ZM72,8 L74,8 L73,8 L70,8ZM68,8 L71,7 L69,7 L67,7ZM65,7 L68,7 L66,7 L64,7ZM62,7 L65,7 L63,7 L61,7ZM60,7 L62,7 L61,7 L58,7ZM57,7 L59,7 L58,6 L55,6ZM54,6 L57,6 L55,6 L53,6ZM52,6 L54,6 L53,6 L50,6ZM49,6 L51,6 L50,6 L48,6ZM47,6 L49,6 L48,6 L46,6ZM45,6 L47,6 L46,6 L44,6ZM42,5 L45,5 L44,5 L41,5ZM40,5 L42,5 L41,5 L39,5ZM38,5 L40,5 L39,5 L37,5ZM36,5 L38,5 L37,5 L35,5ZM34,5 L37,5 L36,5 L34,5ZM33,5 L35,5 L34,5 L32,5ZM31,5 L33,5 L32,4 L30,4ZM29,4 L31,4 L30,4 L28,4ZM27,4 L29,4 L29,4 L27,4ZM26,4 L28,4 L27,4 L25,4ZM24,4 L26,4 L25,4 L23,4ZM23,4 L25,4 L24,4 L22,4ZM145,13 L148,13 L144,13 L141,13ZM138,13 L141,12 L138,12 L135,12ZM132,12 L134,12 L131,12 L128,12ZM125,12 L128,11 L125,11 L122,11ZM120,11 L122,11 L120,11 L117,11ZM114,11 L117,11 L114,10 L112,11ZM109,10 L112,10 L109,10 L107,10ZM104,10 L107,10 L104,10 L102,10ZM99,10 L102,10 L100,9 L97,9ZM95,9 L98,9 L96,9 L93,9ZM91,9 L93,9 L91,9 L89,9ZM87,9 L89,9 L87,8 L85,9ZM83,8 L86,8 L84,8 L81,8ZM79,8 L82,8 L80,8 L78,8ZM76,8 L78,8 L77,8 L74,8ZM73,8 L75,7 L73,7 L71,7ZM69,7 L72,7 L70,7 L68,7ZM66,7 L69,7 L67,7 L65,7ZM63,7 L66,7 L64,7 L62,7ZM61,7 L63,7 L61,6 L59,7ZM58,6 L60,6 L59,6 L57,6ZM55,6 L57,6 L56,6 L54,6ZM53,6 L55,6 L54,6 L51,6ZM50,6 L53,6 L51,6 L49,6ZM48,6 L50,6 L49,6 L47,6ZM46,6 L48,5 L47,5 L45,5ZM44,5 L46,5 L45,5 L42,5ZM41,5 L44,5 L43,5 L40,5ZM39,5 L42,5 L41,5 L38,5ZM37,5 L40,5 L39,5 L37,5ZM36,5 L38,5 L37,5 L35,5ZM34,5 L36,5 L35,4 L33,5ZM32,4 L34,4 L33,4 L31,4ZM30,4 L32,4 L31,4 L29,4ZM29,4 L31,4 L30,4 L28,4ZM27,4 L29,4 L28,4 L26,4ZM25,4 L27,4 L27,4 L25,4ZM144,13 L147,12 L144,12 L141,12ZM138,12 L140,12 L137,12 L134,12ZM131,12 L134,12 L131,11 L128,11ZM125,11 L128,11 L125,11 L122,11ZM120,11 L122,11 L120,10 L117,11ZM114,10 L117,10 L114,10 L112,10ZM109,10 L112,10 L109,10 L107,10ZM104,10 L107,10 L105,9 L102,10ZM100,9 L102,9 L100,9 L98,9ZM96,9 L98,9 L96,9 L93,9ZM91,9 L94,9 L92,8 L89,9ZM87,8 L90,8 L88,8 L86,8ZM84,8 L86,8 L84,8 L82,8ZM80,8 L83,8 L81,8 L78,8ZM77,8 L79,8 L77,7 L75,7ZM73,7 L76,7 L74,7 L72,7ZM70,7 L73,7 L71,7 L69,7ZM67,7 L70,7 L68,7 L66,7ZM64,7 L67,7 L65,7 L63,7ZM61,6 L64,6 L62,6 L60,6ZM59,6 L61,6 L60,6 L57,6ZM56,6 L58,6 L57,6 L55,6ZM54,6 L56,6 L55,6 L53,6ZM51,6 L54,6 L52,6 L50,6ZM49,6 L51,5 L50,5 L48,5ZM47,5 L49,5 L48,5 L46,5ZM45,5 L47,5 L46,5 L44,5ZM43,5 L45,5 L44,5 L42,5ZM41,5 L43,5 L42,5 L40,5ZM39,5 L41,5 L40,5 L38,5ZM37,5 L39,5 L38,5 L36,5ZM35,4 L37,4 L36,4 L34,4ZM33,4 L35,4 L34,4 L32,4ZM31,4 L33,4 L33,4 L31,4ZM30,4 L32,4 L31,4 L29,4ZM28,4 L30,4 L29,4 L27,4ZM27,4 L28,4 L28,4 L26,4ZM144,12 L146,12 L143,12 L140,12ZM137,12 L140,12 L137,11 L134,12ZM131,11 L134,11 L131,11 L128,11ZM125,11 L128,11 L125,11 L122,11ZM120,10 L122,10 L120,10 L117,10ZM114,10 L117,10 L115,10 L112,10ZM109,10 L112,10 L110,9 L107,10ZM105,9 L107,9 L105,9 L102,9ZM100,9 L103,9 L101,9 L98,9ZM96,9 L99,9 L96,9 L94,9ZM92,8 L94,8 L92,8 L90,8ZM88,8 L91,8 L89,8 L86,8ZM84,8 L87,8 L85,8 L83,8ZM81,8 L83,8 L82,7 L79,8ZM77,7 L80,7 L78,7 L76,7ZM74,7 L77,7 L75,7 L73,7ZM71,7 L73,7 L72,7 L70,7ZM68,7 L70,7 L69,7 L67,7ZM65,7 L67,6 L66,6 L64,6ZM62,6 L65,6 L63,6 L61,6ZM60,6 L62,6 L61,6 L58,6ZM57,6 L59,6 L58,6 L56,6ZM55,6 L57,6 L56,6 L54,6ZM52,6 L54,6 L53,5 L51,5ZM50,5 L52,5 L51,5 L49,5ZM48,5 L50,5 L49,5 L47,5ZM46,5 L48,5 L47,5 L45,5ZM44,5 L46,5 L45,5 L43,5ZM42,5 L44,5 L43,5 L41,5ZM40,5 L42,5 L41,5 L39,5ZM38,5 L40,4 L39,4 L37,4ZM36,4 L38,4 L37,4 L35,4ZM34,4 L36,4 L35,4 L33,4ZM33,4 L34,4 L34,4 L32,4ZM31,4 L33,4 L32,4 L30,4ZM29,4 L31,4 L30,4 L28,4ZM143,12 L146,12 L143,11 L140,12ZM137,11 L139,11 L136,11 L134,11ZM131,11 L133,11 L130,11 L128,11ZM125,11 L128,10 L125,10 L122,10ZM120,10 L122,10 L120,10 L117,10ZM115,10 L117,10 L115,10 L112,10ZM110,9 L112,9 L110,9 L107,9ZM105,9 L108,9 L105,9 L103,9ZM101,9 L103,9 L101,9 L99,9ZM96,9 L99,8 L97,8 L94,8ZM92,8 L95,8 L93,8 L91,8ZM89,8 L91,8 L89,8 L87,8ZM85,8 L87,8 L86,7 L83,8ZM82,7 L84,7 L82,7 L80,7ZM78,7 L80,7 L79,7 L77,7ZM75,7 L77,7 L76,7 L73,7ZM72,7 L74,7 L73,7 L70,7ZM69,7 L71,6 L70,6 L67,6ZM66,6 L68,6 L67,6 L65,6ZM63,6 L66,6 L64,6 L62,6ZM61,6 L63,6 L62,6 L59,6ZM58,6 L60,6 L59,6 L57,6ZM56,6 L58,6 L57,5 L54,6ZM53,5 L55,5 L54,5 L52,5ZM51,5 L53,5 L52,5 L50,5ZM49,5 L51,5 L50,5 L48,5ZM47,5 L49,5 L48,5 L46,5ZM45,5 L47,5 L46,5 L44,5ZM43,5 L45,5 L44,5 L42,5ZM41,5 L43,4 L42,4 L40,4ZM39,4 L41,4 L40,4 L38,4ZM37,4 L39,4 L38,4 L36,4ZM35,4 L37,4 L36,4 L34,4ZM34,4 L35,4 L35,4 L33,4ZM32,4 L34,4 L33,4 L31,4ZM30,4 L32,4 L31,4 L30,4ZM143,11 L145,11 L142,11 L139,11ZM136,11 L139,11 L136,11 L133,11ZM130,11 L133,10 L130,10 L128,10ZM125,10 L127,10 L125,10 L122,10ZM120,10 L122,10 L120,10 L117,10ZM115,10 L117,9 L115,9 L112,9ZM110,9 L112,9 L110,9 L108,9ZM105,9 L108,9 L106,9 L103,9ZM101,9 L103,8 L101,8 L99,8ZM97,8 L99,8 L97,8 L95,8ZM93,8 L95,8 L93,8 L91,8ZM89,8 L92,8 L90,8 L87,8ZM86,7 L88,7 L86,7 L84,7ZM82,7 L84,7 L83,7 L80,7ZM79,7 L81,7 L80,7 L77,7ZM76,7 L78,7 L76,7 L74,7ZM73,7 L75,7 L73,6 L71,6ZM70,6 L72,6 L71,6 L68,6ZM67,6 L69,6 L68,6 L66,6ZM64,6 L66,6 L65,6 L63,6ZM62,6 L64,6 L62,6 L60,6ZM59,6 L61,6 L60,5 L58,6ZM57,5 L59,5 L58,5 L55,5ZM54,5 L56,5 L55,5 L53,5ZM52,5 L54,5 L53,5 L51,5ZM50,5 L52,5 L51,5 L49,5ZM48,5 L50,5 L49,5 L47,5ZM46,5 L48,5 L47,5 L45,5ZM44,5 L46,5 L45,4 L43,4ZM42,4 L44,4 L43,4 L41,4ZM40,4 L42,4 L41,4 L39,4ZM38,4 L40,4 L39,4 L37,4ZM36,4 L38,4 L37,4 L35,4ZM35,4 L37,4 L36,4 L34,4ZM33,4 L35,4 L34,4 L32,4ZM142,11 L145,11 L142,11 L139,11ZM136,11 L139,11 L136,10 L133,10ZM130,10 L133,10 L130,10 L127,10ZM125,10 L127,10 L125,10 L122,10ZM120,10 L122,9 L120,9 L117,9ZM115,9 L117,9 L115,9 L112,9ZM110,9 L113,9 L110,9 L108,9ZM106,9 L108,9 L106,8 L103,8ZM101,8 L104,8 L102,8 L99,8ZM97,8 L100,8 L98,8 L95,8ZM93,8 L96,8 L94,8 L92,8ZM90,8 L92,7 L90,7 L88,7ZM86,7 L89,7 L87,7 L84,7ZM83,7 L85,7 L83,7 L81,7ZM80,7 L82,7 L80,7 L78,7ZM76,7 L79,7 L77,6 L75,7ZM73,6 L76,6 L74,6 L72,6ZM71,6 L73,6 L71,6 L69,6ZM68,6 L70,6 L69,6 L66,6ZM65,6 L67,6 L66,6 L64,6ZM62,6 L65,6 L63,6 L61,6ZM60,5 L62,5 L61,5 L59,5ZM58,5 L60,5 L58,5 L56,5ZM55,5 L57,5 L56,5 L54,5ZM53,5 L55,5 L54,5 L52,5ZM51,5 L53,5 L52,5 L50,5ZM49,5 L51,5 L50,5 L48,5ZM47,5 L49,5 L48,4 L46,5ZM45,4 L47,4 L46,4 L44,4ZM43,4 L45,4 L44,4 L42,4ZM41,4 L43,4 L42,4 L40,4ZM39,4 L41,4 L40,4 L38,4ZM37,4 L39,4 L38,4 L37,4ZM36,4 L38,4 L37,4 L35,4ZM34,4 L36,4 L35,4 L33,4ZM142,11 L144,11 L141,10 L139,11ZM136,10 L138,10 L135,10 L133,10ZM130,10 L132,10 L130,10 L127,10ZM125,10 L127,10 L125,9 L122,9ZM120,9 L122,9 L120,9 L117,9ZM115,9 L117,9 L115,9 L113,9ZM110,9 L113,9 L110,8 L108,9ZM106,8 L108,8 L106,8 L104,8ZM102,8 L104,8 L102,8 L100,8ZM98,8 L100,8 L98,8 L96,8ZM94,8 L96,7 L94,7 L92,7ZM90,7 L93,7 L91,7 L89,7ZM87,7 L89,7 L87,7 L85,7ZM83,7 L86,7 L84,7 L82,7ZM80,7 L82,7 L81,6 L79,7ZM77,6 L79,6 L78,6 L76,6ZM74,6 L76,6 L75,6 L73,6ZM71,6 L73,6 L72,6 L70,6ZM69,6 L71,6 L69,6 L67,6ZM66,6 L68,6 L67,6 L65,6ZM63,6 L65,5 L64,5 L62,5ZM61,5 L63,5 L62,5 L60,5ZM58,5 L60,5 L59,5 L57,5ZM56,5 L58,5 L57,5 L55,5ZM54,5 L56,5 L55,5 L53,5ZM52,5 L54,5 L53,5 L51,5ZM50,5 L52,5 L51,4 L49,5ZM48,4 L50,4 L49,4 L47,4ZM46,4 L48,4 L47,4 L45,4ZM44,4 L46,4 L45,4 L43,4ZM42,4 L44,4 L43,4 L41,4ZM40,4 L42,4 L41,4 L39,4ZM38,4 L40,4 L39,4 L38,4ZM37,4 L38,4 L38,4 L36,4ZM141,10 L144,10 L141,10 L138,10ZM135,10 L138,10 L135,10 L132,10ZM130,10 L132,10 L130,9 L127,10ZM125,9 L127,9 L124,9 L122,9ZM120,9 L122,9 L120,9 L117,9ZM115,9 L117,9 L115,8 L113,9ZM110,8 L113,8 L111,8 L108,8ZM106,8 L108,8 L106,8 L104,8ZM102,8 L104,8 L102,8 L100,8ZM98,8 L100,8 L99,7 L96,7ZM94,7 L97,7 L95,7 L93,7ZM91,7 L93,7 L91,7 L89,7ZM87,7 L90,7 L88,7 L86,7ZM84,7 L86,7 L85,7 L82,7ZM81,6 L83,6 L81,6 L79,6ZM78,6 L80,6 L78,6 L76,6ZM75,6 L77,6 L76,6 L73,6ZM72,6 L74,6 L73,6 L71,6ZM69,6 L71,6 L70,6 L68,6ZM67,6 L69,5 L67,5 L65,5ZM64,5 L66,5 L65,5 L63,5ZM62,5 L64,5 L62,5 L60,5ZM59,5 L61,5 L60,5 L58,5ZM57,5 L59,5 L58,5 L56,5ZM55,5 L57,5 L56,5 L54,5ZM53,5 L55,5 L54,5 L52,5ZM51,4 L52,4 L51,4 L50,4ZM49,4 L50,4 L49,4 L48,4ZM47,4 L48,4 L47,4 L46,4ZM45,4 L47,4 L46,4 L44,4ZM43,4 L45,4 L44,4 L42,4ZM41,4 L43,4 L42,4 L40,4ZM39,4 L41,4 L40,4 L38,4ZM38,4 L39,4 L39,4 L37,4ZM147,11 L149,10 L146,10 L144,10ZM141,10 L143,10 L140,10 L138,10ZM135,10 L137,10 L135,9 L132,10ZM130,9 L132,9 L129,9 L127,9ZM124,9 L127,9 L124,9 L122,9ZM120,9 L122,9 L120,9 L117,9ZM115,8 L117,8 L115,8 L113,8ZM111,8 L113,8 L111,8 L108,8ZM106,8 L109,8 L107,8 L104,8ZM102,8 L105,8 L103,7 L100,8ZM99,7 L101,7 L99,7 L97,7ZM95,7 L97,7 L95,7 L93,7ZM91,7 L93,7 L92,7 L90,7ZM88,7 L90,7 L88,7 L86,7ZM85,7 L87,6 L85,6 L83,6ZM81,6 L84,6 L82,6 L80,6ZM78,6 L81,6 L79,6 L77,6ZM76,6 L78,6 L76,6 L74,6ZM73,6 L75,6 L73,6 L71,6ZM70,6 L72,6 L71,5 L69,5ZM67,5 L69,5 L68,5 L66,5ZM65,5 L67,5 L66,5 L64,5ZM62,5 L64,5 L63,5 L61,5ZM60,5 L62,5 L61,5 L59,5ZM58,5 L60,5 L59,5 L57,5ZM56,5 L58,5 L56,5 L55,5ZM54,5 L55,4 L54,4 L52,4ZM51,4 L53,4 L52,4 L50,4ZM49,4 L51,4 L50,4 L48,4ZM47,4 L49,4 L48,4 L47,4ZM46,4 L47,4 L47,4 L45,4ZM44,4 L46,4 L45,4 L43,4ZM42,4 L44,4 L43,4 L41,4ZM40,4 L42,4 L41,4 L39,4ZM146,10 L148,10 L145,10 L143,10ZM140,10 L143,10 L140,10 L137,10ZM135,9 L137,9 L134,9 L132,9ZM129,9 L132,9 L129,9 L127,9ZM124,9 L127,9 L124,9 L122,9ZM120,9 L122,8 L120,8 L117,8ZM115,8 L117,8 L115,8 L113,8ZM111,8 L113,8 L111,8 L109,8ZM107,8 L109,8 L107,7 L105,8ZM103,7 L105,7 L103,7 L101,7ZM99,7 L101,7 L99,7 L97,7ZM95,7 L97,7 L96,7 L93,7ZM92,7 L94,7 L92,7 L90,7ZM88,7 L91,6 L89,6 L87,6ZM85,6 L87,6 L86,6 L84,6ZM82,6 L84,6 L83,6 L81,6ZM79,6 L81,6 L80,6 L78,6ZM76,6 L78,6 L77,6 L75,6ZM73,6 L75,6 L74,5 L72,6ZM71,5 L73,5 L71,5 L69,5ZM68,5 L70,5 L69,5 L67,5ZM66,5 L68,5 L66,5 L64,5ZM63,5 L65,5 L64,5 L62,5ZM61,5 L63,5 L62,5 L60,5ZM59,5 L61,5 L59,5 L58,5ZM56,5 L58,4 L57,4 L55,4ZM54,4 L56,4 L55,4 L53,4ZM52,4 L54,4 L53,4 L51,4ZM50,4 L52,4 L51,4 L49,4ZM48,4 L50,4 L49,4 L47,4ZM47,4 L48,4 L47,4 L46,4ZM45,4 L46,4 L46,4 L44,4ZM43,4 L45,4 L44,4 L42,4ZM41,4 L43,4 L42,3 L40,4ZM145,10 L148,10 L145,10 L143,10ZM140,10 L142,9 L139,9 L137,9ZM134,9 L137,9 L134,9 L132,9ZM129,9 L131,9 L129,9 L127,9ZM124,9 L127,8 L124,8 L122,8ZM120,8 L122,8 L120,8 L117,8ZM115,8 L117,8 L115,8 L113,8ZM111,8 L113,8 L111,8 L109,8ZM107,7 L109,7 L107,7 L105,7ZM103,7 L105,7 L103,7 L101,7ZM99,7 L101,7 L100,7 L97,7ZM96,7 L98,7 L96,7 L94,7ZM92,7 L94,7 L93,6 L91,6ZM89,6 L91,6 L89,6 L87,6ZM86,6 L88,6 L86,6 L84,6ZM83,6 L85,6 L83,6 L81,6ZM80,6 L82,6 L80,6 L78,6ZM77,6 L79,6 L77,5 L75,6ZM74,5 L76,5 L75,5 L73,5ZM71,5 L73,5 L72,5 L70,5ZM69,5 L71,5 L70,5 L68,5ZM66,5 L68,5 L67,5 L65,5ZM64,5 L66,5 L65,5 L63,5ZM62,5 L64,5 L62,5 L61,5ZM59,5 L61,5 L60,4 L58,4ZM57,4 L59,4 L58,4 L56,4ZM55,4 L57,4 L56,4 L54,4ZM53,4 L55,4 L54,4 L52,4ZM51,4 L53,4 L52,4 L50,4ZM49,4 L51,4 L50,4 L48,4ZM47,4 L49,4 L48,4 L46,4ZM46,4 L47,4 L46,4 L45,4ZM44,4 L46,4 L45,3 L43,4ZM145,10 L147,9 L144,9 L142,9ZM139,9 L142,9 L139,9 L137,9ZM134,9 L136,9 L134,9 L131,9ZM129,9 L131,9 L129,8 L127,8ZM124,8 L126,8 L124,8 L122,8ZM120,8 L122,8 L120,8 L117,8ZM115,8 L118,8 L115,8 L113,8ZM111,8 L113,7 L111,7 L109,7ZM107,7 L109,7 L107,7 L105,7ZM103,7 L105,7 L104,7 L101,7ZM100,7 L102,7 L100,7 L98,7ZM96,7 L98,7 L96,6 L94,7ZM93,6 L95,6 L93,6 L91,6ZM89,6 L91,6 L90,6 L88,6ZM86,6 L88,6 L87,6 L85,6ZM83,6 L85,6 L84,6 L82,6ZM80,6 L82,6 L81,6 L79,6ZM77,5 L79,5 L78,5 L76,5ZM75,5 L77,5 L75,5 L73,5ZM72,5 L74,5 L73,5 L71,5ZM70,5 L72,5 L70,5 L68,5ZM67,5 L69,5 L68,5 L66,5ZM65,5 L67,5 L66,5 L64,5ZM62,5 L64,5 L63,4 L61,5ZM60,4 L62,4 L61,4 L59,4ZM58,4 L60,4 L59,4 L57,4ZM56,4 L58,4 L57,4 L55,4ZM54,4 L56,4 L55,4 L53,4ZM52,4 L54,4 L53,4 L51,4ZM50,4 L52,4 L51,4 L49,4ZM48,4 L50,4 L49,4 L47,4ZM46,4 L48,4 L47,4 L46,4ZM45,3 L46,3 L46,3 L44,3ZM144,9 L147,9 L144,9 L142,9ZM139,9 L141,9 L139,9 L136,9ZM134,9 L136,9 L133,8 L131,9ZM129,8 L131,8 L129,8 L126,8ZM124,8 L126,8 L124,8 L122,8ZM120,8 L122,8 L120,8 L118,8ZM115,8 L118,8 L115,7 L113,7ZM111,7 L113,7 L111,7 L109,7ZM107,7 L109,7 L108,7 L105,7ZM104,7 L106,7 L104,7 L102,7ZM100,7 L102,7 L100,6 L98,7ZM96,6 L99,6 L97,6 L95,6ZM93,6 L95,6 L94,6 L91,6ZM90,6 L92,6 L90,6 L88,6ZM87,6 L89,6 L87,6 L85,6ZM84,6 L86,6 L84,6 L82,6ZM81,6 L83,5 L81,5 L79,5ZM78,5 L80,5 L79,5 L77,5ZM75,5 L77,5 L76,5 L74,5ZM73,5 L75,5 L73,5 L72,5ZM70,5 L72,5 L71,5 L69,5ZM68,5 L70,5 L69,5 L67,5ZM66,5 L67,5 L66,4 L64,5ZM63,4 L65,4 L64,4 L62,4ZM61,4 L63,4 L62,4 L60,4ZM59,4 L61,4 L60,4 L58,4ZM57,4 L59,4 L58,4 L56,4ZM55,4 L57,4 L56,4 L54,4ZM53,4 L55,4 L54,4 L52,4ZM51,4 L53,4 L52,4 L50,4ZM49,4 L51,4 L50,4 L48,4ZM47,4 L49,3 L48,3 L46,3ZM144,9 L146,9 L143,9 L141,9ZM139,9 L141,9 L138,8 L136,9ZM133,8 L136,8 L133,8 L131,8ZM129,8 L131,8 L129,8 L126,8ZM124,8 L126,8 L124,8 L122,8ZM120,8 L122,8 L120,7 L118,8ZM115,7 L118,7 L116,7 L113,7ZM111,7 L114,7 L112,7 L109,7ZM108,7 L110,7 L108,7 L106,7ZM104,7 L106,7 L104,7 L102,7ZM100,6 L102,6 L101,6 L99,6ZM97,6 L99,6 L97,6 L95,6ZM94,6 L96,6 L94,6 L92,6ZM90,6 L92,6 L91,6 L89,6ZM87,6 L89,6 L88,6 L86,6ZM84,6 L86,5 L85,5 L83,5ZM81,5 L83,5 L82,5 L80,5ZM79,5 L81,5 L79,5 L77,5ZM76,5 L78,5 L77,5 L75,5ZM73,5 L75,5 L74,5 L72,5ZM71,5 L73,5 L72,5 L70,5ZM69,5 L70,5 L69,5 L67,5ZM66,4 L68,4 L67,4 L65,4ZM64,4 L66,4 L65,4 L63,4ZM62,4 L64,4 L63,4 L61,4ZM60,4 L61,4 L60,4 L59,4ZM58,4 L59,4 L58,4 L57,4ZM56,4 L57,4 L56,4 L55,4ZM54,4 L55,4 L54,4 L53,4ZM52,4 L53,4 L53,4 L51,4ZM50,4 L52,3 L51,3 L49,3ZM48,3 L50,3 L49,3 L47,3ZM143,9 L146,9 L143,9 L141,9ZM138,8 L140,8 L138,8 L136,8ZM133,8 L135,8 L133,8 L131,8ZM129,8 L131,8 L128,8 L126,8ZM124,8 L126,8 L124,7 L122,8ZM120,7 L122,7 L120,7 L118,7ZM116,7 L118,7 L116,7 L114,7ZM112,7 L114,7 L112,7 L110,7ZM108,7 L110,7 L108,7 L106,7ZM104,7 L106,6 L104,6 L102,6ZM101,6 L103,6 L101,6 L99,6ZM97,6 L99,6 L98,6 L96,6ZM94,6 L96,6 L94,6 L92,6ZM91,6 L93,6 L91,6 L89,6ZM88,6 L90,6 L88,5 L86,5ZM85,5 L87,5 L85,5 L83,5ZM82,5 L84,5 L83,5 L81,5ZM79,5 L81,5 L80,5 L78,5ZM77,5 L79,5 L77,5 L75,5ZM74,5 L76,5 L75,5 L73,5ZM72,5 L73,5 L72,5 L70,5ZM69,5 L71,4 L70,4 L68,4ZM67,4 L69,4 L68,4 L66,4ZM65,4 L66,4 L65,4 L64,4ZM63,4 L64,4 L63,4 L61,4ZM60,4 L62,4 L61,4 L59,4ZM58,4 L60,4 L59,4 L57,4ZM56,4 L58,4 L57,4 L55,4ZM54,4 L56,4 L55,4 L53,4ZM53,4 L54,4 L53,3 L52,3ZM51,3 L52,3 L52,3 L50,3ZM143,9 L145,8 L142,8 L140,8ZM138,8 L140,8 L138,8 L135,8ZM133,8 L135,8 L133,8 L131,8ZM128,8 L130,8 L128,8 L126,8ZM124,7 L126,7 L124,7 L122,7ZM120,7 L122,7 L120,7 L118,7ZM116,7 L118,7 L116,7 L114,7ZM112,7 L114,7 L112,7 L110,7ZM108,7 L110,6 L108,6 L106,6ZM104,6 L106,6 L105,6 L103,6ZM101,6 L103,6 L101,6 L99,6ZM98,6 L99,6 L98,6 L96,6ZM94,6 L96,6 L95,6 L93,6ZM91,6 L93,6 L92,5 L90,6ZM88,5 L90,5 L89,5 L87,5ZM85,5 L87,5 L86,5 L84,5ZM83,5 L84,5 L83,5 L81,5ZM80,5 L82,5 L80,5 L79,5ZM77,5 L79,5 L78,5 L76,5ZM75,5 L77,5 L75,5 L73,5ZM72,5 L74,4 L73,4 L71,4ZM70,4 L72,4 L71,4 L69,4ZM68,4 L69,4 L68,4 L66,4ZM65,4 L67,4 L66,4 L64,4ZM63,4 L65,4 L64,4 L62,4ZM61,4 L63,4 L62,4 L60,4ZM59,4 L61,4 L60,4 L58,4ZM57,4 L59,4 L58,4 L56,4ZM55,4 L57,4 L56,3 L54,4ZM53,3 L55,3 L54,3 L52,3ZM52,3 L53,3 L52,3 L51,3ZM142,8 L145,8 L142,8 L140,8ZM138,8 L140,8 L137,8 L135,8ZM133,8 L135,8 L133,8 L130,8ZM128,8 L130,7 L128,7 L126,7ZM124,7 L126,7 L124,7 L122,7ZM120,7 L122,7 L120,7 L118,7ZM116,7 L118,7 L116,7 L114,7ZM112,7 L114,7 L112,6 L110,6ZM108,6 L110,6 L108,6 L106,6ZM105,6 L107,6 L105,6 L103,6ZM101,6 L103,6 L101,6 L99,6ZM98,6 L100,6 L98,6 L96,6ZM95,6 L97,6 L95,6 L93,6ZM92,5 L94,5 L92,5 L90,5ZM89,5 L91,5 L89,5 L87,5ZM86,5 L88,5 L86,5 L84,5ZM83,5 L85,5 L84,5 L82,5ZM80,5 L82,5 L81,5 L79,5ZM78,5 L80,5 L78,5 L77,5ZM75,5 L77,5 L76,4 L74,4ZM73,4 L75,4 L73,4 L72,4ZM71,4 L72,4 L71,4 L69,4ZM68,4 L70,4 L69,4 L67,4ZM66,4 L68,4 L67,4 L65,4ZM64,4 L66,4 L65,4 L63,4ZM62,4 L64,4 L63,4 L61,4ZM60,4 L62,4 L61,4 L59,4ZM58,4 L60,4 L59,4 L57,4ZM56,3 L58,3 L57,3 L55,3ZM54,3 L56,3 L55,3 L53,3ZM142,8 L144,8 L142,8 L140,8ZM137,8 L139,8 L137,8 L135,8ZM133,8 L135,7 L132,7 L130,7ZM128,7 L130,7 L128,7 L126,7ZM124,7 L126,7 L124,7 L122,7ZM120,7 L122,7 L120,7 L118,7ZM116,7 L118,7 L116,6 L114,7ZM112,6 L114,6 L112,6 L110,6ZM108,6 L110,6 L109,6 L107,6ZM105,6 L107,6 L105,6 L103,6ZM101,6 L103,6 L102,6 L100,6ZM98,6 L100,6 L99,6 L97,6ZM95,6 L97,5 L95,5 L94,5ZM92,5 L94,5 L92,5 L91,5ZM89,5 L91,5 L90,5 L88,5ZM86,5 L88,5 L87,5 L85,5ZM84,5 L85,5 L84,5 L82,5ZM81,5 L83,5 L81,5 L80,5ZM78,5 L80,5 L79,4 L77,5ZM76,4 L78,4 L76,4 L75,4ZM73,4 L75,4 L74,4 L72,4ZM71,4 L73,4 L72,4 L70,4ZM69,4 L71,4 L70,4 L68,4ZM67,4 L68,4 L67,4 L66,4ZM65,4 L66,4 L65,4 L64,4ZM63,4 L64,4 L63,4 L62,4ZM61,4 L62,4 L61,4 L60,4ZM59,4 L60,3 L59,3 L58,3ZM57,3 L58,3 L57,3 L56,3ZM55,3 L56,3 L56,3 L54,3ZM142,8 L144,8 L141,8 L139,8ZM137,8 L139,8 L137,7 L135,7ZM132,7 L134,7 L132,7 L130,7ZM128,7 L130,7 L128,7 L126,7ZM124,7 L126,7 L124,7 L122,7ZM120,7 L122,7 L120,6 L118,7ZM116,6 L118,6 L116,6 L114,6ZM112,6 L114,6 L112,6 L110,6ZM109,6 L110,6 L109,6 L107,6ZM105,6 L107,6 L105,6 L103,6ZM102,6 L104,6 L102,6 L100,6ZM99,6 L100,5 L99,5 L97,5ZM95,5 L97,5 L96,5 L94,5ZM92,5 L94,5 L93,5 L91,5ZM90,5 L91,5 L90,5 L88,5ZM87,5 L89,5 L87,5 L85,5ZM84,5 L86,5 L85,5 L83,5ZM81,5 L83,5 L82,4 L80,5ZM79,4 L81,4 L79,4 L78,4ZM76,4 L78,4 L77,4 L75,4ZM74,4 L76,4 L75,4 L73,4ZM72,4 L73,4 L72,4 L71,4ZM70,4 L71,4 L70,4 L68,4ZM67,4 L69,4 L68,4 L66,4ZM65,4 L67,4 L66,4 L64,4ZM63,4 L65,4 L64,4 L62,4ZM61,4 L63,3 L62,3 L60,3ZM59,3 L61,3 L60,3 L58,3ZM57,3 L59,3 L58,3 L56,3ZM146,8 L148,8 L146,8 L144,8ZM141,8 L143,8 L141,7 L139,8ZM137,7 L139,7 L136,7 L134,7ZM132,7 L134,7 L132,7 L130,7ZM128,7 L130,7 L128,7 L126,7ZM124,7 L126,7 L124,7 L122,7ZM120,6 L122,6 L120,6 L118,6ZM116,6 L118,6 L116,6 L114,6ZM112,6 L114,6 L112,6 L110,6ZM109,6 L111,6 L109,6 L107,6ZM105,6 L107,6 L105,6 L104,6ZM102,6 L104,6 L102,5 L100,5ZM99,5 L101,5 L99,5 L97,5ZM96,5 L98,5 L96,5 L94,5ZM93,5 L95,5 L93,5 L91,5ZM90,5 L92,5 L90,5 L89,5ZM87,5 L89,5 L88,5 L86,5ZM85,5 L86,5 L85,5 L83,5ZM82,4 L84,4 L82,4 L81,4ZM79,4 L81,4 L80,4 L78,4ZM77,4 L79,4 L78,4 L76,4ZM75,4 L76,4 L75,4 L73,4ZM72,4 L74,4 L73,4 L71,4ZM70,4 L72,4 L71,4 L69,4ZM68,4 L70,4 L69,4 L67,4ZM66,4 L68,4 L67,4 L65,4ZM64,4 L65,4 L64,3 L63,3ZM62,3 L64,3 L63,3 L61,3ZM60,3 L62,3 L61,3 L59,3ZM58,3 L60,3 L59,3 L57,3ZM146,8 L148,8 L145,7 L143,8ZM141,7 L143,7 L141,7 L139,7ZM136,7 L138,7 L136,7 L134,7ZM132,7 L134,7 L132,7 L130,7ZM128,7 L130,7 L128,7 L126,7ZM124,7 L126,6 L124,6 L122,6ZM120,6 L122,6 L120,6 L118,6ZM116,6 L118,6 L116,6 L114,6ZM112,6 L114,6 L112,6 L111,6ZM109,6 L111,6 L109,6 L107,6ZM105,6 L107,6 L106,5 L104,6ZM102,5 L104,5 L103,5 L101,5ZM99,5 L101,5 L99,5 L98,5ZM96,5 L98,5 L96,5 L95,5ZM93,5 L95,5 L94,5 L92,5ZM90,5 L92,5 L91,5 L89,5ZM88,5 L89,5 L88,5 L86,5ZM85,5 L87,4 L85,4 L84,4ZM82,4 L84,4 L83,4 L81,4ZM80,4 L82,4 L80,4 L79,4ZM78,4 L79,4 L78,4 L76,4ZM75,4 L77,4 L76,4 L74,4ZM73,4 L75,4 L73,4 L72,4ZM71,4 L72,4 L71,4 L70,4ZM69,4 L70,4 L69,4 L68,4ZM67,4 L68,4 L67,3 L65,4ZM64,3 L66,3 L65,3 L64,3ZM63,3 L64,3 L63,3 L62,3ZM61,3 L62,3 L61,3 L60,3ZM145,7 L147,7 L145,7 L143,7ZM141,7 L142,7 L140,7 L138,7ZM136,7 L138,7 L136,7 L134,7ZM132,7 L134,7 L131,7 L130,7ZM128,7 L129,7 L127,6 L126,6ZM124,6 L125,6 L123,6 L122,6ZM120,6 L122,6 L120,6 L118,6ZM116,6 L118,6 L116,6 L114,6ZM112,6 L114,6 L113,6 L111,6ZM109,6 L111,6 L109,5 L107,6ZM106,5 L108,5 L106,5 L104,5ZM103,5 L104,5 L103,5 L101,5ZM99,5 L101,5 L100,5 L98,5ZM96,5 L98,5 L97,5 L95,5ZM94,5 L95,5 L94,5 L92,5ZM91,5 L93,5 L91,5 L89,5ZM88,5 L90,5 L88,4 L87,4ZM85,4 L87,4 L86,4 L84,4ZM83,4 L85,4 L83,4 L82,4ZM80,4 L82,4 L81,4 L79,4ZM78,4 L80,4 L79,4 L77,4ZM76,4 L77,4 L76,4 L75,4ZM73,4 L75,4 L74,4 L72,4ZM71,4 L73,4 L72,4 L70,4ZM69,4 L71,4 L70,3 L68,4ZM67,3 L69,3 L68,3 L66,3ZM65,3 L67,3 L66,3 L64,3ZM63,3 L65,3 L64,3 L62,3ZM61,3 L63,3 L62,3 L60,3ZM145,7 L147,7 L144,7 L142,7ZM140,7 L142,7 L140,7 L138,7ZM136,7 L138,7 L135,7 L134,7ZM131,7 L133,7 L131,6 L129,7ZM127,6 L129,6 L127,6 L125,6ZM123,6 L125,6 L123,6 L122,6ZM120,6 L122,6 L120,6 L118,6ZM116,6 L118,6 L116,6 L114,6ZM113,6 L114,6 L113,6 L111,6ZM109,5 L111,5 L109,5 L108,5ZM106,5 L108,5 L106,5 L104,5ZM103,5 L105,5 L103,5 L101,5ZM100,5 L101,5 L100,5 L98,5ZM97,5 L99,5 L97,5 L95,5ZM94,5 L96,5 L94,5 L93,5ZM91,5 L93,5 L92,4 L90,5ZM88,4 L90,4 L89,4 L87,4ZM86,4 L88,4 L86,4 L85,4ZM83,4 L85,4 L84,4 L82,4ZM81,4 L83,4 L81,4 L80,4ZM79,4 L80,4 L79,4 L77,4ZM76,4 L78,4 L77,4 L75,4ZM74,4 L76,4 L75,4 L73,4ZM72,4 L74,4 L72,4 L71,4ZM70,3 L71,3 L70,3 L69,3ZM68,3 L69,3 L68,3 L67,3ZM66,3 L67,3 L66,3 L65,3ZM64,3 L65,3 L64,3 L63,3ZM144,7 L146,7 L144,7 L142,7ZM140,7 L142,7 L139,7 L138,7ZM135,7 L137,7 L135,6 L133,7ZM131,6 L133,6 L131,6 L129,6ZM127,6 L129,6 L127,6 L125,6ZM123,6 L125,6 L123,6 L122,6ZM120,6 L122,6 L120,6 L118,6ZM116,6 L118,6 L116,6 L114,6ZM113,6 L114,5 L113,5 L111,5ZM109,5 L111,5 L109,5 L108,5ZM106,5 L108,5 L106,5 L105,5ZM103,5 L105,5 L103,5 L101,5ZM100,5 L102,5 L100,5 L99,5ZM97,5 L99,5 L97,5 L96,5ZM94,5 L96,5 L95,4 L93,5ZM92,4 L93,4 L92,4 L90,4ZM89,4 L91,4 L89,4 L88,4ZM86,4 L88,4 L87,4 L85,4ZM84,4 L85,4 L84,4 L83,4ZM81,4 L83,4 L82,4 L80,4ZM79,4 L81,4 L80,4 L78,4ZM77,4 L78,4 L77,4 L76,4ZM75,4 L76,4 L75,4 L74,4ZM72,4 L74,3 L73,3 L71,3ZM70,3 L72,3 L71,3 L69,3ZM68,3 L70,3 L69,3 L67,3ZM66,3 L68,3 L67,3 L65,3ZM64,3 L66,3 L65,3 L63,3ZM144,7 L146,7 L144,7 L142,7ZM139,7 L141,7 L139,7 L137,7ZM135,6 L137,6 L135,6 L133,6ZM131,6 L133,6 L131,6 L129,6ZM127,6 L129,6 L127,6 L125,6ZM123,6 L125,6 L123,6 L122,6ZM120,6 L121,6 L120,6 L118,6ZM116,6 L118,5 L116,5 L114,5ZM113,5 L115,5 L113,5 L111,5ZM109,5 L111,5 L110,5 L108,5ZM106,5 L108,5 L106,5 L105,5ZM103,5 L105,5 L103,5 L102,5ZM100,5 L102,5 L101,5 L99,5ZM97,5 L99,5 L98,5 L96,5ZM95,4 L96,4 L95,4 L93,4ZM92,4 L94,4 L92,4 L91,4ZM89,4 L91,4 L90,4 L88,4ZM87,4 L88,4 L87,4 L85,4ZM84,4 L86,4 L85,4 L83,4ZM82,4 L84,4 L82,4 L81,4ZM80,4 L81,4 L80,4 L78,4ZM77,4 L79,4 L78,4 L76,4ZM75,4 L77,3 L76,3 L74,3ZM73,3 L75,3 L74,3 L72,3ZM71,3 L72,3 L71,3 L70,3ZM69,3 L70,3 L69,3 L68,3ZM67,3 L68,3 L68,3 L66,3ZM144,7 L145,7 L143,7 L141,7ZM139,7 L141,6 L139,6 L137,6ZM135,6 L137,6 L135,6 L133,6ZM131,6 L133,6 L131,6 L129,6ZM127,6 L129,6 L127,6 L125,6ZM123,6 L125,6 L123,6 L121,6ZM120,6 L121,6 L120,5 L118,5ZM116,5 L118,5 L116,5 L115,5ZM113,5 L115,5 L113,5 L111,5ZM110,5 L111,5 L110,5 L108,5ZM106,5 L108,5 L107,5 L105,5ZM103,5 L105,5 L104,5 L102,5ZM101,5 L102,5 L101,5 L99,5ZM98,5 L99,4 L98,4 L96,4ZM95,4 L97,4 L95,4 L94,4ZM92,4 L94,4 L93,4 L91,4ZM90,4 L91,4 L90,4 L88,4ZM87,4 L89,4 L88,4 L86,4ZM85,4 L86,4 L85,4 L84,4ZM82,4 L84,4 L83,4 L81,4ZM80,4 L82,4 L80,4 L79,4ZM78,4 L79,4 L78,3 L77,3ZM76,3 L77,3 L76,3 L75,3ZM74,3 L75,3 L74,3 L72,3ZM71,3 L73,3 L72,3 L70,3ZM69,3 L71,3 L70,3 L68,3ZM68,3 L69,3 L68,3 L67,3ZM143,7 L145,6 L143,6 L141,6ZM139,6 L141,6 L139,6 L137,6ZM135,6 L137,6 L135,6 L133,6ZM131,6 L133,6 L131,6 L129,6ZM127,6 L129,6 L127,6 L125,6ZM123,6 L125,6 L123,5 L121,6ZM120,5 L121,5 L120,5 L118,5ZM116,5 L118,5 L116,5 L115,5ZM113,5 L115,5 L113,5 L111,5ZM110,5 L111,5 L110,5 L108,5ZM107,5 L108,5 L107,5 L105,5ZM104,5 L105,5 L104,5 L102,5ZM101,5 L102,4 L101,4 L99,4ZM98,4 L100,4 L98,4 L97,4ZM95,4 L97,4 L96,4 L94,4ZM93,4 L94,4 L93,4 L91,4ZM90,4 L92,4 L90,4 L89,4ZM88,4 L89,4 L88,4 L86,4ZM85,4 L87,4 L86,4 L84,4ZM83,4 L84,4 L83,4 L82,4ZM80,4 L82,4 L81,3 L79,4ZM78,3 L80,3 L79,3 L77,3ZM76,3 L78,3 L77,3 L75,3ZM74,3 L76,3 L75,3 L73,3ZM72,3 L74,3 L73,3 L71,3ZM70,3 L72,3 L71,3 L69,3ZM143,6 L145,6 L142,6 L141,6ZM139,6 L140,6 L138,6 L137,6ZM135,6 L136,6 L134,6 L133,6ZM131,6 L132,6 L130,6 L129,6ZM127,6 L129,6 L127,5 L125,6ZM123,5 L125,5 L123,5 L121,5ZM120,5 L121,5 L120,5 L118,5ZM116,5 L118,5 L116,5 L115,5ZM113,5 L115,5 L113,5 L111,5ZM110,5 L112,5 L110,5 L108,5ZM107,5 L109,5 L107,5 L105,5ZM104,5 L106,5 L104,4 L102,4ZM101,4 L103,4 L101,4 L100,4ZM98,4 L100,4 L99,4 L97,4ZM96,4 L97,4 L96,4 L94,4ZM93,4 L95,4 L93,4 L92,4ZM90,4 L92,4 L91,4 L89,4ZM88,4 L90,4 L88,4 L87,4ZM86,4 L87,4 L86,4 L84,4ZM83,4 L85,4 L84,3 L82,4ZM81,3 L83,3 L81,3 L80,3ZM79,3 L80,3 L79,3 L78,3ZM77,3 L78,3 L77,3 L76,3ZM75,3 L76,3 L75,3 L74,3ZM73,3 L74,3 L73,3 L72,3ZM71,3 L72,3 L71,3 L70,3ZM142,6 L144,6 L142,6 L140,6ZM138,6 L140,6 L138,6 L136,6ZM134,6 L136,6 L134,6 L132,6ZM130,6 L132,6 L130,6 L129,6ZM127,5 L128,5 L127,5 L125,5ZM123,5 L125,5 L123,5 L121,5ZM120,5 L121,5 L120,5 L118,5ZM116,5 L118,5 L116,5 L115,5ZM113,5 L115,5 L113,5 L112,5ZM110,5 L112,5 L110,5 L109,5ZM107,5 L109,5 L107,4 L106,5ZM104,4 L106,4 L104,4 L103,4ZM101,4 L103,4 L101,4 L100,4ZM99,4 L100,4 L99,4 L97,4ZM96,4 L97,4 L96,4 L95,4ZM93,4 L95,4 L94,4 L92,4ZM91,4 L92,4 L91,4 L90,4ZM88,4 L90,4 L89,4 L87,4ZM86,4 L87,4 L86,4 L85,4ZM84,3 L85,3 L84,3 L83,3ZM81,3 L83,3 L82,3 L80,3ZM79,3 L81,3 L80,3 L78,3ZM77,3 L79,3 L78,3 L76,3ZM75,3 L77,3 L76,3 L74,3ZM73,3 L75,3 L74,3 L72,3ZM142,6 L144,6 L142,6 L140,6ZM138,6 L140,6 L138,6 L136,6ZM134,6 L136,6 L134,6 L132,6ZM130,6 L132,5 L130,5 L128,5ZM127,5 L128,5 L127,5 L125,5ZM123,5 L125,5 L123,5 L121,5ZM120,5 L121,5 L120,5 L118,5ZM116,5 L118,5 L116,5 L115,5ZM113,5 L115,5 L113,5 L112,5ZM110,5 L112,5 L110,4 L109,5ZM107,4 L109,4 L107,4 L106,4ZM104,4 L106,4 L104,4 L103,4ZM101,4 L103,4 L102,4 L100,4ZM99,4 L100,4 L99,4 L97,4ZM96,4 L98,4 L96,4 L95,4ZM94,4 L95,4 L94,4 L92,4ZM91,4 L93,4 L91,4 L90,4ZM89,4 L90,4 L89,4 L87,4ZM86,4 L88,3 L87,3 L85,3ZM84,3 L86,3 L84,3 L83,3ZM82,3 L83,3 L82,3 L81,3ZM80,3 L81,3 L80,3 L79,3ZM78,3 L79,3 L78,3 L77,3ZM76,3 L77,3 L76,3 L75,3ZM74,3 L75,3 L74,3 L73,3ZM146,6 L148,6 L145,6 L144,6ZM142,6 L143,6 L141,6 L140,6ZM138,6 L139,6 L137,6 L136,6ZM134,6 L136,5 L134,5 L132,5ZM130,5 L132,5 L130,5 L128,5ZM127,5 L128,5 L126,5 L125,5ZM123,5 L125,5 L123,5 L121,5ZM120,5 L121,5 L120,5 L118,5ZM116,5 L118,5 L117,5 L115,5ZM113,5 L115,5 L113,5 L112,5ZM110,4 L112,4 L110,4 L109,4ZM107,4 L109,4 L108,4 L106,4ZM104,4 L106,4 L105,4 L103,4ZM102,4 L103,4 L102,4 L100,4ZM99,4 L101,4 L99,4 L98,4ZM96,4 L98,4 L97,4 L95,4ZM94,4 L95,4 L94,4 L93,4ZM91,4 L93,4 L92,4 L90,4ZM89,4 L91,3 L89,3 L88,3ZM87,3 L88,3 L87,3 L86,3ZM84,3 L86,3 L85,3 L83,3ZM82,3 L84,3 L83,3 L81,3ZM80,3 L82,3 L81,3 L79,3ZM78,3 L80,3 L78,3 L77,3ZM76,3 L77,3 L76,3 L75,3ZM145,6 L147,6 L145,6 L143,6ZM141,6 L143,6 L141,6 L139,6ZM137,6 L139,6 L137,5 L136,5ZM134,5 L135,5 L133,5 L132,5ZM130,5 L132,5 L130,5 L128,5ZM126,5 L128,5 L126,5 L125,5ZM123,5 L125,5 L123,5 L121,5ZM120,5 L121,5 L120,5 L118,5ZM117,5 L118,5 L117,5 L115,5ZM113,5 L115,4 L114,4 L112,4ZM110,4 L112,4 L111,4 L109,4ZM108,4 L109,4 L108,4 L106,4ZM105,4 L106,4 L105,4 L103,4ZM102,4 L104,4 L102,4 L101,4ZM99,4 L101,4 L100,4 L98,4ZM97,4 L98,4 L97,4 L95,4ZM94,4 L96,4 L94,4 L93,4ZM92,4 L93,4 L92,3 L91,3ZM89,3 L91,3 L90,3 L88,3ZM87,3 L89,3 L87,3 L86,3ZM85,3 L86,3 L85,3 L84,3ZM83,3 L84,3 L83,3 L82,3ZM81,3 L82,3 L81,3 L80,3ZM78,3 L80,3 L79,3 L77,3ZM76,3 L78,3 L77,3 L75,3ZM145,6 L147,6 L145,6 L143,6ZM141,6 L143,6 L141,5 L139,6ZM137,5 L139,5 L137,5 L135,5ZM133,5 L135,5 L133,5 L132,5ZM130,5 L131,5 L130,5 L128,5ZM126,5 L128,5 L126,5 L125,5ZM123,5 L125,5 L123,5 L121,5ZM120,5 L121,5 L120,5 L118,5ZM117,5 L118,4 L117,4 L115,4ZM114,4 L115,4 L114,4 L112,4ZM111,4 L112,4 L111,4 L109,4ZM108,4 L109,4 L108,4 L106,4ZM105,4 L106,4 L105,4 L104,4ZM102,4 L104,4 L102,4 L101,4ZM100,4 L101,4 L100,4 L98,4ZM97,4 L98,4 L97,4 L96,4ZM94,4 L96,4 L95,3 L93,4ZM92,3 L94,3 L92,3 L91,3ZM90,3 L91,3 L90,3 L89,3ZM87,3 L89,3 L88,3 L86,3ZM85,3 L87,3 L86,3 L84,3ZM83,3 L85,3 L83,3 L82,3ZM81,3 L82,3 L81,3 L80,3ZM79,3 L80,3 L79,3 L78,3ZM145,6 L146,6 L144,5 L143,6ZM141,5 L142,5 L140,5 L139,5ZM137,5 L139,5 L137,5 L135,5ZM133,5 L135,5 L133,5 L131,5ZM130,5 L131,5 L130,5 L128,5ZM126,5 L128,5 L126,5 L125,5ZM123,5 L125,5 L123,5 L121,5ZM120,5 L121,5 L120,4 L118,4ZM117,4 L118,4 L117,4 L115,4ZM114,4 L115,4 L114,4 L112,4ZM111,4 L112,4 L111,4 L109,4ZM108,4 L109,4 L108,4 L106,4ZM105,4 L107,4 L105,4 L104,4ZM102,4 L104,4 L103,4 L101,4ZM100,4 L101,4 L100,4 L98,4ZM97,4 L99,4 L98,3 L96,4ZM95,3 L96,3 L95,3 L94,3ZM92,3 L94,3 L93,3 L91,3ZM90,3 L92,3 L90,3 L89,3ZM88,3 L89,3 L88,3 L87,3ZM86,3 L87,3 L86,3 L85,3ZM83,3 L85,3 L84,3 L82,3ZM81,3 L83,3 L82,3 L80,3ZM79,3 L81,3 L80,3 L78,3ZM144,5 L146,5 L144,5 L142,5ZM140,5 L142,5 L140,5 L139,5ZM137,5 L138,5 L136,5 L135,5ZM133,5 L135,5 L133,5 L131,5ZM130,5 L131,5 L129,5 L128,5ZM126,5 L128,5 L126,5 L125,5ZM123,5 L124,5 L123,4 L121,5ZM120,4 L121,4 L120,4 L118,4ZM117,4 L118,4 L117,4 L115,4ZM114,4 L115,4 L114,4 L112,4ZM111,4 L112,4 L111,4 L109,4ZM108,4 L109,4 L108,4 L107,4ZM105,4 L107,4 L105,4 L104,4ZM103,4 L104,4 L103,4 L101,4ZM100,4 L102,4 L100,4 L99,4ZM98,3 L99,3 L98,3 L96,3ZM95,3 L97,3 L95,3 L94,3ZM93,3 L94,3 L93,3 L92,3ZM90,3 L92,3 L91,3 L89,3ZM88,3 L90,3 L89,3 L87,3ZM86,3 L87,3 L86,3 L85,3ZM84,3 L85,3 L84,3 L83,3ZM82,3 L83,3 L82,3 L81,3ZM144,5 L146,5 L144,5 L142,5ZM140,5 L142,5 L140,5 L138,5ZM136,5 L138,5 L136,5 L135,5ZM133,5 L134,5 L133,5 L131,5ZM129,5 L131,5 L129,5 L128,5ZM126,5 L128,5 L126,4 L124,5ZM123,4 L124,4 L123,4 L121,4ZM120,4 L121,4 L120,4 L118,4ZM117,4 L118,4 L117,4 L115,4ZM114,4 L115,4 L114,4 L112,4ZM111,4 L112,4 L111,4 L109,4ZM108,4 L110,4 L108,4 L107,4ZM105,4 L107,4 L106,4 L104,4ZM103,4 L104,4 L103,4 L102,4ZM100,4 L102,3 L100,3 L99,3ZM98,3 L99,3 L98,3 L97,3ZM95,3 L97,3 L96,3 L94,3ZM93,3 L94,3 L93,3 L92,3ZM91,3 L92,3 L91,3 L90,3ZM89,3 L90,3 L89,3 L87,3ZM86,3 L88,3 L87,3 L85,3ZM84,3 L86,3 L85,3 L83,3ZM82,3 L84,3 L83,3 L81,3ZM144,5 L145,5 L143,5 L142,5ZM140,5 L141,5 L140,5 L138,5ZM136,5 L138,5 L136,5 L134,5ZM133,5 L134,5 L133,5 L131,5ZM129,5 L131,5 L129,5 L128,5ZM126,4 L128,4 L126,4 L124,4ZM123,4 L124,4 L123,4 L121,4ZM120,4 L121,4 L120,4 L118,4ZM117,4 L118,4 L117,4 L115,4ZM114,4 L115,4 L114,4 L112,4ZM111,4 L112,4 L111,4 L110,4ZM108,4 L110,4 L108,4 L107,4ZM106,4 L107,4 L106,4 L104,4ZM103,4 L104,4 L103,3 L102,3ZM100,3 L102,3 L101,3 L99,3ZM98,3 L99,3 L98,3 L97,3ZM96,3 L97,3 L96,3 L94,3ZM93,3 L95,3 L94,3 L92,3ZM91,3 L92,3 L91,3 L90,3ZM89,3 L90,3 L89,3 L88,3ZM87,3 L88,3 L87,3 L86,3ZM85,3 L86,3 L85,3 L84,3ZM143,5 L145,5 L143,5 L141,5ZM140,5 L141,5 L139,5 L138,5ZM136,5 L138,5 L136,5 L134,5ZM133,5 L134,5 L132,5 L131,5ZM129,5 L131,4 L129,4 L128,4ZM126,4 L127,4 L126,4 L124,4ZM123,4 L124,4 L123,4 L121,4ZM120,4 L121,4 L120,4 L118,4ZM117,4 L118,4 L117,4 L115,4ZM114,4 L115,4 L114,4 L112,4ZM111,4 L113,4 L111,4 L110,4ZM108,4 L110,4 L109,4 L107,4ZM106,4 L107,4 L106,3 L104,4ZM103,3 L105,3 L103,3 L102,3ZM101,3 L102,3 L101,3 L99,3ZM98,3 L100,3 L98,3 L97,3ZM96,3 L97,3 L96,3 L95,3ZM94,3 L95,3 L94,3 L92,3ZM91,3 L93,3 L92,3 L90,3ZM89,3 L91,3 L89,3 L88,3ZM87,3 L88,3 L87,3 L86,3ZM85,3 L86,3 L85,3 L84,3ZM143,5 L145,5 L143,5 L141,5ZM139,5 L141,5 L139,5 L138,5ZM136,5 L137,5 L136,5 L134,5ZM132,5 L134,4 L132,4 L131,4ZM129,4 L131,4 L129,4 L127,4ZM126,4 L127,4 L126,4 L124,4ZM123,4 L124,4 L123,4 L121,4ZM120,4 L121,4 L120,4 L118,4ZM117,4 L118,4 L117,4 L115,4ZM114,4 L115,4 L114,4 L113,4ZM111,4 L113,4 L111,4 L110,4ZM109,4 L110,4 L109,3 L107,4ZM106,3 L107,3 L106,3 L105,3ZM103,3 L105,3 L104,3 L102,3ZM101,3 L102,3 L101,3 L100,3ZM98,3 L100,3 L99,3 L97,3ZM96,3 L98,3 L96,3 L95,3ZM94,3 L95,3 L94,3 L93,3ZM92,3 L93,3 L92,3 L91,3ZM89,3 L91,3 L90,3 L88,3ZM87,3 L89,3 L88,3 L86,3ZM143,5 L144,5 L142,5 L141,5ZM139,5 L141,5 L139,5 L137,5ZM136,5 L137,5 L135,4 L134,4ZM132,4 L134,4 L132,4 L131,4ZM129,4 L130,4 L129,4 L127,4ZM126,4 L127,4 L126,4 L124,4ZM123,4 L124,4 L123,4 L121,4ZM120,4 L121,4 L120,4 L118,4ZM117,4 L118,4 L117,4 L115,4ZM114,4 L115,4 L114,4 L113,4ZM111,4 L113,4 L111,4 L110,4ZM109,3 L110,3 L109,3 L107,3ZM106,3 L107,3 L106,3 L105,3ZM104,3 L105,3 L104,3 L102,3ZM101,3 L103,3 L101,3 L100,3ZM99,3 L100,3 L99,3 L98,3ZM96,3 L98,3 L97,3 L95,3ZM94,3 L96,3 L94,3 L93,3ZM92,3 L93,3 L92,3 L91,3ZM90,3 L91,3 L90,3 L89,3ZM88,3 L89,3 L88,3 L87,3ZM142,5 L144,5 L142,5 L141,5ZM139,5 L140,5 L139,4 L137,5ZM135,4 L137,4 L135,4 L134,4ZM132,4 L134,4 L132,4 L130,4ZM129,4 L130,4 L129,4 L127,4ZM126,4 L127,4 L126,4 L124,4ZM123,4 L124,4 L123,4 L121,4ZM120,4 L121,4 L120,4 L118,4ZM117,4 L118,4 L117,4 L115,4ZM114,4 L116,4 L114,4 L113,4ZM111,4 L113,3 L111,3 L110,3ZM109,3 L110,3 L109,3 L107,3ZM106,3 L108,3 L106,3 L105,3ZM104,3 L105,3 L104,3 L103,3ZM101,3 L103,3 L102,3 L100,3ZM99,3 L100,3 L99,3 L98,3ZM97,3 L98,3 L97,3 L96,3ZM94,3 L96,3 L95,3 L93,3ZM92,3 L94,3 L93,3 L91,3ZM90,3 L91,3 L90,3 L89,3ZM146,5 L147,5 L145,5 L144,5ZM142,5 L144,5 L142,5 L140,5ZM139,4 L140,4 L138,4 L137,4ZM135,4 L137,4 L135,4 L134,4ZM132,4 L133,4 L132,4 L130,4ZM129,4 L130,4 L129,4 L127,4ZM126,4 L127,4 L126,4 L124,4ZM123,4 L124,4 L123,4 L121,4ZM120,4 L121,4 L120,4 L118,4ZM117,4 L118,4 L117,4 L116,4ZM114,4 L116,3 L114,3 L113,3ZM111,3 L113,3 L112,3 L110,3ZM109,3 L110,3 L109,3 L108,3ZM106,3 L108,3 L107,3 L105,3ZM104,3 L105,3 L104,3 L103,3ZM102,3 L103,3 L102,3 L100,3ZM99,3 L101,3 L99,3 L98,3ZM97,3 L98,3 L97,3 L96,3ZM95,3 L96,3 L95,3 L94,3ZM93,3 L94,3 L93,3 L91,3ZM90,3 L92,3 L91,3 L89,3ZM145,5 L147,5 L145,5 L144,5ZM142,5 L143,4 L142,4 L140,4ZM138,4 L140,4 L138,4 L137,4ZM135,4 L136,4 L135,4 L133,4ZM132,4 L133,4 L132,4 L130,4ZM129,4 L130,4 L129,4 L127,4ZM126,4 L127,4 L126,4 L124,4ZM123,4 L124,4 L123,4 L121,4ZM120,4 L121,4 L120,4 L118,4ZM117,4 L118,4 L117,3 L116,3ZM114,3 L116,3 L114,3 L113,3ZM112,3 L113,3 L112,3 L110,3ZM109,3 L110,3 L109,3 L108,3ZM107,3 L108,3 L107,3 L105,3ZM104,3 L105,3 L104,3 L103,3ZM102,3 L103,3 L102,3 L101,3ZM99,3 L101,3 L100,3 L98,3ZM97,3 L98,3 L97,3 L96,3ZM95,3 L96,3 L95,3 L94,3ZM93,3 L94,3 L93,3 L92,3ZM145,5 L146,4 L145,4 L143,4ZM142,4 L143,4 L141,4 L140,4ZM138,4 L140,4 L138,4 L136,4ZM135,4 L136,4 L135,4 L133,4ZM132,4 L133,4 L131,4 L130,4ZM129,4 L130,4 L128,4 L127,4ZM126,4 L127,4 L125,4 L124,4ZM123,4 L124,4 L123,4 L121,4ZM120,4 L121,4 L120,3 L118,4ZM117,3 L118,3 L117,3 L116,3ZM114,3 L116,3 L114,3 L113,3ZM112,3 L113,3 L112,3 L110,3ZM109,3 L111,3 L109,3 L108,3ZM107,3 L108,3 L107,3 L105,3ZM104,3 L106,3 L104,3 L103,3ZM102,3 L103,3 L102,3 L101,3ZM100,3 L101,3 L100,3 L98,3ZM97,3 L99,3 L98,3 L96,3ZM95,3 L97,3 L95,3 L94,3ZM93,3 L94,3 L93,2 L92,3ZM145,4 L146,4 L144,4 L143,4ZM141,4 L143,4 L141,4 L140,4ZM138,4 L139,4 L138,4 L136,4ZM135,4 L136,4 L134,4 L133,4ZM131,4 L133,4 L131,4 L130,4ZM128,4 L130,4 L128,4 L127,4ZM125,4 L127,4 L125,4 L124,4ZM123,4 L124,4 L123,3 L121,4ZM120,3 L121,3 L120,3 L118,3ZM117,3 L118,3 L117,3 L116,3ZM114,3 L116,3 L114,3 L113,3ZM112,3 L113,3 L112,3 L111,3ZM109,3 L111,3 L109,3 L108,3ZM107,3 L108,3 L107,3 L106,3ZM104,3 L106,3 L105,3 L103,3ZM102,3 L103,3 L102,3 L101,3ZM100,3 L101,3 L100,3 L99,3ZM98,3 L99,3 L98,3 L97,3ZM95,3 L97,3 L96,2 L94,3ZM144,4 L146,4 L144,4 L143,4ZM141,4 L142,4 L141,4 L139,4ZM138,4 L139,4 L137,4 L136,4ZM134,4 L136,4 L134,4 L133,4ZM131,4 L133,4 L131,4 L130,4ZM128,4 L130,4 L128,4 L127,4ZM125,4 L127,4 L125,4 L124,4ZM123,3 L124,3 L122,3 L121,3ZM120,3 L121,3 L120,3 L118,3ZM117,3 L118,3 L117,3 L116,3ZM114,3 L116,3 L114,3 L113,3ZM112,3 L113,3 L112,3 L111,3ZM109,3 L111,3 L109,3 L108,3ZM107,3 L108,3 L107,3 L106,3ZM105,3 L106,3 L105,3 L103,3ZM102,3 L104,3 L102,3 L101,3ZM100,3 L101,3 L100,3 L99,3ZM98,3 L99,3 L98,3 L97,3ZM96,2 L97,2 L96,2 L95,2ZM144,4 L145,4 L144,4 L142,4ZM141,4 L142,4 L140,4 L139,4ZM137,4 L139,4 L137,4 L136,4ZM134,4 L136,4 L134,4 L133,4ZM131,4 L133,4 L131,4 L130,4ZM128,4 L130,4 L128,4 L127,4ZM125,4 L127,3 L125,3 L124,3ZM122,3 L124,3 L122,3 L121,3ZM120,3 L121,3 L120,3 L118,3ZM117,3 L118,3 L117,3 L116,3ZM114,3 L116,3 L115,3 L113,3ZM112,3 L113,3 L112,3 L111,3ZM109,3 L111,3 L110,3 L108,3ZM107,3 L108,3 L107,3 L106,3ZM105,3 L106,3 L105,3 L104,3ZM102,3 L104,3 L103,3 L101,3ZM100,3 L102,3 L100,3 L99,3ZM98,3 L99,2 L98,2 L97,2Z" fill="#000"/><defs><linearGradient id="hz142-4033" x1="0" y1="0" x2="0" y2="1"><stop offset="0" stop-color="#8a8a8a"/><stop offset="1" stop-color="#8a8a8a" stop-opacity="0"/></linearGradient></defs><rect x="0" y="0" width="142" height="5.6" fill="#7c7c7c"/><line x1="68" y1="36" x2="69" y2="103" stroke="#8A4A12" stroke-width="3.8" stroke-linecap="round"/><line x1="62" y1="104" x2="81" y2="111" stroke="#E07818" stroke-width="4" stroke-linecap="round"/><line x1="69" y1="113" x2="69" y2="140" stroke="#F0C090" stroke-width="1.5" opacity="0.6"/></g></svg><svg style="left:3731.4px;top:557.1px" width="142" height="142" viewBox="0 0 142 142"><defs><clipPath id="cp3731"><rect width="142" height="142"/></clipPath></defs><g clip-path="url(#cp3731)"><rect width="142" height="142" fill="#d0d0d0"/><path d="M-48,145 L12,126 L-11,98 L-67,114ZM40,160 L97,140 L66,109 L12,126ZM-11,98 L39,84 L17,63 L-31,75ZM135,176 L189,154 L148,122 L97,140ZM66,109 L114,94 L85,71 L39,84ZM17,63 L60,52 L39,35 L-2,44ZM-19,28 L20,20 L4,7 L-34,14ZM148,122 L194,105 L158,81 L114,94ZM85,71 L127,60 L100,42 L60,52ZM39,35 L77,26 L57,12 L20,20ZM4,7 L38,0 L22,-11 L-11,-5ZM158,81 L198,68 L165,49 L127,60ZM100,42 L137,33 L112,18 L77,26ZM57,12 L91,5 L71,-6 L38,0ZM165,49 L201,39 L171,24 L137,33ZM112,18 L145,10 L122,-2 L91,5ZM122,-2 L152,-8 L131,-18 L102,-12Z" fill="#000"/><polyline points="27,41 96,62 122,50" fill="none" stroke="#F2B266" stroke-width="6" stroke-linecap="round" stroke-linejoin="round"/><polyline points="28,42 42,58 36,67" fill="none" stroke="#E9A55A" stroke-width="5" stroke-linecap="round"/><polyline points="36,66 27,76 35,87" fill="none" stroke="#E88EA0" stroke-width="5" stroke-linecap="round"/><polyline points="96,62 90,76 104,88 111,95" fill="none" stroke="#E7A060" stroke-width="5" stroke-linecap="round"/><line x1="98" y1="82" x2="111" y2="95" stroke="#EC8EA4" stroke-width="5" stroke-linecap="round"/><polyline points="40,95 50,110 95,118 110,105" fill="none" stroke="#F5E0C0" stroke-width="2.5" opacity="0.35"/></g></svg><svg style="left:3931.2px;top:557.1px" width="142" height="142" viewBox="0 0 142 142"><defs><clipPath id="cp3931"><rect width="142" height="142"/></clipPath></defs><g clip-path="url(#cp3931)"><rect width="142" height="142" fill="#d0d0d0"/><path d="M-223,271 L3,184 L-28,114 L-168,147ZM-28,114 L66,91 L32,65 L-44,78ZM-53,57 L10,49 L-5,37 L-59,43ZM128,137 L206,107 L135,74 L66,91ZM32,65 L91,55 L61,41 L10,49ZM-5,37 L40,32 L24,25 L-17,29ZM-25,22 L11,19 L1,14 L-32,17ZM135,74 L186,62 L138,46 L91,55ZM61,41 L104,36 L79,27 L40,32ZM24,25 L59,21 L44,16 L11,19ZM1,14 L31,12 L21,9 L-7,11ZM-14,8 L12,6 L5,4 L-20,5ZM-25,3 L-2,2 L-8,-0 L-29,1ZM138,46 L176,40 L140,31 L104,36ZM79,27 L112,24 L90,18 L59,21ZM44,16 L72,14 L58,10 L31,12ZM21,9 L46,7 L36,5 L12,6ZM5,4 L27,2 L19,0 L-2,2ZM-8,-0 L12,-1 L6,-3 L-13,-2ZM140,31 L170,26 L141,20 L112,24ZM90,18 L117,16 L98,12 L72,14ZM58,10 L82,8 L69,6 L46,7ZM36,5 L57,3 L47,1 L27,2ZM19,0 L39,-1 L31,-2 L12,-1ZM141,20 L166,17 L141,13 L117,16ZM98,12 L121,10 L104,7 L82,8ZM69,6 L90,4 L77,2 L57,3ZM47,1 L66,0 L57,-1 L39,-1ZM141,13 L163,11 L142,8 L121,10ZM104,7 L124,5 L109,3 L90,4ZM77,2 L96,1 L84,-1 L66,0ZM57,-1 L74,-2 L65,-4 L48,-3ZM142,8 L161,6 L143,4 L124,5ZM109,3 L127,2 L113,-0 L96,1ZM84,-1 L100,-2 L90,-3 L74,-2ZM143,4 L159,3 L143,1 L127,2ZM113,-0 L128,-1 L116,-3 L100,-2ZM143,1 L158,-0 L143,-2 L128,-1ZM143,-2 L157,-3 L143,-4 L130,-3Z" fill="#000"/><line x1="73" y1="41" x2="88" y2="92" stroke="#E8B070" stroke-width="3.5" stroke-linecap="round"/><polyline points="78,62 72,79 58,83 59,96" fill="none" stroke="#9E1E8E" stroke-width="3.5" stroke-linecap="round"/><line x1="54" y1="89" x2="59" y2="96" stroke="#E020B0" stroke-width="4"/><ellipse cx="84" cy="106" rx="5" ry="3" fill="#D9A060"/><polyline points="60,100 70,115 75,135" fill="none" stroke="#F0B0E0" stroke-width="2" opacity="0.6"/></g></svg>
<div class="t" style="left:3572.3px;top:715.0px;font-size:18.3px;font-family:'Liberation Sans',sans-serif;color:#111;-webkit-text-stroke:0.3px #111">Hopper</div>
<div class="t" style="left:3747.5px;top:715.0px;font-size:18.3px;font-family:'Liberation Sans',sans-serif;color:#111;-webkit-text-stroke:0.3px #111">Half Cheetah</div>
<div class="t" style="left:3973.9px;top:715.0px;font-size:18.3px;font-family:'Liberation Sans',sans-serif;color:#111;-webkit-text-stroke:0.3px #111">Walker</div>
<svg style="left:0;top:0" width="4324" height="2880"><line x1="3208.8" y1="1598.3" x2="3520.5" y2="1598.3" stroke="#d0d0d0" stroke-width="1.2"/><line x1="3208.8" y1="1655.5" x2="3520.5" y2="1655.5" stroke="#d0d0d0" stroke-width="1.2"/><line x1="3208.8" y1="1712.7" x2="3520.5" y2="1712.7" stroke="#d0d0d0" stroke-width="1.2"/><line x1="3208.8" y1="1769.9" x2="3520.5" y2="1769.9" stroke="#d0d0d0" stroke-width="1.2"/><line x1="3208.8" y1="1827.1" x2="3520.5" y2="1827.1" stroke="#d0d0d0" stroke-width="1.2"/><rect x="3223.7" y="1647.5" width="11.8" height="65.2" fill="#FF0000"/><line x1="3229.6" y1="1687.5" x2="3229.6" y2="1621.2" stroke="#222" stroke-width="1.1"/><line x1="3227.1" y1="1687.5" x2="3232.1" y2="1687.5" stroke="#222" stroke-width="1.1"/><line x1="3227.1" y1="1621.2" x2="3232.1" y2="1621.2" stroke="#222" stroke-width="1.1"/><rect x="3235.5" y="1709.3" width="11.8" height="3.4" fill="#FFB6C1"/><line x1="3241.4" y1="1712.7" x2="3241.4" y2="1704.7" stroke="#222" stroke-width="1.1"/><line x1="3238.9" y1="1712.7" x2="3243.9" y2="1712.7" stroke="#222" stroke-width="1.1"/><line x1="3238.9" y1="1704.7" x2="3243.9" y2="1704.7" stroke="#222" stroke-width="1.1"/><rect x="3247.3" y="1655.5" width="11.8" height="57.2" fill="#87CEEB"/><line x1="3253.2" y1="1656.6" x2="3253.2" y2="1655.5" stroke="#222" stroke-width="1.1"/><line x1="3250.7" y1="1656.6" x2="3255.7" y2="1656.6" stroke="#222" stroke-width="1.1"/><line x1="3250.7" y1="1655.5" x2="3255.7" y2="1655.5" stroke="#222" stroke-width="1.1"/><rect x="3259.1" y="1712.7" width="11.8" height="6.9" fill="#90EE90"/><line x1="3265.0" y1="1735.6" x2="3265.0" y2="1704.7" stroke="#222" stroke-width="1.1"/><line x1="3262.5" y1="1735.6" x2="3267.5" y2="1735.6" stroke="#222" stroke-width="1.1"/><line x1="3262.5" y1="1704.7" x2="3267.5" y2="1704.7" stroke="#222" stroke-width="1.1"/><rect x="3270.9" y="1693.3" width="11.8" height="19.4" fill="#FFA500"/><line x1="3276.8" y1="1728.7" x2="3276.8" y2="1645.2" stroke="#222" stroke-width="1.1"/><line x1="3274.3" y1="1728.7" x2="3279.3" y2="1728.7" stroke="#222" stroke-width="1.1"/><line x1="3274.3" y1="1645.2" x2="3279.3" y2="1645.2" stroke="#222" stroke-width="1.1"/><rect x="3297.5" y="1661.2" width="11.8" height="51.5" fill="#FF0000"/><line x1="3303.4" y1="1672.7" x2="3303.4" y2="1649.8" stroke="#222" stroke-width="1.1"/><line x1="3300.9" y1="1672.7" x2="3305.9" y2="1672.7" stroke="#222" stroke-width="1.1"/><line x1="3300.9" y1="1649.8" x2="3305.9" y2="1649.8" stroke="#222" stroke-width="1.1"/><rect x="3309.3" y="1684.1" width="11.8" height="28.6" fill="#FFB6C1"/><line x1="3315.2" y1="1712.7" x2="3315.2" y2="1657.8" stroke="#222" stroke-width="1.1"/><line x1="3312.7" y1="1712.7" x2="3317.7" y2="1712.7" stroke="#222" stroke-width="1.1"/><line x1="3312.7" y1="1657.8" x2="3317.7" y2="1657.8" stroke="#222" stroke-width="1.1"/><rect x="3321.1" y="1681.8" width="11.8" height="30.9" fill="#87CEEB"/><line x1="3327.0" y1="1689.8" x2="3327.0" y2="1674.9" stroke="#222" stroke-width="1.1"/><line x1="3324.5" y1="1689.8" x2="3329.5" y2="1689.8" stroke="#222" stroke-width="1.1"/><line x1="3324.5" y1="1674.9" x2="3329.5" y2="1674.9" stroke="#222" stroke-width="1.1"/><rect x="3332.9" y="1702.4" width="11.8" height="10.3" fill="#90EE90"/><line x1="3338.8" y1="1713.8" x2="3338.8" y2="1676.1" stroke="#222" stroke-width="1.1"/><line x1="3336.3" y1="1713.8" x2="3341.3" y2="1713.8" stroke="#222" stroke-width="1.1"/><line x1="3336.3" y1="1676.1" x2="3341.3" y2="1676.1" stroke="#222" stroke-width="1.1"/><rect x="3344.7" y="1712.7" width="11.8" height="20.6" fill="#FFA500"/><line x1="3350.6" y1="1768.8" x2="3350.6" y2="1713.8" stroke="#222" stroke-width="1.1"/><line x1="3348.1" y1="1768.8" x2="3353.1" y2="1768.8" stroke="#222" stroke-width="1.1"/><line x1="3348.1" y1="1713.8" x2="3353.1" y2="1713.8" stroke="#222" stroke-width="1.1"/><rect x="3372.2" y="1609.7" width="11.8" height="103.0" fill="#FF0000"/><line x1="3378.1" y1="1615.5" x2="3378.1" y2="1604.0" stroke="#222" stroke-width="1.1"/><line x1="3375.6" y1="1615.5" x2="3380.6" y2="1615.5" stroke="#222" stroke-width="1.1"/><line x1="3375.6" y1="1604.0" x2="3380.6" y2="1604.0" stroke="#222" stroke-width="1.1"/><rect x="3384.0" y="1712.7" width="11.8" height="70.9" fill="#FFB6C1"/><line x1="3389.9" y1="1793.9" x2="3389.9" y2="1771.0" stroke="#222" stroke-width="1.1"/><line x1="3387.4" y1="1793.9" x2="3392.4" y2="1793.9" stroke="#222" stroke-width="1.1"/><line x1="3387.4" y1="1771.0" x2="3392.4" y2="1771.0" stroke="#222" stroke-width="1.1"/><rect x="3395.8" y="1712.7" width="11.8" height="37.8" fill="#87CEEB"/><line x1="3401.7" y1="1768.8" x2="3401.7" y2="1741.3" stroke="#222" stroke-width="1.1"/><line x1="3399.2" y1="1768.8" x2="3404.2" y2="1768.8" stroke="#222" stroke-width="1.1"/><line x1="3399.2" y1="1741.3" x2="3404.2" y2="1741.3" stroke="#222" stroke-width="1.1"/><rect x="3407.6" y="1646.3" width="11.8" height="66.4" fill="#90EE90"/><line x1="3413.5" y1="1646.9" x2="3413.5" y2="1646.3" stroke="#222" stroke-width="1.1"/><line x1="3411.0" y1="1646.9" x2="3416.0" y2="1646.9" stroke="#222" stroke-width="1.1"/><line x1="3411.0" y1="1646.3" x2="3416.0" y2="1646.3" stroke="#222" stroke-width="1.1"/><rect x="3419.4" y="1712.7" width="11.8" height="14.9" fill="#FFA500"/><line x1="3425.3" y1="1750.5" x2="3425.3" y2="1702.4" stroke="#222" stroke-width="1.1"/><line x1="3422.8" y1="1750.5" x2="3427.8" y2="1750.5" stroke="#222" stroke-width="1.1"/><line x1="3422.8" y1="1702.4" x2="3427.8" y2="1702.4" stroke="#222" stroke-width="1.1"/><rect x="3446.5" y="1640.6" width="11.8" height="72.1" fill="#FF0000"/><line x1="3452.4" y1="1655.5" x2="3452.4" y2="1628.0" stroke="#222" stroke-width="1.1"/><line x1="3449.9" y1="1655.5" x2="3454.9" y2="1655.5" stroke="#222" stroke-width="1.1"/><line x1="3449.9" y1="1628.0" x2="3454.9" y2="1628.0" stroke="#222" stroke-width="1.1"/><rect x="3458.3" y="1665.8" width="11.8" height="46.9" fill="#FFB6C1"/><line x1="3464.2" y1="1687.5" x2="3464.2" y2="1649.8" stroke="#222" stroke-width="1.1"/><line x1="3461.7" y1="1687.5" x2="3466.7" y2="1687.5" stroke="#222" stroke-width="1.1"/><line x1="3461.7" y1="1649.8" x2="3466.7" y2="1649.8" stroke="#222" stroke-width="1.1"/><rect x="3470.1" y="1657.8" width="11.8" height="54.9" fill="#87CEEB"/><line x1="3476.0" y1="1709.3" x2="3476.0" y2="1623.5" stroke="#222" stroke-width="1.1"/><line x1="3473.5" y1="1709.3" x2="3478.5" y2="1709.3" stroke="#222" stroke-width="1.1"/><line x1="3473.5" y1="1623.5" x2="3478.5" y2="1623.5" stroke="#222" stroke-width="1.1"/><rect x="3481.9" y="1712.7" width="11.8" height="25.2" fill="#90EE90"/><line x1="3487.8" y1="1738.4" x2="3487.8" y2="1737.9" stroke="#222" stroke-width="1.1"/><line x1="3485.3" y1="1738.4" x2="3490.3" y2="1738.4" stroke="#222" stroke-width="1.1"/><line x1="3485.3" y1="1737.9" x2="3490.3" y2="1737.9" stroke="#222" stroke-width="1.1"/><rect x="3493.7" y="1711.6" width="11.8" height="1.1" fill="#FFA500"/><line x1="3499.6" y1="1745.9" x2="3499.6" y2="1680.7" stroke="#222" stroke-width="1.1"/><line x1="3497.1" y1="1745.9" x2="3502.1" y2="1745.9" stroke="#222" stroke-width="1.1"/><line x1="3497.1" y1="1680.7" x2="3502.1" y2="1680.7" stroke="#222" stroke-width="1.1"/><rect x="3208.8" y="1593" width="311.6999999999998" height="233.5" fill="none" stroke="#333" stroke-width="1.2"/><line x1="3204.8" y1="1598.3" x2="3208.8" y2="1598.3" stroke="#333" stroke-width="1.1"/><line x1="3204.8" y1="1655.5" x2="3208.8" y2="1655.5" stroke="#333" stroke-width="1.1"/><line x1="3204.8" y1="1712.7" x2="3208.8" y2="1712.7" stroke="#333" stroke-width="1.1"/><line x1="3204.8" y1="1769.9" x2="3208.8" y2="1769.9" stroke="#333" stroke-width="1.1"/><line x1="3204.8" y1="1827.1" x2="3208.8" y2="1827.1" stroke="#333" stroke-width="1.1"/><line x1="3253.2" y1="1826.5" x2="3253.2" y2="1830.5" stroke="#333" stroke-width="1.1"/><line x1="3327.0" y1="1826.5" x2="3327.0" y2="1830.5" stroke="#333" stroke-width="1.1"/><line x1="3401.7" y1="1826.5" x2="3401.7" y2="1830.5" stroke="#333" stroke-width="1.1"/><line x1="3476.0" y1="1826.5" x2="3476.0" y2="1830.5" stroke="#333" stroke-width="1.1"/></svg>
<div class="t" style="left:3178.2px;top:1598.4px;font-size:17px;font-family:'Liberation Sans';color:#222">1.0</div>
<div class="t" style="left:3178.2px;top:1655.6px;font-size:17px;font-family:'Liberation Sans';color:#222">0.5</div>
<div class="t" style="left:3178.2px;top:1712.8px;font-size:17px;font-family:'Liberation Sans';color:#222">0.0</div>
<div class="t" style="left:3168.2px;top:1770.0px;font-size:17px;font-family:'Liberation Sans';color:#222">−0.5</div>
<div class="t" style="left:3168.2px;top:1827.2px;font-size:17px;font-family:'Liberation Sans';color:#222">−1.0</div>
<div class="t" style="left:3229.6px;top:1837.7px;font-size:17px;font-family:'Liberation Sans';color:#222">expert</div>
<div class="t" style="left:3296.8px;top:1837.7px;font-size:17px;font-family:'Liberation Sans';color:#222">medium</div>
<div class="t" style="left:3368.6px;top:1837.7px;font-size:17px;font-family:'Liberation Sans';color:#222">m-replay</div>
<div class="t" style="left:3447.7px;top:1837.7px;font-size:17px;font-family:'Liberation Sans';color:#222">f-replay</div>
<svg style="left:0;top:0" width="4324" height="2880"><line x1="3687.5" y1="1593.0" x2="4007.5" y2="1593.0" stroke="#d0d0d0" stroke-width="1.2"/><line x1="3687.5" y1="1640.4" x2="4007.5" y2="1640.4" stroke="#d0d0d0" stroke-width="1.2"/><line x1="3687.5" y1="1687.8" x2="4007.5" y2="1687.8" stroke="#d0d0d0" stroke-width="1.2"/><line x1="3687.5" y1="1735.1" x2="4007.5" y2="1735.1" stroke="#d0d0d0" stroke-width="1.2"/><line x1="3687.5" y1="1782.5" x2="4007.5" y2="1782.5" stroke="#d0d0d0" stroke-width="1.2"/><line x1="3687.5" y1="1829.9" x2="4007.5" y2="1829.9" stroke="#d0d0d0" stroke-width="1.2"/><rect x="3726.9" y="1826.3" width="12.2" height="3.6" fill="#87CEEB"/><line x1="3733.0" y1="1829.9" x2="3733.0" y2="1820.4" stroke="#222" stroke-width="1.1"/><line x1="3730.5" y1="1829.9" x2="3735.5" y2="1829.9" stroke="#222" stroke-width="1.1"/><line x1="3730.5" y1="1820.4" x2="3735.5" y2="1820.4" stroke="#222" stroke-width="1.1"/><rect x="3739.1" y="1724.5" width="12.2" height="105.4" fill="#90EE90"/><line x1="3745.2" y1="1725.0" x2="3745.2" y2="1724.0" stroke="#222" stroke-width="1.1"/><line x1="3742.7" y1="1725.0" x2="3747.7" y2="1725.0" stroke="#222" stroke-width="1.1"/><line x1="3742.7" y1="1724.0" x2="3747.7" y2="1724.0" stroke="#222" stroke-width="1.1"/><rect x="3751.3" y="1795.5" width="12.2" height="34.4" fill="#FFA500"/><line x1="3757.4" y1="1829.9" x2="3757.4" y2="1724.5" stroke="#222" stroke-width="1.1"/><line x1="3754.9" y1="1829.9" x2="3759.9" y2="1829.9" stroke="#222" stroke-width="1.1"/><line x1="3754.9" y1="1724.5" x2="3759.9" y2="1724.5" stroke="#222" stroke-width="1.1"/><rect x="3779.2" y="1813.3" width="12.2" height="16.6" fill="#FF0000"/><line x1="3785.3" y1="1822.8" x2="3785.3" y2="1803.8" stroke="#222" stroke-width="1.1"/><line x1="3782.8" y1="1822.8" x2="3787.8" y2="1822.8" stroke="#222" stroke-width="1.1"/><line x1="3782.8" y1="1803.8" x2="3787.8" y2="1803.8" stroke="#222" stroke-width="1.1"/><rect x="3815.8" y="1803.8" width="12.2" height="26.1" fill="#90EE90"/><line x1="3821.9" y1="1804.3" x2="3821.9" y2="1803.4" stroke="#222" stroke-width="1.1"/><line x1="3819.4" y1="1804.3" x2="3824.4" y2="1804.3" stroke="#222" stroke-width="1.1"/><line x1="3819.4" y1="1803.4" x2="3824.4" y2="1803.4" stroke="#222" stroke-width="1.1"/><rect x="3828.0" y="1761.2" width="12.2" height="68.7" fill="#FFA500"/><line x1="3834.1" y1="1829.9" x2="3834.1" y2="1674.7" stroke="#222" stroke-width="1.1"/><line x1="3831.6" y1="1829.9" x2="3836.6" y2="1829.9" stroke="#222" stroke-width="1.1"/><line x1="3831.6" y1="1674.7" x2="3836.6" y2="1674.7" stroke="#222" stroke-width="1.1"/><rect x="3867.1" y="1724.5" width="12.2" height="105.4" fill="#FFB6C1"/><line x1="3873.2" y1="1829.9" x2="3873.2" y2="1672.4" stroke="#222" stroke-width="1.1"/><line x1="3870.7" y1="1829.9" x2="3875.7" y2="1829.9" stroke="#222" stroke-width="1.1"/><line x1="3870.7" y1="1672.4" x2="3875.7" y2="1672.4" stroke="#222" stroke-width="1.1"/><rect x="3879.3" y="1768.3" width="12.2" height="61.6" fill="#87CEEB"/><line x1="3885.4" y1="1829.9" x2="3885.4" y2="1645.1" stroke="#222" stroke-width="1.1"/><line x1="3882.9" y1="1829.9" x2="3887.9" y2="1829.9" stroke="#222" stroke-width="1.1"/><line x1="3882.9" y1="1645.1" x2="3887.9" y2="1645.1" stroke="#222" stroke-width="1.1"/><rect x="3891.5" y="1803.8" width="12.2" height="26.1" fill="#90EE90"/><line x1="3897.6" y1="1804.3" x2="3897.6" y2="1803.4" stroke="#222" stroke-width="1.1"/><line x1="3895.1" y1="1804.3" x2="3900.1" y2="1804.3" stroke="#222" stroke-width="1.1"/><line x1="3895.1" y1="1803.4" x2="3900.1" y2="1803.4" stroke="#222" stroke-width="1.1"/><rect x="3903.7" y="1771.9" width="12.2" height="58.0" fill="#FFA500"/><line x1="3909.8" y1="1815.7" x2="3909.8" y2="1729.2" stroke="#222" stroke-width="1.1"/><line x1="3907.3" y1="1815.7" x2="3912.3" y2="1815.7" stroke="#222" stroke-width="1.1"/><line x1="3907.3" y1="1729.2" x2="3912.3" y2="1729.2" stroke="#222" stroke-width="1.1"/><rect x="3968.1" y="1748.2" width="12.2" height="81.7" fill="#90EE90"/><line x1="3974.2" y1="1748.6" x2="3974.2" y2="1747.7" stroke="#222" stroke-width="1.1"/><line x1="3971.7" y1="1748.6" x2="3976.7" y2="1748.6" stroke="#222" stroke-width="1.1"/><line x1="3971.7" y1="1747.7" x2="3976.7" y2="1747.7" stroke="#222" stroke-width="1.1"/><rect x="3980.3" y="1775.4" width="12.2" height="54.5" fill="#FFA500"/><line x1="3986.4" y1="1801.5" x2="3986.4" y2="1748.2" stroke="#222" stroke-width="1.1"/><line x1="3983.9" y1="1801.5" x2="3988.9" y2="1801.5" stroke="#222" stroke-width="1.1"/><line x1="3983.9" y1="1748.2" x2="3988.9" y2="1748.2" stroke="#222" stroke-width="1.1"/><rect x="3687.5" y="1592" width="320.0" height="237.9000000000001" fill="none" stroke="#333" stroke-width="1.2"/><line x1="3683.5" y1="1593.0" x2="3687.5" y2="1593.0" stroke="#333" stroke-width="1.1"/><line x1="3683.5" y1="1640.4" x2="3687.5" y2="1640.4" stroke="#333" stroke-width="1.1"/><line x1="3683.5" y1="1687.8" x2="3687.5" y2="1687.8" stroke="#333" stroke-width="1.1"/><line x1="3683.5" y1="1735.1" x2="3687.5" y2="1735.1" stroke="#333" stroke-width="1.1"/><line x1="3683.5" y1="1782.5" x2="3687.5" y2="1782.5" stroke="#333" stroke-width="1.1"/><line x1="3683.5" y1="1829.9" x2="3687.5" y2="1829.9" stroke="#333" stroke-width="1.1"/><line x1="3733.0" y1="1829.9" x2="3733.0" y2="1833.9" stroke="#333" stroke-width="1.1"/><line x1="3809.7" y1="1829.9" x2="3809.7" y2="1833.9" stroke="#333" stroke-width="1.1"/><line x1="3885.4" y1="1829.9" x2="3885.4" y2="1833.9" stroke="#333" stroke-width="1.1"/><line x1="3962.0" y1="1829.9" x2="3962.0" y2="1833.9" stroke="#333" stroke-width="1.1"/><rect x="3889.3" y="1599.3" width="110.89999999999964" height="101.60000000000014" rx="3" fill="#fff" fill-opacity="0.8" stroke="#ccc" stroke-width="1"/><rect x="3895.3" y="1606" width="21.7" height="8" fill="#FF0000"/><rect x="3895.3" y="1625.6" width="21.7" height="8" fill="#FFB6C1"/><rect x="3895.3" y="1645.1" width="21.7" height="8" fill="#87CEEB"/><rect x="3895.3" y="1664.7" width="21.7" height="8" fill="#90EE90"/><rect x="3895.3" y="1684.2" width="21.7" height="8" fill="#FFA500"/></svg>
<div class="t" style="left:3656.9px;top:1593.1px;font-size:17px;font-family:'Liberation Sans';color:#222">1.0</div>
<div class="t" style="left:3656.9px;top:1640.5px;font-size:17px;font-family:'Liberation Sans';color:#222">0.8</div>
<div class="t" style="left:3656.9px;top:1687.9px;font-size:17px;font-family:'Liberation Sans';color:#222">0.6</div>
<div class="t" style="left:3656.9px;top:1735.2px;font-size:17px;font-family:'Liberation Sans';color:#222">0.4</div>
<div class="t" style="left:3656.9px;top:1782.6px;font-size:17px;font-family:'Liberation Sans';color:#222">0.2</div>
<div class="t" style="left:3656.9px;top:1830.0px;font-size:17px;font-family:'Liberation Sans';color:#222">0.0</div>
<div class="t" style="left:3709.4px;top:1842.6px;font-size:17px;font-family:'Liberation Sans';color:#222">expert</div>
<div class="t" style="left:3779.5px;top:1842.6px;font-size:17px;font-family:'Liberation Sans';color:#222">medium</div>
<div class="t" style="left:3852.3px;top:1842.6px;font-size:17px;font-family:'Liberation Sans';color:#222">m-replay</div>
<div class="t" style="left:3933.7px;top:1842.6px;font-size:17px;font-family:'Liberation Sans';color:#222">f-replay</div>
<div class="t" style="left:3926.0px;top:1610.2px;font-size:14px;font-family:'Liberation Sans';color:#222">SOPR-T</div>
<div class="t" style="left:3926.0px;top:1629.8px;font-size:14px;font-family:'Liberation Sans';color:#222">FQE</div>
<div class="t" style="left:3926.0px;top:1649.3px;font-size:14px;font-family:'Liberation Sans';color:#222">MB</div>
<div class="t" style="left:3926.0px;top:1668.9px;font-size:14px;font-family:'Liberation Sans';color:#222">IW</div>
<div class="t" style="left:3926.0px;top:1688.4px;font-size:14px;font-family:'Liberation Sans';color:#222">DualDICE</div>
<svg style="left:0;top:0" width="4324" height="2880"><line x1="3208.8" y1="1889.0" x2="3521.4" y2="1889.0" stroke="#d0d0d0" stroke-width="1.2"/><line x1="3208.8" y1="1945.0" x2="3521.4" y2="1945.0" stroke="#d0d0d0" stroke-width="1.2"/><line x1="3208.8" y1="2000.9" x2="3521.4" y2="2000.9" stroke="#d0d0d0" stroke-width="1.2"/><line x1="3208.8" y1="2056.8" x2="3521.4" y2="2056.8" stroke="#d0d0d0" stroke-width="1.2"/><line x1="3208.8" y1="2112.8" x2="3521.4" y2="2112.8" stroke="#d0d0d0" stroke-width="1.2"/><rect x="3223.7" y="1919.2" width="11.8" height="81.7" fill="#FF0000"/><line x1="3229.6" y1="1920.3" x2="3229.6" y2="1918.1" stroke="#222" stroke-width="1.1"/><line x1="3227.1" y1="1920.3" x2="3232.1" y2="1920.3" stroke="#222" stroke-width="1.1"/><line x1="3227.1" y1="1918.1" x2="3232.1" y2="1918.1" stroke="#222" stroke-width="1.1"/><rect x="3235.5" y="2000.9" width="11.8" height="30.2" fill="#FFB6C1"/><line x1="3241.4" y1="2042.3" x2="3241.4" y2="2011.0" stroke="#222" stroke-width="1.1"/><line x1="3238.9" y1="2042.3" x2="3243.9" y2="2042.3" stroke="#222" stroke-width="1.1"/><line x1="3238.9" y1="2011.0" x2="3243.9" y2="2011.0" stroke="#222" stroke-width="1.1"/><rect x="3247.3" y="1929.3" width="11.8" height="71.6" fill="#87CEEB"/><line x1="3253.2" y1="1950.5" x2="3253.2" y2="1908.0" stroke="#222" stroke-width="1.1"/><line x1="3250.7" y1="1950.5" x2="3255.7" y2="1950.5" stroke="#222" stroke-width="1.1"/><line x1="3250.7" y1="1908.0" x2="3255.7" y2="1908.0" stroke="#222" stroke-width="1.1"/><rect x="3259.1" y="1962.9" width="11.8" height="38.0" fill="#90EE90"/><line x1="3265.0" y1="1975.2" x2="3265.0" y2="1952.8" stroke="#222" stroke-width="1.1"/><line x1="3262.5" y1="1975.2" x2="3267.5" y2="1975.2" stroke="#222" stroke-width="1.1"/><line x1="3262.5" y1="1952.8" x2="3267.5" y2="1952.8" stroke="#222" stroke-width="1.1"/><rect x="3270.9" y="1978.5" width="11.8" height="22.4" fill="#FFA500"/><line x1="3276.8" y1="2000.9" x2="3276.8" y2="1964.0" stroke="#222" stroke-width="1.1"/><line x1="3274.3" y1="2000.9" x2="3279.3" y2="2000.9" stroke="#222" stroke-width="1.1"/><line x1="3274.3" y1="1964.0" x2="3279.3" y2="1964.0" stroke="#222" stroke-width="1.1"/><rect x="3297.5" y="1908.0" width="11.8" height="92.9" fill="#FF0000"/><line x1="3303.4" y1="1910.3" x2="3303.4" y2="1905.8" stroke="#222" stroke-width="1.1"/><line x1="3300.9" y1="1910.3" x2="3305.9" y2="1910.3" stroke="#222" stroke-width="1.1"/><line x1="3300.9" y1="1905.8" x2="3305.9" y2="1905.8" stroke="#222" stroke-width="1.1"/><rect x="3309.3" y="1988.6" width="11.8" height="12.3" fill="#FFB6C1"/><line x1="3315.2" y1="2005.4" x2="3315.2" y2="1969.6" stroke="#222" stroke-width="1.1"/><line x1="3312.7" y1="2005.4" x2="3317.7" y2="2005.4" stroke="#222" stroke-width="1.1"/><line x1="3312.7" y1="1969.6" x2="3317.7" y2="1969.6" stroke="#222" stroke-width="1.1"/><rect x="3321.1" y="1980.8" width="11.8" height="20.1" fill="#87CEEB"/><line x1="3327.0" y1="2003.1" x2="3327.0" y2="1960.6" stroke="#222" stroke-width="1.1"/><line x1="3324.5" y1="2003.1" x2="3329.5" y2="2003.1" stroke="#222" stroke-width="1.1"/><line x1="3324.5" y1="1960.6" x2="3329.5" y2="1960.6" stroke="#222" stroke-width="1.1"/><rect x="3332.9" y="1971.8" width="11.8" height="29.1" fill="#90EE90"/><line x1="3338.8" y1="1984.1" x2="3338.8" y2="1959.5" stroke="#222" stroke-width="1.1"/><line x1="3336.3" y1="1984.1" x2="3341.3" y2="1984.1" stroke="#222" stroke-width="1.1"/><line x1="3336.3" y1="1959.5" x2="3341.3" y2="1959.5" stroke="#222" stroke-width="1.1"/><rect x="3344.7" y="2000.9" width="11.8" height="15.7" fill="#FFA500"/><line x1="3350.6" y1="2053.5" x2="3350.6" y2="1983.0" stroke="#222" stroke-width="1.1"/><line x1="3348.1" y1="2053.5" x2="3353.1" y2="2053.5" stroke="#222" stroke-width="1.1"/><line x1="3348.1" y1="1983.0" x2="3353.1" y2="1983.0" stroke="#222" stroke-width="1.1"/><rect x="3372.2" y="1903.5" width="11.8" height="97.4" fill="#FF0000"/><line x1="3378.1" y1="1906.9" x2="3378.1" y2="1900.2" stroke="#222" stroke-width="1.1"/><line x1="3375.6" y1="1906.9" x2="3380.6" y2="1906.9" stroke="#222" stroke-width="1.1"/><line x1="3375.6" y1="1900.2" x2="3380.6" y2="1900.2" stroke="#222" stroke-width="1.1"/><rect x="3384.0" y="1931.5" width="11.8" height="69.4" fill="#FFB6C1"/><line x1="3389.9" y1="1945.0" x2="3389.9" y2="1914.7" stroke="#222" stroke-width="1.1"/><line x1="3387.4" y1="1945.0" x2="3392.4" y2="1945.0" stroke="#222" stroke-width="1.1"/><line x1="3387.4" y1="1914.7" x2="3392.4" y2="1914.7" stroke="#222" stroke-width="1.1"/><rect x="3395.8" y="1898.0" width="11.8" height="102.9" fill="#87CEEB"/><line x1="3401.7" y1="1905.8" x2="3401.7" y2="1890.1" stroke="#222" stroke-width="1.1"/><line x1="3399.2" y1="1905.8" x2="3404.2" y2="1905.8" stroke="#222" stroke-width="1.1"/><line x1="3399.2" y1="1890.1" x2="3404.2" y2="1890.1" stroke="#222" stroke-width="1.1"/><rect x="3407.6" y="2000.9" width="11.8" height="88.4" fill="#90EE90"/><line x1="3413.5" y1="2093.8" x2="3413.5" y2="2083.7" stroke="#222" stroke-width="1.1"/><line x1="3411.0" y1="2093.8" x2="3416.0" y2="2093.8" stroke="#222" stroke-width="1.1"/><line x1="3411.0" y1="2083.7" x2="3416.0" y2="2083.7" stroke="#222" stroke-width="1.1"/><rect x="3419.4" y="1981.9" width="11.8" height="19.0" fill="#FFA500"/><line x1="3425.3" y1="1997.5" x2="3425.3" y2="1965.1" stroke="#222" stroke-width="1.1"/><line x1="3422.8" y1="1997.5" x2="3427.8" y2="1997.5" stroke="#222" stroke-width="1.1"/><line x1="3422.8" y1="1965.1" x2="3427.8" y2="1965.1" stroke="#222" stroke-width="1.1"/><rect x="3446.5" y="1908.0" width="11.8" height="92.9" fill="#FF0000"/><line x1="3452.4" y1="1910.3" x2="3452.4" y2="1905.8" stroke="#222" stroke-width="1.1"/><line x1="3449.9" y1="1910.3" x2="3454.9" y2="1910.3" stroke="#222" stroke-width="1.1"/><line x1="3449.9" y1="1905.8" x2="3454.9" y2="1905.8" stroke="#222" stroke-width="1.1"/><rect x="3458.3" y="1910.3" width="11.8" height="90.6" fill="#FFB6C1"/><line x1="3464.2" y1="1912.5" x2="3464.2" y2="1906.9" stroke="#222" stroke-width="1.1"/><line x1="3461.7" y1="1912.5" x2="3466.7" y2="1912.5" stroke="#222" stroke-width="1.1"/><line x1="3461.7" y1="1906.9" x2="3466.7" y2="1906.9" stroke="#222" stroke-width="1.1"/><rect x="3470.1" y="1899.1" width="11.8" height="101.8" fill="#87CEEB"/><line x1="3476.0" y1="1903.5" x2="3476.0" y2="1894.6" stroke="#222" stroke-width="1.1"/><line x1="3473.5" y1="1903.5" x2="3478.5" y2="1903.5" stroke="#222" stroke-width="1.1"/><line x1="3473.5" y1="1894.6" x2="3478.5" y2="1894.6" stroke="#222" stroke-width="1.1"/><rect x="3481.9" y="2000.9" width="11.8" height="87.3" fill="#90EE90"/><line x1="3487.8" y1="2088.7" x2="3487.8" y2="2087.6" stroke="#222" stroke-width="1.1"/><line x1="3485.3" y1="2088.7" x2="3490.3" y2="2088.7" stroke="#222" stroke-width="1.1"/><line x1="3485.3" y1="2087.6" x2="3490.3" y2="2087.6" stroke="#222" stroke-width="1.1"/><rect x="3493.7" y="1997.5" width="11.8" height="3.4" fill="#FFA500"/><line x1="3499.6" y1="2021.0" x2="3499.6" y2="1972.9" stroke="#222" stroke-width="1.1"/><line x1="3497.1" y1="2021.0" x2="3502.1" y2="2021.0" stroke="#222" stroke-width="1.1"/><line x1="3497.1" y1="1972.9" x2="3502.1" y2="1972.9" stroke="#222" stroke-width="1.1"/><rect x="3208.8" y="1879.2" width="312.5999999999999" height="233.10000000000014" fill="none" stroke="#333" stroke-width="1.2"/><line x1="3204.8" y1="1889.0" x2="3208.8" y2="1889.0" stroke="#333" stroke-width="1.1"/><line x1="3204.8" y1="1945.0" x2="3208.8" y2="1945.0" stroke="#333" stroke-width="1.1"/><line x1="3204.8" y1="2000.9" x2="3208.8" y2="2000.9" stroke="#333" stroke-width="1.1"/><line x1="3204.8" y1="2056.8" x2="3208.8" y2="2056.8" stroke="#333" stroke-width="1.1"/><line x1="3204.8" y1="2112.8" x2="3208.8" y2="2112.8" stroke="#333" stroke-width="1.1"/><line x1="3253.2" y1="2112.3" x2="3253.2" y2="2116.3" stroke="#333" stroke-width="1.1"/><line x1="3327.0" y1="2112.3" x2="3327.0" y2="2116.3" stroke="#333" stroke-width="1.1"/><line x1="3401.7" y1="2112.3" x2="3401.7" y2="2116.3" stroke="#333" stroke-width="1.1"/><line x1="3476.0" y1="2112.3" x2="3476.0" y2="2116.3" stroke="#333" stroke-width="1.1"/></svg>
<div class="t" style="left:3178.2px;top:1889.1px;font-size:17px;font-family:'Liberation Sans';color:#222">1.0</div>
<div class="t" style="left:3178.2px;top:1945.1px;font-size:17px;font-family:'Liberation Sans';color:#222">0.5</div>
<div class="t" style="left:3178.2px;top:2001.0px;font-size:17px;font-family:'Liberation Sans';color:#222">0.0</div>
<div class="t" style="left:3168.2px;top:2057.0px;font-size:17px;font-family:'Liberation Sans';color:#222">−0.5</div>
<div class="t" style="left:3168.2px;top:2112.9px;font-size:17px;font-family:'Liberation Sans';color:#222">−1.0</div>
<div class="t" style="left:3229.6px;top:2124.9px;font-size:17px;font-family:'Liberation Sans';color:#222">expert</div>
<div class="t" style="left:3296.8px;top:2124.9px;font-size:17px;font-family:'Liberation Sans';color:#222">medium</div>
<div class="t" style="left:3368.6px;top:2124.9px;font-size:17px;font-family:'Liberation Sans';color:#222">m-replay</div>
<div class="t" style="left:3447.7px;top:2124.9px;font-size:17px;font-family:'Liberation Sans';color:#222">f-replay</div>
<svg style="left:0;top:0" width="4324" height="2880"><line x1="3687.5" y1="1873.9" x2="4007.5" y2="1873.9" stroke="#d0d0d0" stroke-width="1.2"/><line x1="3687.5" y1="1921.4" x2="4007.5" y2="1921.4" stroke="#d0d0d0" stroke-width="1.2"/><line x1="3687.5" y1="1968.9" x2="4007.5" y2="1968.9" stroke="#d0d0d0" stroke-width="1.2"/><line x1="3687.5" y1="2016.3" x2="4007.5" y2="2016.3" stroke="#d0d0d0" stroke-width="1.2"/><line x1="3687.5" y1="2063.8" x2="4007.5" y2="2063.8" stroke="#d0d0d0" stroke-width="1.2"/><line x1="3687.5" y1="2111.3" x2="4007.5" y2="2111.3" stroke="#d0d0d0" stroke-width="1.2"/><rect x="3714.7" y="2036.5" width="12.2" height="74.8" fill="#FFB6C1"/><line x1="3720.8" y1="2040.1" x2="3720.8" y2="2033.0" stroke="#222" stroke-width="1.1"/><line x1="3718.3" y1="2040.1" x2="3723.3" y2="2040.1" stroke="#222" stroke-width="1.1"/><line x1="3718.3" y1="2033.0" x2="3723.3" y2="2033.0" stroke="#222" stroke-width="1.1"/><rect x="3751.3" y="2057.9" width="12.2" height="53.4" fill="#FFA500"/><line x1="3757.4" y1="2111.3" x2="3757.4" y2="2019.9" stroke="#222" stroke-width="1.1"/><line x1="3754.9" y1="2111.3" x2="3759.9" y2="2111.3" stroke="#222" stroke-width="1.1"/><line x1="3754.9" y1="2019.9" x2="3759.9" y2="2019.9" stroke="#222" stroke-width="1.1"/><rect x="3791.4" y="2068.6" width="12.2" height="42.7" fill="#FFB6C1"/><line x1="3797.5" y1="2069.0" x2="3797.5" y2="2068.1" stroke="#222" stroke-width="1.1"/><line x1="3795.0" y1="2069.0" x2="3800.0" y2="2069.0" stroke="#222" stroke-width="1.1"/><line x1="3795.0" y1="2068.1" x2="3800.0" y2="2068.1" stroke="#222" stroke-width="1.1"/><rect x="3803.6" y="2085.2" width="12.2" height="26.1" fill="#87CEEB"/><line x1="3809.7" y1="2111.3" x2="3809.7" y2="2034.1" stroke="#222" stroke-width="1.1"/><line x1="3807.2" y1="2111.3" x2="3812.2" y2="2111.3" stroke="#222" stroke-width="1.1"/><line x1="3807.2" y1="2034.1" x2="3812.2" y2="2034.1" stroke="#222" stroke-width="1.1"/><rect x="3815.8" y="2087.6" width="12.2" height="23.7" fill="#90EE90"/><line x1="3821.9" y1="2111.3" x2="3821.9" y2="2040.1" stroke="#222" stroke-width="1.1"/><line x1="3819.4" y1="2111.3" x2="3824.4" y2="2111.3" stroke="#222" stroke-width="1.1"/><line x1="3819.4" y1="2040.1" x2="3824.4" y2="2040.1" stroke="#222" stroke-width="1.1"/><rect x="3828.0" y="2036.5" width="12.2" height="74.8" fill="#FFA500"/><line x1="3834.1" y1="2068.6" x2="3834.1" y2="2019.9" stroke="#222" stroke-width="1.1"/><line x1="3831.6" y1="2068.6" x2="3836.6" y2="2068.6" stroke="#222" stroke-width="1.1"/><line x1="3831.6" y1="2019.9" x2="3836.6" y2="2019.9" stroke="#222" stroke-width="1.1"/><rect x="3891.5" y="1991.4" width="12.2" height="119.9" fill="#90EE90"/><line x1="3897.6" y1="2019.9" x2="3897.6" y2="1934.4" stroke="#222" stroke-width="1.1"/><line x1="3895.1" y1="2019.9" x2="3900.1" y2="2019.9" stroke="#222" stroke-width="1.1"/><line x1="3895.1" y1="1934.4" x2="3900.1" y2="1934.4" stroke="#222" stroke-width="1.1"/><rect x="3903.7" y="2074.5" width="12.2" height="36.8" fill="#FFA500"/><line x1="3909.8" y1="2111.3" x2="3909.8" y2="2041.3" stroke="#222" stroke-width="1.1"/><line x1="3907.3" y1="2111.3" x2="3912.3" y2="2111.3" stroke="#222" stroke-width="1.1"/><line x1="3907.3" y1="2041.3" x2="3912.3" y2="2041.3" stroke="#222" stroke-width="1.1"/><rect x="3968.1" y="2019.9" width="12.2" height="91.4" fill="#90EE90"/><line x1="3974.2" y1="2020.4" x2="3974.2" y2="2019.4" stroke="#222" stroke-width="1.1"/><line x1="3971.7" y1="2020.4" x2="3976.7" y2="2020.4" stroke="#222" stroke-width="1.1"/><line x1="3971.7" y1="2019.4" x2="3976.7" y2="2019.4" stroke="#222" stroke-width="1.1"/><rect x="3980.3" y="2082.8" width="12.2" height="28.5" fill="#FFA500"/><line x1="3986.4" y1="2111.3" x2="3986.4" y2="2068.6" stroke="#222" stroke-width="1.1"/><line x1="3983.9" y1="2111.3" x2="3988.9" y2="2111.3" stroke="#222" stroke-width="1.1"/><line x1="3983.9" y1="2068.6" x2="3988.9" y2="2068.6" stroke="#222" stroke-width="1.1"/><rect x="3687.5" y="1873.9" width="320.0" height="237.4000000000001" fill="none" stroke="#333" stroke-width="1.2"/><line x1="3683.5" y1="1873.9" x2="3687.5" y2="1873.9" stroke="#333" stroke-width="1.1"/><line x1="3683.5" y1="1921.4" x2="3687.5" y2="1921.4" stroke="#333" stroke-width="1.1"/><line x1="3683.5" y1="1968.9" x2="3687.5" y2="1968.9" stroke="#333" stroke-width="1.1"/><line x1="3683.5" y1="2016.3" x2="3687.5" y2="2016.3" stroke="#333" stroke-width="1.1"/><line x1="3683.5" y1="2063.8" x2="3687.5" y2="2063.8" stroke="#333" stroke-width="1.1"/><line x1="3683.5" y1="2111.3" x2="3687.5" y2="2111.3" stroke="#333" stroke-width="1.1"/><line x1="3733.0" y1="2111.3" x2="3733.0" y2="2115.3" stroke="#333" stroke-width="1.1"/><line x1="3809.7" y1="2111.3" x2="3809.7" y2="2115.3" stroke="#333" stroke-width="1.1"/><line x1="3885.4" y1="2111.3" x2="3885.4" y2="2115.3" stroke="#333" stroke-width="1.1"/><line x1="3962.0" y1="2111.3" x2="3962.0" y2="2115.3" stroke="#333" stroke-width="1.1"/><rect x="3694.9" y="1880.7" width="111.29999999999973" height="102.09999999999991" rx="3" fill="#fff" fill-opacity="0.8" stroke="#ccc" stroke-width="1"/><rect x="3700.9" y="1887.5" width="21.7" height="8" fill="#FF0000"/><rect x="3700.9" y="1907" width="21.7" height="8" fill="#FFB6C1"/><rect x="3700.9" y="1926.5" width="21.7" height="8" fill="#87CEEB"/><rect x="3700.9" y="1946" width="21.7" height="8" fill="#90EE90"/><rect x="3700.9" y="1965.6" width="21.7" height="8" fill="#FFA500"/></svg>
<div class="t" style="left:3656.9px;top:1874.0px;font-size:17px;font-family:'Liberation Sans';color:#222">1.0</div>
<div class="t" style="left:3656.9px;top:1921.5px;font-size:17px;font-family:'Liberation Sans';color:#222">0.8</div>
<div class="t" style="left:3656.9px;top:1969.0px;font-size:17px;font-family:'Liberation Sans';color:#222">0.6</div>
<div class="t" style="left:3656.9px;top:2016.4px;font-size:17px;font-family:'Liberation Sans';color:#222">0.4</div>
<div class="t" style="left:3656.9px;top:2063.9px;font-size:17px;font-family:'Liberation Sans';color:#222">0.2</div>
<div class="t" style="left:3656.9px;top:2111.4px;font-size:17px;font-family:'Liberation Sans';color:#222">0.0</div>
<div class="t" style="left:3709.4px;top:2124.1px;font-size:17px;font-family:'Liberation Sans';color:#222">expert</div>
<div class="t" style="left:3779.5px;top:2124.1px;font-size:17px;font-family:'Liberation Sans';color:#222">medium</div>
<div class="t" style="left:3852.3px;top:2124.1px;font-size:17px;font-family:'Liberation Sans';color:#222">m-replay</div>
<div class="t" style="left:3933.7px;top:2124.1px;font-size:17px;font-family:'Liberation Sans';color:#222">f-replay</div>
<div class="t" style="left:3731.6px;top:1891.7px;font-size:14px;font-family:'Liberation Sans';color:#222">SOPR-T</div>
<div class="t" style="left:3731.6px;top:1911.2px;font-size:14px;font-family:'Liberation Sans';color:#222">FQE</div>
<div class="t" style="left:3731.6px;top:1930.7px;font-size:14px;font-family:'Liberation Sans';color:#222">MB</div>
<div class="t" style="left:3731.6px;top:1950.2px;font-size:14px;font-family:'Liberation Sans';color:#222">IW</div>
<div class="t" style="left:3731.6px;top:1969.8px;font-size:14px;font-family:'Liberation Sans';color:#222">DualDICE</div>
<div class="t" style="left:3086.3px;top:2164.3px;font-size:21.8px;font-family:'Liberation Sans',sans-serif;color:#283B4B;">Performance comparison among SOPR-T and 4 baseline algorithms on 4 kinds of datasets in Hopper game.</div>
<div class="t" style="left:3135.5px;top:2190.2px;font-size:21.85px;font-family:'Liberation Sans',sans-serif;color:#283B4B;">Top row: Test Set I. Bottom row: Test Set II. Left column: rank correlation. Right column: regret@3.</div>
<svg style="left:0;top:0" width="4324" height="2880"><line x1="3211.2" y1="2233.2" x2="3532.7" y2="2233.2" stroke="#d0d0d0" stroke-width="1.2"/><line x1="3211.2" y1="2268.8" x2="3532.7" y2="2268.8" stroke="#d0d0d0" stroke-width="1.2"/><line x1="3211.2" y1="2304.4" x2="3532.7" y2="2304.4" stroke="#d0d0d0" stroke-width="1.2"/><line x1="3211.2" y1="2339.9" x2="3532.7" y2="2339.9" stroke="#d0d0d0" stroke-width="1.2"/><line x1="3211.2" y1="2375.5" x2="3532.7" y2="2375.5" stroke="#d0d0d0" stroke-width="1.2"/><line x1="3211.2" y1="2411.1" x2="3532.7" y2="2411.1" stroke="#d0d0d0" stroke-width="1.2"/><line x1="3211.2" y1="2446.7" x2="3532.7" y2="2446.7" stroke="#d0d0d0" stroke-width="1.2"/><rect x="3225.8" y="2357.7" width="9.8" height="89.0" fill="#FF0000"/><rect x="3235.6" y="2393.3" width="9.8" height="53.4" fill="#FFA500"/><rect x="3245.4" y="2411.1" width="9.8" height="35.6" fill="#90EE90"/><rect x="3255.2" y="2428.9" width="9.8" height="17.8" fill="#87CEEB"/><rect x="3265.0" y="2428.9" width="9.8" height="17.8" fill="#8A2BE2"/><rect x="3286.9" y="2393.3" width="9.8" height="53.4" fill="#FF0000"/><rect x="3296.7" y="2357.7" width="9.8" height="89.0" fill="#FFA500"/><rect x="3316.3" y="2393.3" width="9.8" height="53.4" fill="#87CEEB"/><rect x="3326.1" y="2428.9" width="9.8" height="17.8" fill="#8A2BE2"/><rect x="3347.9" y="2411.1" width="9.8" height="35.6" fill="#FF0000"/><rect x="3357.7" y="2428.9" width="9.8" height="17.8" fill="#FFA500"/><rect x="3367.5" y="2375.5" width="9.8" height="71.2" fill="#90EE90"/><rect x="3377.3" y="2428.9" width="9.8" height="17.8" fill="#87CEEB"/><rect x="3387.1" y="2375.5" width="9.8" height="71.2" fill="#8A2BE2"/><rect x="3409.0" y="2428.9" width="9.8" height="17.8" fill="#FF0000"/><rect x="3418.8" y="2411.1" width="9.8" height="35.6" fill="#FFA500"/><rect x="3428.6" y="2375.5" width="9.8" height="71.2" fill="#90EE90"/><rect x="3438.4" y="2411.1" width="9.8" height="35.6" fill="#87CEEB"/><rect x="3448.2" y="2393.3" width="9.8" height="53.4" fill="#8A2BE2"/><rect x="3470.1" y="2428.9" width="9.8" height="17.8" fill="#FF0000"/><rect x="3479.9" y="2428.9" width="9.8" height="17.8" fill="#FFA500"/><rect x="3489.7" y="2411.1" width="9.8" height="35.6" fill="#90EE90"/><rect x="3499.5" y="2357.7" width="9.8" height="89.0" fill="#87CEEB"/><rect x="3509.3" y="2393.3" width="9.8" height="53.4" fill="#8A2BE2"/><rect x="3211.2" y="2233.2" width="321.5" height="213.5" fill="none" stroke="#333" stroke-width="1.2"/><line x1="3207.2" y1="2233.2" x2="3211.2" y2="2233.2" stroke="#333" stroke-width="1.1"/><line x1="3207.2" y1="2268.8" x2="3211.2" y2="2268.8" stroke="#333" stroke-width="1.1"/><line x1="3207.2" y1="2304.4" x2="3211.2" y2="2304.4" stroke="#333" stroke-width="1.1"/><line x1="3207.2" y1="2339.9" x2="3211.2" y2="2339.9" stroke="#333" stroke-width="1.1"/><line x1="3207.2" y1="2375.5" x2="3211.2" y2="2375.5" stroke="#333" stroke-width="1.1"/><line x1="3207.2" y1="2411.1" x2="3211.2" y2="2411.1" stroke="#333" stroke-width="1.1"/><line x1="3207.2" y1="2446.7" x2="3211.2" y2="2446.7" stroke="#333" stroke-width="1.1"/><line x1="3250.3" y1="2446.7" x2="3250.3" y2="2450.7" stroke="#333" stroke-width="1.1"/><line x1="3311.4" y1="2446.7" x2="3311.4" y2="2450.7" stroke="#333" stroke-width="1.1"/><line x1="3372.4" y1="2446.7" x2="3372.4" y2="2450.7" stroke="#333" stroke-width="1.1"/><line x1="3433.5" y1="2446.7" x2="3433.5" y2="2450.7" stroke="#333" stroke-width="1.1"/><line x1="3494.6" y1="2446.7" x2="3494.6" y2="2450.7" stroke="#333" stroke-width="1.1"/><ellipse cx="3246.9" cy="2406.9" rx="34.7" ry="72.5" fill="none" stroke="#E8202A" stroke-width="2"/></svg>
<div class="t" style="left:3185.3px;top:2233.3px;font-size:17px;font-family:'Liberation Sans';color:#222">12</div>
<div class="t" style="left:3185.3px;top:2268.9px;font-size:17px;font-family:'Liberation Sans';color:#222">10</div>
<div class="t" style="left:3194.7px;top:2304.5px;font-size:17px;font-family:'Liberation Sans';color:#222">8</div>
<div class="t" style="left:3194.7px;top:2340.1px;font-size:17px;font-family:'Liberation Sans';color:#222">6</div>
<div class="t" style="left:3194.7px;top:2375.6px;font-size:17px;font-family:'Liberation Sans';color:#222">4</div>
<div class="t" style="left:3194.7px;top:2411.2px;font-size:17px;font-family:'Liberation Sans';color:#222">2</div>
<div class="t" style="left:3194.7px;top:2446.8px;font-size:17px;font-family:'Liberation Sans';color:#222">0</div>
<div class="t" style="left:3240.2px;top:2457.9px;font-size:17px;font-family:'Liberation Sans';color:#222">1<span style="font-size:12px;font-style:italic;position:relative;top:-7px;margin-left:1.5px">st</span></div>
<div class="t" style="left:3299.2px;top:2457.9px;font-size:17px;font-family:'Liberation Sans';color:#222">2<span style="font-size:12px;font-style:italic;position:relative;top:-7px;margin-left:1.5px">nd</span></div>
<div class="t" style="left:3361.6px;top:2457.9px;font-size:17px;font-family:'Liberation Sans';color:#222">3<span style="font-size:12px;font-style:italic;position:relative;top:-7px;margin-left:1.5px">rd</span></div>
<div class="t" style="left:3423.0px;top:2457.9px;font-size:17px;font-family:'Liberation Sans';color:#222">4<span style="font-size:12px;font-style:italic;position:relative;top:-7px;margin-left:1.5px">th</span></div>
<div class="t" style="left:3484.1px;top:2457.9px;font-size:17px;font-family:'Liberation Sans';color:#222">5<span style="font-size:12px;font-style:italic;position:relative;top:-7px;margin-left:1.5px">th</span></div>
<div class="t" style="left:3280.3px;top:2483.3px;font-size:17px;font-family:'Liberation Sans';color:#222">Performance ranking</div>
<div class="t" style="left:3090.1px;top:2342.9px;font-size:17px;font-family:'Liberation Sans';color:#222;transform:rotate(-90deg);transform-origin:61.9px 0">Number of tasks</div>
<svg style="left:0;top:0" width="4324" height="2880"><line x1="3694.9" y1="2235.2" x2="4018.3" y2="2235.2" stroke="#d0d0d0" stroke-width="1.2"/><line x1="3694.9" y1="2270.9" x2="4018.3" y2="2270.9" stroke="#d0d0d0" stroke-width="1.2"/><line x1="3694.9" y1="2306.5" x2="4018.3" y2="2306.5" stroke="#d0d0d0" stroke-width="1.2"/><line x1="3694.9" y1="2342.2" x2="4018.3" y2="2342.2" stroke="#d0d0d0" stroke-width="1.2"/><line x1="3694.9" y1="2377.9" x2="4018.3" y2="2377.9" stroke="#d0d0d0" stroke-width="1.2"/><line x1="3694.9" y1="2413.5" x2="4018.3" y2="2413.5" stroke="#d0d0d0" stroke-width="1.2"/><line x1="3694.9" y1="2449.2" x2="4018.3" y2="2449.2" stroke="#d0d0d0" stroke-width="1.2"/><rect x="3709.5" y="2342.2" width="9.8" height="107.0" fill="#FF0000"/><rect x="3719.3" y="2377.9" width="9.8" height="71.3" fill="#FFA500"/><rect x="3729.1" y="2360.0" width="9.8" height="89.2" fill="#90EE90"/><rect x="3738.9" y="2360.0" width="9.8" height="89.2" fill="#87CEEB"/><rect x="3770.5" y="2431.4" width="9.8" height="17.8" fill="#FF0000"/><rect x="3780.3" y="2413.5" width="9.8" height="35.7" fill="#FFA500"/><rect x="3799.9" y="2431.4" width="9.8" height="17.8" fill="#87CEEB"/><rect x="3809.7" y="2431.4" width="9.8" height="17.8" fill="#8A2BE2"/><rect x="3831.5" y="2395.7" width="9.8" height="53.5" fill="#FF0000"/><rect x="3841.3" y="2395.7" width="9.8" height="53.5" fill="#FFA500"/><rect x="3851.1" y="2395.7" width="9.8" height="53.5" fill="#90EE90"/><rect x="3870.7" y="2395.7" width="9.8" height="53.5" fill="#8A2BE2"/><rect x="3892.5" y="2413.5" width="9.8" height="35.7" fill="#FF0000"/><rect x="3902.3" y="2413.5" width="9.8" height="35.7" fill="#FFA500"/><rect x="3912.1" y="2431.4" width="9.8" height="17.8" fill="#90EE90"/><rect x="3921.9" y="2413.5" width="9.8" height="35.7" fill="#87CEEB"/><rect x="3931.7" y="2360.0" width="9.8" height="89.2" fill="#8A2BE2"/><rect x="3963.3" y="2431.4" width="9.8" height="17.8" fill="#FFA500"/><rect x="3973.1" y="2395.7" width="9.8" height="53.5" fill="#90EE90"/><rect x="3982.9" y="2377.9" width="9.8" height="71.3" fill="#87CEEB"/><rect x="3992.7" y="2395.7" width="9.8" height="53.5" fill="#8A2BE2"/><rect x="3694.9" y="2235.2" width="323.4000000000001" height="214.0" fill="none" stroke="#333" stroke-width="1.2"/><line x1="3690.9" y1="2235.2" x2="3694.9" y2="2235.2" stroke="#333" stroke-width="1.1"/><line x1="3690.9" y1="2270.9" x2="3694.9" y2="2270.9" stroke="#333" stroke-width="1.1"/><line x1="3690.9" y1="2306.5" x2="3694.9" y2="2306.5" stroke="#333" stroke-width="1.1"/><line x1="3690.9" y1="2342.2" x2="3694.9" y2="2342.2" stroke="#333" stroke-width="1.1"/><line x1="3690.9" y1="2377.9" x2="3694.9" y2="2377.9" stroke="#333" stroke-width="1.1"/><line x1="3690.9" y1="2413.5" x2="3694.9" y2="2413.5" stroke="#333" stroke-width="1.1"/><line x1="3690.9" y1="2449.2" x2="3694.9" y2="2449.2" stroke="#333" stroke-width="1.1"/><line x1="3734.0" y1="2449.2" x2="3734.0" y2="2453.2" stroke="#333" stroke-width="1.1"/><line x1="3795.0" y1="2449.2" x2="3795.0" y2="2453.2" stroke="#333" stroke-width="1.1"/><line x1="3856.0" y1="2449.2" x2="3856.0" y2="2453.2" stroke="#333" stroke-width="1.1"/><line x1="3917.0" y1="2449.2" x2="3917.0" y2="2453.2" stroke="#333" stroke-width="1.1"/><line x1="3978.0" y1="2449.2" x2="3978.0" y2="2453.2" stroke="#333" stroke-width="1.1"/><ellipse cx="3730.3" cy="2399.9" rx="35.4" ry="78.6" fill="none" stroke="#E8202A" stroke-width="2"/><rect x="3913.7" y="2240.5" width="98.70000000000027" height="89.0" rx="3" fill="#fff" fill-opacity="0.8" stroke="#ccc" stroke-width="1"/><rect x="3919.7" y="2245.8" width="18.6" height="8" fill="#FF0000"/><rect x="3919.7" y="2262.9" width="18.6" height="8" fill="#FFA500"/><rect x="3919.7" y="2280" width="18.6" height="8" fill="#90EE90"/><rect x="3919.7" y="2297.1" width="18.6" height="8" fill="#87CEEB"/><rect x="3919.7" y="2314.7" width="18.6" height="8" fill="#8A2BE2"/></svg>
<div class="t" style="left:3669.0px;top:2235.3px;font-size:17px;font-family:'Liberation Sans';color:#222">12</div>
<div class="t" style="left:3669.0px;top:2271.0px;font-size:17px;font-family:'Liberation Sans';color:#222">10</div>
<div class="t" style="left:3678.4px;top:2306.6px;font-size:17px;font-family:'Liberation Sans';color:#222">8</div>
<div class="t" style="left:3678.4px;top:2342.3px;font-size:17px;font-family:'Liberation Sans';color:#222">6</div>
<div class="t" style="left:3678.4px;top:2378.0px;font-size:17px;font-family:'Liberation Sans';color:#222">4</div>
<div class="t" style="left:3678.4px;top:2413.6px;font-size:17px;font-family:'Liberation Sans';color:#222">2</div>
<div class="t" style="left:3678.4px;top:2449.3px;font-size:17px;font-family:'Liberation Sans';color:#222">0</div>
<div class="t" style="left:3723.9px;top:2460.3px;font-size:17px;font-family:'Liberation Sans';color:#222">1<span style="font-size:12px;font-style:italic;position:relative;top:-7px;margin-left:1.5px">st</span></div>
<div class="t" style="left:3782.8px;top:2460.3px;font-size:17px;font-family:'Liberation Sans';color:#222">2<span style="font-size:12px;font-style:italic;position:relative;top:-7px;margin-left:1.5px">nd</span></div>
<div class="t" style="left:3845.2px;top:2460.3px;font-size:17px;font-family:'Liberation Sans';color:#222">3<span style="font-size:12px;font-style:italic;position:relative;top:-7px;margin-left:1.5px">rd</span></div>
<div class="t" style="left:3906.5px;top:2460.3px;font-size:17px;font-family:'Liberation Sans';color:#222">4<span style="font-size:12px;font-style:italic;position:relative;top:-7px;margin-left:1.5px">th</span></div>
<div class="t" style="left:3967.5px;top:2460.3px;font-size:17px;font-family:'Liberation Sans';color:#222">5<span style="font-size:12px;font-style:italic;position:relative;top:-7px;margin-left:1.5px">th</span></div>
<div class="t" style="left:3947.3px;top:2250.0px;font-size:12px;font-family:'Liberation Sans';color:#222">SOPR-T</div>
<div class="t" style="left:3947.3px;top:2267.1px;font-size:12px;font-family:'Liberation Sans';color:#222">MB</div>
<div class="t" style="left:3947.3px;top:2284.2px;font-size:12px;font-family:'Liberation Sans';color:#222">FQE</div>
<div class="t" style="left:3947.3px;top:2301.3px;font-size:12px;font-family:'Liberation Sans';color:#222">IW</div>
<div class="t" style="left:3947.3px;top:2318.9px;font-size:12px;font-family:'Liberation Sans';color:#222">DualDICE</div>
<div class="t" style="left:3764.7px;top:2486.2px;font-size:17px;font-family:'Liberation Sans';color:#222">Performance ranking</div>
<div class="t" style="left:3574.1px;top:2345.0px;font-size:17px;font-family:'Liberation Sans';color:#222;transform:rotate(-90deg);transform-origin:61.9px 0">Number of tasks</div>
<svg style="left:0;top:0" width="4324" height="2880"><line x1="3215.1" y1="2509.2" x2="3530.2" y2="2509.2" stroke="#d0d0d0" stroke-width="1.2"/><line x1="3215.1" y1="2544.4" x2="3530.2" y2="2544.4" stroke="#d0d0d0" stroke-width="1.2"/><line x1="3215.1" y1="2579.6" x2="3530.2" y2="2579.6" stroke="#d0d0d0" stroke-width="1.2"/><line x1="3215.1" y1="2614.8" x2="3530.2" y2="2614.8" stroke="#d0d0d0" stroke-width="1.2"/><line x1="3215.1" y1="2649.9" x2="3530.2" y2="2649.9" stroke="#d0d0d0" stroke-width="1.2"/><line x1="3215.1" y1="2685.1" x2="3530.2" y2="2685.1" stroke="#d0d0d0" stroke-width="1.2"/><line x1="3215.1" y1="2720.3" x2="3530.2" y2="2720.3" stroke="#d0d0d0" stroke-width="1.2"/><rect x="3230.7" y="2544.4" width="9.4" height="175.9" fill="#FF0000"/><rect x="3240.1" y="2685.1" width="9.4" height="35.2" fill="#FFA500"/><rect x="3289.3" y="2685.1" width="9.4" height="35.2" fill="#FF0000"/><rect x="3298.7" y="2614.8" width="9.4" height="105.6" fill="#FFA500"/><rect x="3308.1" y="2685.1" width="9.4" height="35.2" fill="#90EE90"/><rect x="3317.5" y="2702.7" width="9.4" height="17.6" fill="#87CEEB"/><rect x="3326.9" y="2702.7" width="9.4" height="17.6" fill="#8A2BE2"/><rect x="3358.3" y="2685.1" width="9.4" height="35.2" fill="#FFA500"/><rect x="3367.7" y="2649.9" width="9.4" height="70.4" fill="#90EE90"/><rect x="3377.1" y="2702.7" width="9.4" height="17.6" fill="#87CEEB"/><rect x="3386.5" y="2632.3" width="9.4" height="88.0" fill="#8A2BE2"/><rect x="3418.4" y="2685.1" width="9.4" height="35.2" fill="#FFA500"/><rect x="3427.8" y="2632.3" width="9.4" height="88.0" fill="#90EE90"/><rect x="3446.6" y="2632.3" width="9.4" height="88.0" fill="#8A2BE2"/><rect x="3487.4" y="2702.7" width="9.4" height="17.6" fill="#90EE90"/><rect x="3496.8" y="2544.4" width="9.4" height="175.9" fill="#87CEEB"/><rect x="3506.2" y="2702.7" width="9.4" height="17.6" fill="#8A2BE2"/><rect x="3215.1" y="2509.2" width="315.0999999999999" height="211.10000000000036" fill="none" stroke="#333" stroke-width="1.2"/><line x1="3211.1" y1="2509.2" x2="3215.1" y2="2509.2" stroke="#333" stroke-width="1.1"/><line x1="3211.1" y1="2544.4" x2="3215.1" y2="2544.4" stroke="#333" stroke-width="1.1"/><line x1="3211.1" y1="2579.6" x2="3215.1" y2="2579.6" stroke="#333" stroke-width="1.1"/><line x1="3211.1" y1="2614.8" x2="3215.1" y2="2614.8" stroke="#333" stroke-width="1.1"/><line x1="3211.1" y1="2649.9" x2="3215.1" y2="2649.9" stroke="#333" stroke-width="1.1"/><line x1="3211.1" y1="2685.1" x2="3215.1" y2="2685.1" stroke="#333" stroke-width="1.1"/><line x1="3211.1" y1="2720.3" x2="3215.1" y2="2720.3" stroke="#333" stroke-width="1.1"/><line x1="3254.2" y1="2720.3" x2="3254.2" y2="2724.3" stroke="#333" stroke-width="1.1"/><line x1="3312.8" y1="2720.3" x2="3312.8" y2="2724.3" stroke="#333" stroke-width="1.1"/><line x1="3372.4" y1="2720.3" x2="3372.4" y2="2724.3" stroke="#333" stroke-width="1.1"/><line x1="3432.5" y1="2720.3" x2="3432.5" y2="2724.3" stroke="#333" stroke-width="1.1"/><line x1="3492.1" y1="2720.3" x2="3492.1" y2="2724.3" stroke="#333" stroke-width="1.1"/><ellipse cx="3254" cy="2631.9" rx="40.3" ry="125" fill="none" stroke="#20A040" stroke-width="2"/></svg>
<div class="t" style="left:3189.2px;top:2509.3px;font-size:17px;font-family:'Liberation Sans';color:#222">12</div>
<div class="t" style="left:3189.2px;top:2544.5px;font-size:17px;font-family:'Liberation Sans';color:#222">10</div>
<div class="t" style="left:3198.6px;top:2579.7px;font-size:17px;font-family:'Liberation Sans';color:#222">8</div>
<div class="t" style="left:3198.6px;top:2614.9px;font-size:17px;font-family:'Liberation Sans';color:#222">6</div>
<div class="t" style="left:3198.6px;top:2650.0px;font-size:17px;font-family:'Liberation Sans';color:#222">4</div>
<div class="t" style="left:3198.6px;top:2685.2px;font-size:17px;font-family:'Liberation Sans';color:#222">2</div>
<div class="t" style="left:3198.6px;top:2720.4px;font-size:17px;font-family:'Liberation Sans';color:#222">0</div>
<div class="t" style="left:3244.1px;top:2730.5px;font-size:17px;font-family:'Liberation Sans';color:#222">1<span style="font-size:12px;font-style:italic;position:relative;top:-7px;margin-left:1.5px">st</span></div>
<div class="t" style="left:3300.6px;top:2730.5px;font-size:17px;font-family:'Liberation Sans';color:#222">2<span style="font-size:12px;font-style:italic;position:relative;top:-7px;margin-left:1.5px">nd</span></div>
<div class="t" style="left:3361.6px;top:2730.5px;font-size:17px;font-family:'Liberation Sans';color:#222">3<span style="font-size:12px;font-style:italic;position:relative;top:-7px;margin-left:1.5px">rd</span></div>
<div class="t" style="left:3422.0px;top:2730.5px;font-size:17px;font-family:'Liberation Sans';color:#222">4<span style="font-size:12px;font-style:italic;position:relative;top:-7px;margin-left:1.5px">th</span></div>
<div class="t" style="left:3481.6px;top:2730.5px;font-size:17px;font-family:'Liberation Sans';color:#222">5<span style="font-size:12px;font-style:italic;position:relative;top:-7px;margin-left:1.5px">th</span></div>
<div class="t" style="left:3280.6px;top:2755.9px;font-size:17px;font-family:'Liberation Sans';color:#222">Performance ranking</div>
<div class="t" style="left:3095.1px;top:2619.0px;font-size:17px;font-family:'Liberation Sans';color:#222;transform:rotate(-90deg);transform-origin:61.9px 0">Number of tasks</div>
<svg style="left:0;top:0" width="4324" height="2880"><line x1="3698.8" y1="2528.3" x2="4009" y2="2528.3" stroke="#d0d0d0" stroke-width="1.2"/><line x1="3698.8" y1="2561.0" x2="4009" y2="2561.0" stroke="#d0d0d0" stroke-width="1.2"/><line x1="3698.8" y1="2593.6" x2="4009" y2="2593.6" stroke="#d0d0d0" stroke-width="1.2"/><line x1="3698.8" y1="2626.2" x2="4009" y2="2626.2" stroke="#d0d0d0" stroke-width="1.2"/><line x1="3698.8" y1="2658.9" x2="4009" y2="2658.9" stroke="#d0d0d0" stroke-width="1.2"/><line x1="3698.8" y1="2691.5" x2="4009" y2="2691.5" stroke="#d0d0d0" stroke-width="1.2"/><line x1="3698.8" y1="2724.2" x2="4009" y2="2724.2" stroke="#d0d0d0" stroke-width="1.2"/><rect x="3715.3" y="2528.3" width="9.4" height="195.9" fill="#FF0000"/><rect x="3724.7" y="2675.2" width="9.4" height="49.0" fill="#FFA500"/><rect x="3734.1" y="2658.9" width="9.4" height="65.3" fill="#90EE90"/><rect x="3743.5" y="2707.9" width="9.4" height="16.3" fill="#87CEEB"/><rect x="3752.9" y="2707.9" width="9.4" height="16.3" fill="#8A2BE2"/><rect x="3780.9" y="2658.9" width="9.4" height="65.3" fill="#FFA500"/><rect x="3799.7" y="2707.9" width="9.4" height="16.3" fill="#87CEEB"/><rect x="3809.1" y="2691.5" width="9.4" height="32.7" fill="#8A2BE2"/><rect x="3839.5" y="2691.5" width="9.4" height="32.7" fill="#FFA500"/><rect x="3848.9" y="2675.2" width="9.4" height="49.0" fill="#90EE90"/><rect x="3867.7" y="2675.2" width="9.4" height="49.0" fill="#8A2BE2"/><rect x="3898.2" y="2675.2" width="9.4" height="49.0" fill="#FFA500"/><rect x="3907.6" y="2658.9" width="9.4" height="65.3" fill="#90EE90"/><rect x="3917.0" y="2707.9" width="9.4" height="16.3" fill="#87CEEB"/><rect x="3926.4" y="2658.9" width="9.4" height="65.3" fill="#8A2BE2"/><rect x="3966.2" y="2707.9" width="9.4" height="16.3" fill="#90EE90"/><rect x="3975.6" y="2577.3" width="9.4" height="146.9" fill="#87CEEB"/><rect x="3985.0" y="2691.5" width="9.4" height="32.7" fill="#8A2BE2"/><rect x="3698.8" y="2517.5" width="310.1999999999998" height="206.69999999999982" fill="none" stroke="#333" stroke-width="1.2"/><line x1="3694.8" y1="2528.3" x2="3698.8" y2="2528.3" stroke="#333" stroke-width="1.1"/><line x1="3694.8" y1="2561.0" x2="3698.8" y2="2561.0" stroke="#333" stroke-width="1.1"/><line x1="3694.8" y1="2593.6" x2="3698.8" y2="2593.6" stroke="#333" stroke-width="1.1"/><line x1="3694.8" y1="2626.2" x2="3698.8" y2="2626.2" stroke="#333" stroke-width="1.1"/><line x1="3694.8" y1="2658.9" x2="3698.8" y2="2658.9" stroke="#333" stroke-width="1.1"/><line x1="3694.8" y1="2691.5" x2="3698.8" y2="2691.5" stroke="#333" stroke-width="1.1"/><line x1="3694.8" y1="2724.2" x2="3698.8" y2="2724.2" stroke="#333" stroke-width="1.1"/><line x1="3738.8" y1="2724.2" x2="3738.8" y2="2728.2" stroke="#333" stroke-width="1.1"/><line x1="3795.0" y1="2724.2" x2="3795.0" y2="2728.2" stroke="#333" stroke-width="1.1"/><line x1="3853.6" y1="2724.2" x2="3853.6" y2="2728.2" stroke="#333" stroke-width="1.1"/><line x1="3912.3" y1="2724.2" x2="3912.3" y2="2728.2" stroke="#333" stroke-width="1.1"/><line x1="3970.9" y1="2724.2" x2="3970.9" y2="2728.2" stroke="#333" stroke-width="1.1"/><ellipse cx="3735.2" cy="2630.4" rx="35.5" ry="125" fill="none" stroke="#20A040" stroke-width="2"/><rect x="3806.3" y="2522.4" width="94.69999999999982" height="86.5" rx="3" fill="#fff" fill-opacity="0.8" stroke="#ccc" stroke-width="1"/><rect x="3812.3" y="2528.2" width="17.8" height="8" fill="#FF0000"/><rect x="3812.3" y="2544.8" width="17.8" height="8" fill="#FFA500"/><rect x="3812.3" y="2561.4" width="17.8" height="8" fill="#90EE90"/><rect x="3812.3" y="2578" width="17.8" height="8" fill="#87CEEB"/><rect x="3812.3" y="2594.6" width="17.8" height="8" fill="#8A2BE2"/></svg>
<div class="t" style="left:3672.9px;top:2528.4px;font-size:17px;font-family:'Liberation Sans';color:#222">12</div>
<div class="t" style="left:3672.9px;top:2561.1px;font-size:17px;font-family:'Liberation Sans';color:#222">10</div>
<div class="t" style="left:3682.3px;top:2593.7px;font-size:17px;font-family:'Liberation Sans';color:#222">8</div>
<div class="t" style="left:3682.3px;top:2626.4px;font-size:17px;font-family:'Liberation Sans';color:#222">6</div>
<div class="t" style="left:3682.3px;top:2659.0px;font-size:17px;font-family:'Liberation Sans';color:#222">4</div>
<div class="t" style="left:3682.3px;top:2691.7px;font-size:17px;font-family:'Liberation Sans';color:#222">2</div>
<div class="t" style="left:3682.3px;top:2724.3px;font-size:17px;font-family:'Liberation Sans';color:#222">0</div>
<div class="t" style="left:3728.7px;top:2733.9px;font-size:17px;font-family:'Liberation Sans';color:#222">1<span style="font-size:12px;font-style:italic;position:relative;top:-7px;margin-left:1.5px">st</span></div>
<div class="t" style="left:3782.8px;top:2733.9px;font-size:17px;font-family:'Liberation Sans';color:#222">2<span style="font-size:12px;font-style:italic;position:relative;top:-7px;margin-left:1.5px">nd</span></div>
<div class="t" style="left:3842.8px;top:2733.9px;font-size:17px;font-family:'Liberation Sans';color:#222">3<span style="font-size:12px;font-style:italic;position:relative;top:-7px;margin-left:1.5px">rd</span></div>
<div class="t" style="left:3901.8px;top:2733.9px;font-size:17px;font-family:'Liberation Sans';color:#222">4<span style="font-size:12px;font-style:italic;position:relative;top:-7px;margin-left:1.5px">th</span></div>
<div class="t" style="left:3960.4px;top:2733.9px;font-size:17px;font-family:'Liberation Sans';color:#222">5<span style="font-size:12px;font-style:italic;position:relative;top:-7px;margin-left:1.5px">th</span></div>
<div class="t" style="left:3839.1px;top:2532.4px;font-size:11.5px;font-family:'Liberation Sans';color:#222">SOPR-T</div>
<div class="t" style="left:3839.1px;top:2549.0px;font-size:11.5px;font-family:'Liberation Sans';color:#222">MB</div>
<div class="t" style="left:3839.1px;top:2565.6px;font-size:11.5px;font-family:'Liberation Sans';color:#222">FQE</div>
<div class="t" style="left:3839.1px;top:2582.2px;font-size:11.5px;font-family:'Liberation Sans';color:#222">IW</div>
<div class="t" style="left:3839.1px;top:2598.8px;font-size:11.5px;font-family:'Liberation Sans';color:#222">DualDICE</div>
<div class="t" style="left:3763.0px;top:2759.8px;font-size:17px;font-family:'Liberation Sans';color:#222">Performance ranking</div>
<div class="t" style="left:3580.1px;top:2623.8px;font-size:17px;font-family:'Liberation Sans';color:#222;transform:rotate(-90deg);transform-origin:61.9px 0">Number of tasks</div>
<div class="t" style="left:3078.5px;top:2794.3px;font-size:21.8px;font-family:'Liberation Sans',sans-serif;color:#283B4B;">Performance ranking statistics among SOPR-T and 4 baseline algorithms on 12 tasks in three Mujoco games.</div>
<div class="t" style="left:3135.5px;top:2820.2px;font-size:21.9px;font-family:'Liberation Sans',sans-serif;color:#283B4B;">Top row: Test Set I. Bottom row: Test Set II. Left column: rank correlation. Right column: regret@3.</div>
</body></html>
